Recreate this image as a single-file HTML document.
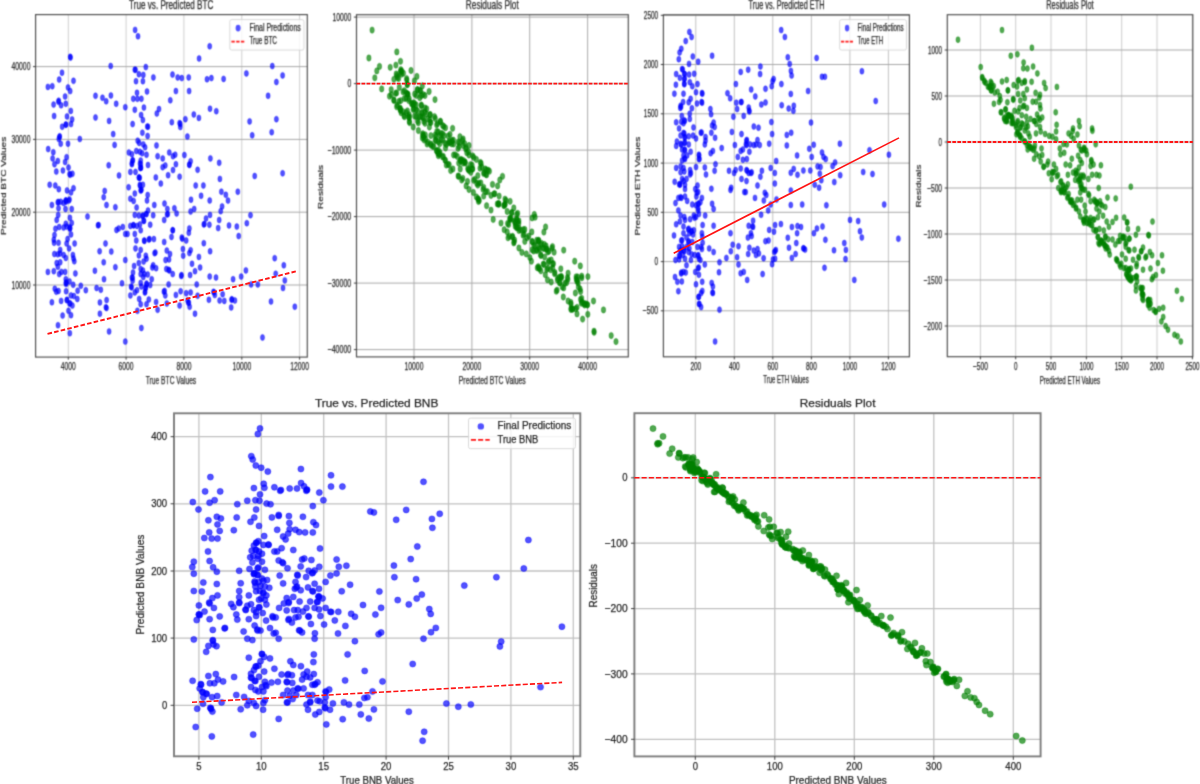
<!DOCTYPE html><html><head><meta charset="utf-8"><title>Predictions vs Residuals</title><style>html,body{margin:0;padding:0;background:#fff;width:1200px;height:784px;overflow:hidden}</style></head><body><svg width="1200" height="784" viewBox="0 0 1200 784" style="display:block;font-family:'Liberation Sans', sans-serif">
<rect width="1200" height="784" fill="#fff"/>
<defs>
<clipPath id="c1"><rect x="35.6" y="14.6" width="271.7" height="342.5"/></clipPath>
<clipPath id="c2"><rect x="356.5" y="14.7" width="271.8" height="342.2"/></clipPath>
<clipPath id="c3"><rect x="663.4" y="14.8" width="246.0" height="342.0"/></clipPath>
<clipPath id="c4"><rect x="947.3" y="14.7" width="245.5" height="342.0"/></clipPath>
<clipPath id="c5"><rect x="174.0" y="413.3" width="406.3" height="343.0"/></clipPath>
<clipPath id="c6"><rect x="634.4" y="413.2" width="406.2" height="343.2"/></clipPath>
<filter id="bt" filterUnits="userSpaceOnUse" x="0" y="0" width="1200" height="392" color-interpolation-filters="sRGB"><feConvolveMatrix order="3" kernelMatrix="1 3 1 3 9 3 1 3 1" divisor="25" edgeMode="none"/></filter>
<filter id="bb" filterUnits="userSpaceOnUse" x="0" y="390" width="1200" height="394" color-interpolation-filters="sRGB"><feConvolveMatrix order="3" kernelMatrix="1 4 1 4 16 4 1 4 1" divisor="36" edgeMode="none"/></filter>
</defs>
<g filter="url(#bt)">
<g stroke="#cfcfcf" stroke-width="1.0">
<line x1="68.3" y1="14.6" x2="68.3" y2="357.1"/>
<line x1="126.1" y1="14.6" x2="126.1" y2="357.1"/>
<line x1="183.9" y1="14.6" x2="183.9" y2="357.1"/>
<line x1="241.8" y1="14.6" x2="241.8" y2="357.1"/>
<line x1="299.6" y1="14.6" x2="299.6" y2="357.1"/>
</g>
<g stroke="#a8a8a8" stroke-width="1.0">
<line x1="35.6" y1="285.0" x2="307.3" y2="285.0"/>
<line x1="35.6" y1="212.2" x2="307.3" y2="212.2"/>
<line x1="35.6" y1="139.4" x2="307.3" y2="139.4"/>
<line x1="35.6" y1="66.6" x2="307.3" y2="66.6"/>
</g>
<g clip-path="url(#c1)">
<g fill="#0000ff" fill-opacity="0.68" stroke="#0000ff" stroke-opacity="0.68" stroke-width="0.6">
<ellipse cx="70.5" cy="57.6" rx="2.0" ry="3.0"/>
<ellipse cx="70.2" cy="56.8" rx="2.0" ry="3.0"/>
<ellipse cx="110.7" cy="66.0" rx="2.0" ry="3.0"/>
<ellipse cx="62.0" cy="72.7" rx="2.0" ry="3.0"/>
<ellipse cx="59.2" cy="79.6" rx="2.0" ry="3.0"/>
<ellipse cx="73.5" cy="80.8" rx="2.0" ry="3.0"/>
<ellipse cx="47.9" cy="86.9" rx="2.0" ry="3.0"/>
<ellipse cx="52.3" cy="86.2" rx="2.0" ry="3.0"/>
<ellipse cx="68.0" cy="87.4" rx="2.0" ry="3.0"/>
<ellipse cx="70.2" cy="91.1" rx="2.0" ry="3.0"/>
<ellipse cx="65.1" cy="96.5" rx="2.0" ry="3.0"/>
<ellipse cx="58.5" cy="101.8" rx="2.0" ry="3.0"/>
<ellipse cx="58.7" cy="100.7" rx="2.0" ry="3.0"/>
<ellipse cx="53.6" cy="104.6" rx="2.0" ry="3.0"/>
<ellipse cx="61.1" cy="105.3" rx="2.0" ry="3.0"/>
<ellipse cx="65.8" cy="103.8" rx="2.0" ry="3.0"/>
<ellipse cx="95.5" cy="95.8" rx="2.0" ry="3.0"/>
<ellipse cx="102.5" cy="97.7" rx="2.0" ry="3.0"/>
<ellipse cx="106.2" cy="101.3" rx="2.0" ry="3.0"/>
<ellipse cx="110.9" cy="95.5" rx="2.0" ry="3.0"/>
<ellipse cx="116.2" cy="103.8" rx="2.0" ry="3.0"/>
<ellipse cx="125.3" cy="107.2" rx="2.0" ry="3.0"/>
<ellipse cx="70.8" cy="110.9" rx="2.0" ry="3.0"/>
<ellipse cx="54.1" cy="116.0" rx="2.0" ry="3.0"/>
<ellipse cx="67.0" cy="116.4" rx="2.0" ry="3.0"/>
<ellipse cx="72.1" cy="119.4" rx="2.0" ry="3.0"/>
<ellipse cx="95.5" cy="117.5" rx="2.0" ry="3.0"/>
<ellipse cx="109.1" cy="120.9" rx="2.0" ry="3.0"/>
<ellipse cx="62.2" cy="126.7" rx="2.0" ry="3.0"/>
<ellipse cx="65.8" cy="124.8" rx="2.0" ry="3.0"/>
<ellipse cx="65.9" cy="124.5" rx="2.0" ry="3.0"/>
<ellipse cx="71.0" cy="124.1" rx="2.0" ry="3.0"/>
<ellipse cx="135.1" cy="29.9" rx="2.0" ry="3.0"/>
<ellipse cx="138.0" cy="36.3" rx="2.0" ry="3.0"/>
<ellipse cx="209.7" cy="46.3" rx="2.0" ry="3.0"/>
<ellipse cx="199.1" cy="58.5" rx="2.0" ry="3.0"/>
<ellipse cx="145.8" cy="67.1" rx="2.0" ry="3.0"/>
<ellipse cx="135.5" cy="69.8" rx="2.0" ry="3.0"/>
<ellipse cx="134.8" cy="69.8" rx="2.0" ry="3.0"/>
<ellipse cx="138.9" cy="74.2" rx="2.0" ry="3.0"/>
<ellipse cx="143.3" cy="74.9" rx="2.0" ry="3.0"/>
<ellipse cx="153.4" cy="77.4" rx="2.0" ry="3.0"/>
<ellipse cx="136.0" cy="81.2" rx="2.0" ry="3.0"/>
<ellipse cx="142.9" cy="81.2" rx="2.0" ry="3.0"/>
<ellipse cx="172.5" cy="74.6" rx="2.0" ry="3.0"/>
<ellipse cx="177.7" cy="77.4" rx="2.0" ry="3.0"/>
<ellipse cx="181.8" cy="78.1" rx="2.0" ry="3.0"/>
<ellipse cx="188.7" cy="77.4" rx="2.0" ry="3.0"/>
<ellipse cx="207.0" cy="79.3" rx="2.0" ry="3.0"/>
<ellipse cx="211.4" cy="78.1" rx="2.0" ry="3.0"/>
<ellipse cx="137.0" cy="92.8" rx="2.0" ry="3.0"/>
<ellipse cx="147.0" cy="91.5" rx="2.0" ry="3.0"/>
<ellipse cx="175.9" cy="91.1" rx="2.0" ry="3.0"/>
<ellipse cx="189.1" cy="91.1" rx="2.0" ry="3.0"/>
<ellipse cx="133.3" cy="98.8" rx="2.0" ry="3.0"/>
<ellipse cx="137.4" cy="98.8" rx="2.0" ry="3.0"/>
<ellipse cx="141.4" cy="98.8" rx="2.0" ry="3.0"/>
<ellipse cx="170.3" cy="100.3" rx="2.0" ry="3.0"/>
<ellipse cx="134.8" cy="109.8" rx="2.0" ry="3.0"/>
<ellipse cx="143.9" cy="107.6" rx="2.0" ry="3.0"/>
<ellipse cx="159.0" cy="109.1" rx="2.0" ry="3.0"/>
<ellipse cx="156.8" cy="113.5" rx="2.0" ry="3.0"/>
<ellipse cx="141.1" cy="115.0" rx="2.0" ry="3.0"/>
<ellipse cx="142.9" cy="120.0" rx="2.0" ry="3.0"/>
<ellipse cx="210.0" cy="108.7" rx="2.0" ry="3.0"/>
<ellipse cx="216.3" cy="111.2" rx="2.0" ry="3.0"/>
<ellipse cx="193.8" cy="114.5" rx="2.0" ry="3.0"/>
<ellipse cx="198.9" cy="117.9" rx="2.0" ry="3.0"/>
<ellipse cx="185.4" cy="119.2" rx="2.0" ry="3.0"/>
<ellipse cx="171.8" cy="122.2" rx="2.0" ry="3.0"/>
<ellipse cx="132.6" cy="124.1" rx="2.0" ry="3.0"/>
<ellipse cx="148.0" cy="126.7" rx="2.0" ry="3.0"/>
<ellipse cx="147.3" cy="126.6" rx="2.0" ry="3.0"/>
<ellipse cx="180.3" cy="124.1" rx="2.0" ry="3.0"/>
<ellipse cx="179.6" cy="123.1" rx="2.0" ry="3.0"/>
<ellipse cx="180.3" cy="127.0" rx="2.0" ry="3.0"/>
<ellipse cx="223.6" cy="78.9" rx="2.0" ry="3.0"/>
<ellipse cx="246.4" cy="73.4" rx="2.0" ry="3.0"/>
<ellipse cx="272.3" cy="66.1" rx="2.0" ry="3.0"/>
<ellipse cx="282.6" cy="75.4" rx="2.0" ry="3.0"/>
<ellipse cx="276.4" cy="82.0" rx="2.0" ry="3.0"/>
<ellipse cx="268.1" cy="95.8" rx="2.0" ry="3.0"/>
<ellipse cx="249.6" cy="121.4" rx="2.0" ry="3.0"/>
<ellipse cx="276.4" cy="119.2" rx="2.0" ry="3.0"/>
<ellipse cx="59.7" cy="136.3" rx="2.0" ry="3.0"/>
<ellipse cx="59.5" cy="137.1" rx="2.0" ry="3.0"/>
<ellipse cx="58.8" cy="139.0" rx="2.0" ry="3.0"/>
<ellipse cx="79.8" cy="139.0" rx="2.0" ry="3.0"/>
<ellipse cx="113.2" cy="134.1" rx="2.0" ry="3.0"/>
<ellipse cx="60.7" cy="143.7" rx="2.0" ry="3.0"/>
<ellipse cx="68.0" cy="143.7" rx="2.0" ry="3.0"/>
<ellipse cx="114.6" cy="144.9" rx="2.0" ry="3.0"/>
<ellipse cx="48.2" cy="149.1" rx="2.0" ry="3.0"/>
<ellipse cx="53.3" cy="152.2" rx="2.0" ry="3.0"/>
<ellipse cx="52.6" cy="158.4" rx="2.0" ry="3.0"/>
<ellipse cx="57.8" cy="161.0" rx="2.0" ry="3.0"/>
<ellipse cx="66.6" cy="157.2" rx="2.0" ry="3.0"/>
<ellipse cx="65.1" cy="162.0" rx="2.0" ry="3.0"/>
<ellipse cx="54.5" cy="164.2" rx="2.0" ry="3.0"/>
<ellipse cx="68.5" cy="167.5" rx="2.0" ry="3.0"/>
<ellipse cx="56.3" cy="171.6" rx="2.0" ry="3.0"/>
<ellipse cx="62.9" cy="170.5" rx="2.0" ry="3.0"/>
<ellipse cx="70.2" cy="174.8" rx="2.0" ry="3.0"/>
<ellipse cx="69.6" cy="174.1" rx="2.0" ry="3.0"/>
<ellipse cx="72.4" cy="173.8" rx="2.0" ry="3.0"/>
<ellipse cx="108.7" cy="165.3" rx="2.0" ry="3.0"/>
<ellipse cx="119.0" cy="175.4" rx="2.0" ry="3.0"/>
<ellipse cx="49.7" cy="184.8" rx="2.0" ry="3.0"/>
<ellipse cx="55.3" cy="185.5" rx="2.0" ry="3.0"/>
<ellipse cx="58.8" cy="189.2" rx="2.0" ry="3.0"/>
<ellipse cx="67.0" cy="190.4" rx="2.0" ry="3.0"/>
<ellipse cx="71.0" cy="192.4" rx="2.0" ry="3.0"/>
<ellipse cx="73.5" cy="188.2" rx="2.0" ry="3.0"/>
<ellipse cx="104.7" cy="190.9" rx="2.0" ry="3.0"/>
<ellipse cx="103.7" cy="197.2" rx="2.0" ry="3.0"/>
<ellipse cx="65.8" cy="200.6" rx="2.0" ry="3.0"/>
<ellipse cx="66.0" cy="201.7" rx="2.0" ry="3.0"/>
<ellipse cx="65.9" cy="200.4" rx="2.0" ry="3.0"/>
<ellipse cx="68.8" cy="200.6" rx="2.0" ry="3.0"/>
<ellipse cx="69.5" cy="199.5" rx="2.0" ry="3.0"/>
<ellipse cx="57.8" cy="202.4" rx="2.0" ry="3.0"/>
<ellipse cx="58.3" cy="201.9" rx="2.0" ry="3.0"/>
<ellipse cx="60.7" cy="201.7" rx="2.0" ry="3.0"/>
<ellipse cx="63.6" cy="203.1" rx="2.0" ry="3.0"/>
<ellipse cx="51.9" cy="205.0" rx="2.0" ry="3.0"/>
<ellipse cx="58.5" cy="208.3" rx="2.0" ry="3.0"/>
<ellipse cx="65.5" cy="209.0" rx="2.0" ry="3.0"/>
<ellipse cx="71.7" cy="209.0" rx="2.0" ry="3.0"/>
<ellipse cx="106.5" cy="205.0" rx="2.0" ry="3.0"/>
<ellipse cx="115.4" cy="207.2" rx="2.0" ry="3.0"/>
<ellipse cx="58.2" cy="214.9" rx="2.0" ry="3.0"/>
<ellipse cx="56.7" cy="220.0" rx="2.0" ry="3.0"/>
<ellipse cx="69.9" cy="217.8" rx="2.0" ry="3.0"/>
<ellipse cx="87.5" cy="216.6" rx="2.0" ry="3.0"/>
<ellipse cx="65.8" cy="223.7" rx="2.0" ry="3.0"/>
<ellipse cx="71.7" cy="222.9" rx="2.0" ry="3.0"/>
<ellipse cx="55.5" cy="228.8" rx="2.0" ry="3.0"/>
<ellipse cx="59.2" cy="227.0" rx="2.0" ry="3.0"/>
<ellipse cx="63.6" cy="227.6" rx="2.0" ry="3.0"/>
<ellipse cx="70.2" cy="228.1" rx="2.0" ry="3.0"/>
<ellipse cx="69.7" cy="227.2" rx="2.0" ry="3.0"/>
<ellipse cx="69.9" cy="228.8" rx="2.0" ry="3.0"/>
<ellipse cx="66.6" cy="226.6" rx="2.0" ry="3.0"/>
<ellipse cx="98.6" cy="225.1" rx="2.0" ry="3.0"/>
<ellipse cx="98.0" cy="225.3" rx="2.0" ry="3.0"/>
<ellipse cx="116.5" cy="230.0" rx="2.0" ry="3.0"/>
<ellipse cx="118.7" cy="228.5" rx="2.0" ry="3.0"/>
<ellipse cx="122.8" cy="227.0" rx="2.0" ry="3.0"/>
<ellipse cx="125.3" cy="233.9" rx="2.0" ry="3.0"/>
<ellipse cx="71.0" cy="234.4" rx="2.0" ry="3.0"/>
<ellipse cx="54.5" cy="235.0" rx="2.0" ry="3.0"/>
<ellipse cx="53.8" cy="239.8" rx="2.0" ry="3.0"/>
<ellipse cx="67.6" cy="239.1" rx="2.0" ry="3.0"/>
<ellipse cx="54.1" cy="242.8" rx="2.0" ry="3.0"/>
<ellipse cx="58.5" cy="242.8" rx="2.0" ry="3.0"/>
<ellipse cx="74.6" cy="243.5" rx="2.0" ry="3.0"/>
<ellipse cx="105.5" cy="243.5" rx="2.0" ry="3.0"/>
<ellipse cx="66.6" cy="243.5" rx="2.0" ry="3.0"/>
<ellipse cx="142.4" cy="132.7" rx="2.0" ry="3.0"/>
<ellipse cx="147.6" cy="136.0" rx="2.0" ry="3.0"/>
<ellipse cx="187.4" cy="136.6" rx="2.0" ry="3.0"/>
<ellipse cx="137.7" cy="140.7" rx="2.0" ry="3.0"/>
<ellipse cx="139.2" cy="142.9" rx="2.0" ry="3.0"/>
<ellipse cx="143.3" cy="144.4" rx="2.0" ry="3.0"/>
<ellipse cx="145.1" cy="147.3" rx="2.0" ry="3.0"/>
<ellipse cx="156.5" cy="145.4" rx="2.0" ry="3.0"/>
<ellipse cx="128.9" cy="152.5" rx="2.0" ry="3.0"/>
<ellipse cx="131.9" cy="154.2" rx="2.0" ry="3.0"/>
<ellipse cx="136.3" cy="151.0" rx="2.0" ry="3.0"/>
<ellipse cx="139.9" cy="151.8" rx="2.0" ry="3.0"/>
<ellipse cx="142.1" cy="153.2" rx="2.0" ry="3.0"/>
<ellipse cx="146.5" cy="154.7" rx="2.0" ry="3.0"/>
<ellipse cx="157.6" cy="156.2" rx="2.0" ry="3.0"/>
<ellipse cx="162.7" cy="158.4" rx="2.0" ry="3.0"/>
<ellipse cx="169.3" cy="152.5" rx="2.0" ry="3.0"/>
<ellipse cx="173.0" cy="156.2" rx="2.0" ry="3.0"/>
<ellipse cx="175.2" cy="154.7" rx="2.0" ry="3.0"/>
<ellipse cx="184.4" cy="155.1" rx="2.0" ry="3.0"/>
<ellipse cx="210.4" cy="158.4" rx="2.0" ry="3.0"/>
<ellipse cx="132.6" cy="160.6" rx="2.0" ry="3.0"/>
<ellipse cx="132.8" cy="160.3" rx="2.0" ry="3.0"/>
<ellipse cx="131.9" cy="164.2" rx="2.0" ry="3.0"/>
<ellipse cx="131.9" cy="163.2" rx="2.0" ry="3.0"/>
<ellipse cx="140.7" cy="160.6" rx="2.0" ry="3.0"/>
<ellipse cx="140.7" cy="164.2" rx="2.0" ry="3.0"/>
<ellipse cx="140.0" cy="163.5" rx="2.0" ry="3.0"/>
<ellipse cx="140.7" cy="167.9" rx="2.0" ry="3.0"/>
<ellipse cx="141.0" cy="167.7" rx="2.0" ry="3.0"/>
<ellipse cx="140.4" cy="168.1" rx="2.0" ry="3.0"/>
<ellipse cx="148.0" cy="165.0" rx="2.0" ry="3.0"/>
<ellipse cx="162.7" cy="167.2" rx="2.0" ry="3.0"/>
<ellipse cx="165.3" cy="165.4" rx="2.0" ry="3.0"/>
<ellipse cx="175.9" cy="164.2" rx="2.0" ry="3.0"/>
<ellipse cx="190.6" cy="161.3" rx="2.0" ry="3.0"/>
<ellipse cx="189.4" cy="165.0" rx="2.0" ry="3.0"/>
<ellipse cx="189.3" cy="164.5" rx="2.0" ry="3.0"/>
<ellipse cx="197.6" cy="169.8" rx="2.0" ry="3.0"/>
<ellipse cx="173.0" cy="170.1" rx="2.0" ry="3.0"/>
<ellipse cx="130.4" cy="171.9" rx="2.0" ry="3.0"/>
<ellipse cx="135.5" cy="171.9" rx="2.0" ry="3.0"/>
<ellipse cx="139.2" cy="177.4" rx="2.0" ry="3.0"/>
<ellipse cx="139.7" cy="177.9" rx="2.0" ry="3.0"/>
<ellipse cx="138.8" cy="177.6" rx="2.0" ry="3.0"/>
<ellipse cx="155.8" cy="177.4" rx="2.0" ry="3.0"/>
<ellipse cx="168.1" cy="175.2" rx="2.0" ry="3.0"/>
<ellipse cx="179.6" cy="176.7" rx="2.0" ry="3.0"/>
<ellipse cx="160.8" cy="183.6" rx="2.0" ry="3.0"/>
<ellipse cx="128.6" cy="187.3" rx="2.0" ry="3.0"/>
<ellipse cx="139.9" cy="184.8" rx="2.0" ry="3.0"/>
<ellipse cx="140.0" cy="185.7" rx="2.0" ry="3.0"/>
<ellipse cx="142.9" cy="184.8" rx="2.0" ry="3.0"/>
<ellipse cx="140.7" cy="190.6" rx="2.0" ry="3.0"/>
<ellipse cx="141.0" cy="190.1" rx="2.0" ry="3.0"/>
<ellipse cx="141.4" cy="189.7" rx="2.0" ry="3.0"/>
<ellipse cx="134.8" cy="193.6" rx="2.0" ry="3.0"/>
<ellipse cx="147.7" cy="195.0" rx="2.0" ry="3.0"/>
<ellipse cx="195.7" cy="185.5" rx="2.0" ry="3.0"/>
<ellipse cx="203.4" cy="185.5" rx="2.0" ry="3.0"/>
<ellipse cx="201.1" cy="195.8" rx="2.0" ry="3.0"/>
<ellipse cx="130.4" cy="198.7" rx="2.0" ry="3.0"/>
<ellipse cx="133.6" cy="200.9" rx="2.0" ry="3.0"/>
<ellipse cx="147.0" cy="200.5" rx="2.0" ry="3.0"/>
<ellipse cx="191.0" cy="199.7" rx="2.0" ry="3.0"/>
<ellipse cx="209.7" cy="200.5" rx="2.0" ry="3.0"/>
<ellipse cx="136.6" cy="207.5" rx="2.0" ry="3.0"/>
<ellipse cx="154.3" cy="205.0" rx="2.0" ry="3.0"/>
<ellipse cx="164.5" cy="203.6" rx="2.0" ry="3.0"/>
<ellipse cx="167.4" cy="209.0" rx="2.0" ry="3.0"/>
<ellipse cx="174.4" cy="208.3" rx="2.0" ry="3.0"/>
<ellipse cx="176.6" cy="213.4" rx="2.0" ry="3.0"/>
<ellipse cx="194.2" cy="209.0" rx="2.0" ry="3.0"/>
<ellipse cx="190.6" cy="211.5" rx="2.0" ry="3.0"/>
<ellipse cx="134.8" cy="214.9" rx="2.0" ry="3.0"/>
<ellipse cx="138.9" cy="215.6" rx="2.0" ry="3.0"/>
<ellipse cx="142.9" cy="215.6" rx="2.0" ry="3.0"/>
<ellipse cx="142.7" cy="216.2" rx="2.0" ry="3.0"/>
<ellipse cx="146.5" cy="214.1" rx="2.0" ry="3.0"/>
<ellipse cx="146.0" cy="214.1" rx="2.0" ry="3.0"/>
<ellipse cx="148.0" cy="210.5" rx="2.0" ry="3.0"/>
<ellipse cx="153.2" cy="215.3" rx="2.0" ry="3.0"/>
<ellipse cx="167.8" cy="214.1" rx="2.0" ry="3.0"/>
<ellipse cx="167.1" cy="214.5" rx="2.0" ry="3.0"/>
<ellipse cx="164.2" cy="220.0" rx="2.0" ry="3.0"/>
<ellipse cx="143.6" cy="220.7" rx="2.0" ry="3.0"/>
<ellipse cx="144.0" cy="220.9" rx="2.0" ry="3.0"/>
<ellipse cx="210.0" cy="214.9" rx="2.0" ry="3.0"/>
<ellipse cx="206.0" cy="218.5" rx="2.0" ry="3.0"/>
<ellipse cx="203.8" cy="224.4" rx="2.0" ry="3.0"/>
<ellipse cx="204.4" cy="224.0" rx="2.0" ry="3.0"/>
<ellipse cx="209.4" cy="224.7" rx="2.0" ry="3.0"/>
<ellipse cx="130.4" cy="225.9" rx="2.0" ry="3.0"/>
<ellipse cx="133.3" cy="225.1" rx="2.0" ry="3.0"/>
<ellipse cx="133.7" cy="225.4" rx="2.0" ry="3.0"/>
<ellipse cx="137.0" cy="225.9" rx="2.0" ry="3.0"/>
<ellipse cx="139.9" cy="224.4" rx="2.0" ry="3.0"/>
<ellipse cx="150.2" cy="224.7" rx="2.0" ry="3.0"/>
<ellipse cx="127.5" cy="233.9" rx="2.0" ry="3.0"/>
<ellipse cx="134.8" cy="233.9" rx="2.0" ry="3.0"/>
<ellipse cx="140.7" cy="230.3" rx="2.0" ry="3.0"/>
<ellipse cx="172.7" cy="230.3" rx="2.0" ry="3.0"/>
<ellipse cx="172.8" cy="230.2" rx="2.0" ry="3.0"/>
<ellipse cx="171.5" cy="236.9" rx="2.0" ry="3.0"/>
<ellipse cx="189.4" cy="228.4" rx="2.0" ry="3.0"/>
<ellipse cx="188.8" cy="232.8" rx="2.0" ry="3.0"/>
<ellipse cx="181.8" cy="237.6" rx="2.0" ry="3.0"/>
<ellipse cx="182.3" cy="238.7" rx="2.0" ry="3.0"/>
<ellipse cx="186.2" cy="240.5" rx="2.0" ry="3.0"/>
<ellipse cx="136.3" cy="240.5" rx="2.0" ry="3.0"/>
<ellipse cx="144.3" cy="240.5" rx="2.0" ry="3.0"/>
<ellipse cx="144.3" cy="240.9" rx="2.0" ry="3.0"/>
<ellipse cx="149.5" cy="239.1" rx="2.0" ry="3.0"/>
<ellipse cx="148.8" cy="239.6" rx="2.0" ry="3.0"/>
<ellipse cx="153.9" cy="239.1" rx="2.0" ry="3.0"/>
<ellipse cx="164.2" cy="242.0" rx="2.0" ry="3.0"/>
<ellipse cx="203.8" cy="243.2" rx="2.0" ry="3.0"/>
<ellipse cx="252.2" cy="135.3" rx="2.0" ry="3.0"/>
<ellipse cx="271.7" cy="132.2" rx="2.0" ry="3.0"/>
<ellipse cx="219.2" cy="162.8" rx="2.0" ry="3.0"/>
<ellipse cx="219.9" cy="178.9" rx="2.0" ry="3.0"/>
<ellipse cx="254.7" cy="176.0" rx="2.0" ry="3.0"/>
<ellipse cx="282.6" cy="173.3" rx="2.0" ry="3.0"/>
<ellipse cx="221.4" cy="191.7" rx="2.0" ry="3.0"/>
<ellipse cx="225.8" cy="194.8" rx="2.0" ry="3.0"/>
<ellipse cx="228.0" cy="200.6" rx="2.0" ry="3.0"/>
<ellipse cx="237.8" cy="191.7" rx="2.0" ry="3.0"/>
<ellipse cx="222.1" cy="206.4" rx="2.0" ry="3.0"/>
<ellipse cx="220.7" cy="211.2" rx="2.0" ry="3.0"/>
<ellipse cx="219.2" cy="220.0" rx="2.0" ry="3.0"/>
<ellipse cx="218.2" cy="228.1" rx="2.0" ry="3.0"/>
<ellipse cx="229.0" cy="225.4" rx="2.0" ry="3.0"/>
<ellipse cx="236.8" cy="226.6" rx="2.0" ry="3.0"/>
<ellipse cx="238.7" cy="236.1" rx="2.0" ry="3.0"/>
<ellipse cx="246.8" cy="223.2" rx="2.0" ry="3.0"/>
<ellipse cx="250.5" cy="215.2" rx="2.0" ry="3.0"/>
<ellipse cx="60.2" cy="249.9" rx="2.0" ry="3.0"/>
<ellipse cx="54.4" cy="254.0" rx="2.0" ry="3.0"/>
<ellipse cx="57.8" cy="254.3" rx="2.0" ry="3.0"/>
<ellipse cx="60.0" cy="253.5" rx="2.0" ry="3.0"/>
<ellipse cx="63.6" cy="255.0" rx="2.0" ry="3.0"/>
<ellipse cx="65.8" cy="257.9" rx="2.0" ry="3.0"/>
<ellipse cx="69.1" cy="248.4" rx="2.0" ry="3.0"/>
<ellipse cx="72.9" cy="255.0" rx="2.0" ry="3.0"/>
<ellipse cx="73.5" cy="258.4" rx="2.0" ry="3.0"/>
<ellipse cx="74.3" cy="261.3" rx="2.0" ry="3.0"/>
<ellipse cx="56.7" cy="263.1" rx="2.0" ry="3.0"/>
<ellipse cx="60.2" cy="262.3" rx="2.0" ry="3.0"/>
<ellipse cx="57.8" cy="266.8" rx="2.0" ry="3.0"/>
<ellipse cx="47.9" cy="271.9" rx="2.0" ry="3.0"/>
<ellipse cx="53.8" cy="271.2" rx="2.0" ry="3.0"/>
<ellipse cx="59.2" cy="274.1" rx="2.0" ry="3.0"/>
<ellipse cx="61.4" cy="271.9" rx="2.0" ry="3.0"/>
<ellipse cx="65.1" cy="271.9" rx="2.0" ry="3.0"/>
<ellipse cx="75.4" cy="273.4" rx="2.0" ry="3.0"/>
<ellipse cx="99.6" cy="251.3" rx="2.0" ry="3.0"/>
<ellipse cx="111.3" cy="251.6" rx="2.0" ry="3.0"/>
<ellipse cx="103.7" cy="262.3" rx="2.0" ry="3.0"/>
<ellipse cx="115.4" cy="267.2" rx="2.0" ry="3.0"/>
<ellipse cx="94.9" cy="270.7" rx="2.0" ry="3.0"/>
<ellipse cx="104.0" cy="279.2" rx="2.0" ry="3.0"/>
<ellipse cx="122.0" cy="283.3" rx="2.0" ry="3.0"/>
<ellipse cx="125.3" cy="260.1" rx="2.0" ry="3.0"/>
<ellipse cx="65.8" cy="279.2" rx="2.0" ry="3.0"/>
<ellipse cx="65.8" cy="282.9" rx="2.0" ry="3.0"/>
<ellipse cx="66.1" cy="284.1" rx="2.0" ry="3.0"/>
<ellipse cx="66.3" cy="282.4" rx="2.0" ry="3.0"/>
<ellipse cx="69.5" cy="281.4" rx="2.0" ry="3.0"/>
<ellipse cx="73.2" cy="284.8" rx="2.0" ry="3.0"/>
<ellipse cx="80.8" cy="285.8" rx="2.0" ry="3.0"/>
<ellipse cx="54.8" cy="288.8" rx="2.0" ry="3.0"/>
<ellipse cx="56.3" cy="291.7" rx="2.0" ry="3.0"/>
<ellipse cx="58.5" cy="291.0" rx="2.0" ry="3.0"/>
<ellipse cx="66.1" cy="291.3" rx="2.0" ry="3.0"/>
<ellipse cx="77.6" cy="290.7" rx="2.0" ry="3.0"/>
<ellipse cx="85.8" cy="290.2" rx="2.0" ry="3.0"/>
<ellipse cx="96.6" cy="288.0" rx="2.0" ry="3.0"/>
<ellipse cx="100.8" cy="289.8" rx="2.0" ry="3.0"/>
<ellipse cx="71.0" cy="295.4" rx="2.0" ry="3.0"/>
<ellipse cx="73.9" cy="296.1" rx="2.0" ry="3.0"/>
<ellipse cx="77.3" cy="299.0" rx="2.0" ry="3.0"/>
<ellipse cx="67.0" cy="299.8" rx="2.0" ry="3.0"/>
<ellipse cx="66.8" cy="300.2" rx="2.0" ry="3.0"/>
<ellipse cx="70.2" cy="303.4" rx="2.0" ry="3.0"/>
<ellipse cx="69.5" cy="303.4" rx="2.0" ry="3.0"/>
<ellipse cx="72.4" cy="305.6" rx="2.0" ry="3.0"/>
<ellipse cx="51.9" cy="302.3" rx="2.0" ry="3.0"/>
<ellipse cx="61.1" cy="300.9" rx="2.0" ry="3.0"/>
<ellipse cx="99.9" cy="302.4" rx="2.0" ry="3.0"/>
<ellipse cx="106.6" cy="300.1" rx="2.0" ry="3.0"/>
<ellipse cx="106.5" cy="308.1" rx="2.0" ry="3.0"/>
<ellipse cx="105.9" cy="307.2" rx="2.0" ry="3.0"/>
<ellipse cx="68.5" cy="310.8" rx="2.0" ry="3.0"/>
<ellipse cx="71.0" cy="315.2" rx="2.0" ry="3.0"/>
<ellipse cx="62.6" cy="315.6" rx="2.0" ry="3.0"/>
<ellipse cx="99.9" cy="313.7" rx="2.0" ry="3.0"/>
<ellipse cx="58.0" cy="325.2" rx="2.0" ry="3.0"/>
<ellipse cx="69.8" cy="333.2" rx="2.0" ry="3.0"/>
<ellipse cx="109.1" cy="331.5" rx="2.0" ry="3.0"/>
<ellipse cx="125.3" cy="341.6" rx="2.0" ry="3.0"/>
<ellipse cx="135.5" cy="248.4" rx="2.0" ry="3.0"/>
<ellipse cx="140.7" cy="249.9" rx="2.0" ry="3.0"/>
<ellipse cx="138.9" cy="255.4" rx="2.0" ry="3.0"/>
<ellipse cx="145.8" cy="255.7" rx="2.0" ry="3.0"/>
<ellipse cx="146.5" cy="258.7" rx="2.0" ry="3.0"/>
<ellipse cx="143.6" cy="261.6" rx="2.0" ry="3.0"/>
<ellipse cx="155.4" cy="252.5" rx="2.0" ry="3.0"/>
<ellipse cx="154.6" cy="253.2" rx="2.0" ry="3.0"/>
<ellipse cx="166.8" cy="250.6" rx="2.0" ry="3.0"/>
<ellipse cx="170.0" cy="254.0" rx="2.0" ry="3.0"/>
<ellipse cx="165.6" cy="260.1" rx="2.0" ry="3.0"/>
<ellipse cx="169.0" cy="259.4" rx="2.0" ry="3.0"/>
<ellipse cx="182.9" cy="249.1" rx="2.0" ry="3.0"/>
<ellipse cx="183.2" cy="255.7" rx="2.0" ry="3.0"/>
<ellipse cx="190.6" cy="250.2" rx="2.0" ry="3.0"/>
<ellipse cx="189.4" cy="253.1" rx="2.0" ry="3.0"/>
<ellipse cx="198.9" cy="256.9" rx="2.0" ry="3.0"/>
<ellipse cx="210.1" cy="251.3" rx="2.0" ry="3.0"/>
<ellipse cx="138.8" cy="263.1" rx="2.0" ry="3.0"/>
<ellipse cx="134.1" cy="266.0" rx="2.0" ry="3.0"/>
<ellipse cx="192.0" cy="263.8" rx="2.0" ry="3.0"/>
<ellipse cx="200.1" cy="267.5" rx="2.0" ry="3.0"/>
<ellipse cx="195.0" cy="271.2" rx="2.0" ry="3.0"/>
<ellipse cx="153.2" cy="265.3" rx="2.0" ry="3.0"/>
<ellipse cx="156.1" cy="268.2" rx="2.0" ry="3.0"/>
<ellipse cx="152.4" cy="267.5" rx="2.0" ry="3.0"/>
<ellipse cx="140.7" cy="269.0" rx="2.0" ry="3.0"/>
<ellipse cx="142.9" cy="270.4" rx="2.0" ry="3.0"/>
<ellipse cx="166.4" cy="269.0" rx="2.0" ry="3.0"/>
<ellipse cx="169.3" cy="270.4" rx="2.0" ry="3.0"/>
<ellipse cx="168.7" cy="269.8" rx="2.0" ry="3.0"/>
<ellipse cx="172.7" cy="274.1" rx="2.0" ry="3.0"/>
<ellipse cx="181.5" cy="275.1" rx="2.0" ry="3.0"/>
<ellipse cx="181.3" cy="276.0" rx="2.0" ry="3.0"/>
<ellipse cx="190.1" cy="275.1" rx="2.0" ry="3.0"/>
<ellipse cx="133.0" cy="272.6" rx="2.0" ry="3.0"/>
<ellipse cx="132.6" cy="277.8" rx="2.0" ry="3.0"/>
<ellipse cx="131.9" cy="277.6" rx="2.0" ry="3.0"/>
<ellipse cx="132.6" cy="280.7" rx="2.0" ry="3.0"/>
<ellipse cx="140.7" cy="274.1" rx="2.0" ry="3.0"/>
<ellipse cx="144.3" cy="274.1" rx="2.0" ry="3.0"/>
<ellipse cx="147.7" cy="274.5" rx="2.0" ry="3.0"/>
<ellipse cx="143.3" cy="277.0" rx="2.0" ry="3.0"/>
<ellipse cx="151.7" cy="279.2" rx="2.0" ry="3.0"/>
<ellipse cx="140.7" cy="282.9" rx="2.0" ry="3.0"/>
<ellipse cx="146.5" cy="283.6" rx="2.0" ry="3.0"/>
<ellipse cx="146.6" cy="284.5" rx="2.0" ry="3.0"/>
<ellipse cx="150.2" cy="285.1" rx="2.0" ry="3.0"/>
<ellipse cx="131.1" cy="286.6" rx="2.0" ry="3.0"/>
<ellipse cx="131.6" cy="287.4" rx="2.0" ry="3.0"/>
<ellipse cx="141.4" cy="286.6" rx="2.0" ry="3.0"/>
<ellipse cx="145.8" cy="288.0" rx="2.0" ry="3.0"/>
<ellipse cx="145.5" cy="287.8" rx="2.0" ry="3.0"/>
<ellipse cx="145.1" cy="291.7" rx="2.0" ry="3.0"/>
<ellipse cx="144.9" cy="292.6" rx="2.0" ry="3.0"/>
<ellipse cx="168.6" cy="284.4" rx="2.0" ry="3.0"/>
<ellipse cx="196.7" cy="284.4" rx="2.0" ry="3.0"/>
<ellipse cx="209.7" cy="276.6" rx="2.0" ry="3.0"/>
<ellipse cx="216.0" cy="277.5" rx="2.0" ry="3.0"/>
<ellipse cx="137.0" cy="290.2" rx="2.0" ry="3.0"/>
<ellipse cx="134.8" cy="292.4" rx="2.0" ry="3.0"/>
<ellipse cx="130.4" cy="295.4" rx="2.0" ry="3.0"/>
<ellipse cx="163.9" cy="291.7" rx="2.0" ry="3.0"/>
<ellipse cx="164.6" cy="290.9" rx="2.0" ry="3.0"/>
<ellipse cx="165.3" cy="295.4" rx="2.0" ry="3.0"/>
<ellipse cx="175.9" cy="294.9" rx="2.0" ry="3.0"/>
<ellipse cx="180.6" cy="291.3" rx="2.0" ry="3.0"/>
<ellipse cx="186.2" cy="293.2" rx="2.0" ry="3.0"/>
<ellipse cx="190.6" cy="292.4" rx="2.0" ry="3.0"/>
<ellipse cx="197.6" cy="295.7" rx="2.0" ry="3.0"/>
<ellipse cx="214.1" cy="292.4" rx="2.0" ry="3.0"/>
<ellipse cx="213.5" cy="291.8" rx="2.0" ry="3.0"/>
<ellipse cx="214.8" cy="295.1" rx="2.0" ry="3.0"/>
<ellipse cx="208.9" cy="299.8" rx="2.0" ry="3.0"/>
<ellipse cx="139.2" cy="299.0" rx="2.0" ry="3.0"/>
<ellipse cx="148.8" cy="299.5" rx="2.0" ry="3.0"/>
<ellipse cx="140.7" cy="304.2" rx="2.0" ry="3.0"/>
<ellipse cx="146.5" cy="304.2" rx="2.0" ry="3.0"/>
<ellipse cx="156.1" cy="302.0" rx="2.0" ry="3.0"/>
<ellipse cx="166.8" cy="303.4" rx="2.0" ry="3.0"/>
<ellipse cx="179.6" cy="305.6" rx="2.0" ry="3.0"/>
<ellipse cx="187.6" cy="300.5" rx="2.0" ry="3.0"/>
<ellipse cx="188.8" cy="302.7" rx="2.0" ry="3.0"/>
<ellipse cx="188.4" cy="302.7" rx="2.0" ry="3.0"/>
<ellipse cx="189.6" cy="306.8" rx="2.0" ry="3.0"/>
<ellipse cx="137.4" cy="310.8" rx="2.0" ry="3.0"/>
<ellipse cx="157.6" cy="309.8" rx="2.0" ry="3.0"/>
<ellipse cx="195.0" cy="313.7" rx="2.0" ry="3.0"/>
<ellipse cx="141.4" cy="328.0" rx="2.0" ry="3.0"/>
<ellipse cx="233.1" cy="279.2" rx="2.0" ry="3.0"/>
<ellipse cx="241.2" cy="276.6" rx="2.0" ry="3.0"/>
<ellipse cx="245.9" cy="270.4" rx="2.0" ry="3.0"/>
<ellipse cx="251.1" cy="284.4" rx="2.0" ry="3.0"/>
<ellipse cx="257.8" cy="284.4" rx="2.0" ry="3.0"/>
<ellipse cx="274.7" cy="258.2" rx="2.0" ry="3.0"/>
<ellipse cx="283.8" cy="265.3" rx="2.0" ry="3.0"/>
<ellipse cx="275.7" cy="273.8" rx="2.0" ry="3.0"/>
<ellipse cx="284.8" cy="280.4" rx="2.0" ry="3.0"/>
<ellipse cx="283.0" cy="288.0" rx="2.0" ry="3.0"/>
<ellipse cx="222.6" cy="294.2" rx="2.0" ry="3.0"/>
<ellipse cx="219.6" cy="300.5" rx="2.0" ry="3.0"/>
<ellipse cx="224.3" cy="300.9" rx="2.0" ry="3.0"/>
<ellipse cx="231.7" cy="299.8" rx="2.0" ry="3.0"/>
<ellipse cx="231.8" cy="299.2" rx="2.0" ry="3.0"/>
<ellipse cx="234.9" cy="300.5" rx="2.0" ry="3.0"/>
<ellipse cx="231.2" cy="307.4" rx="2.0" ry="3.0"/>
<ellipse cx="271.0" cy="301.5" rx="2.0" ry="3.0"/>
<ellipse cx="294.8" cy="306.7" rx="2.0" ry="3.0"/>
<ellipse cx="262.5" cy="337.5" rx="2.0" ry="3.0"/>
</g>
</g>
<rect x="35.6" y="14.6" width="271.7" height="342.5" fill="none" stroke="#4a4a4a" stroke-width="1.15"/>
<g stroke="#2a2a2a" stroke-width="0.9">
<line x1="68.3" y1="357.1" x2="68.3" y2="359.70000000000005"/>
<line x1="126.1" y1="357.1" x2="126.1" y2="359.70000000000005"/>
<line x1="183.9" y1="357.1" x2="183.9" y2="359.70000000000005"/>
<line x1="241.8" y1="357.1" x2="241.8" y2="359.70000000000005"/>
<line x1="299.6" y1="357.1" x2="299.6" y2="359.70000000000005"/>
<line x1="33.0" y1="285.0" x2="35.6" y2="285.0"/>
<line x1="33.0" y1="212.2" x2="35.6" y2="212.2"/>
<line x1="33.0" y1="139.4" x2="35.6" y2="139.4"/>
<line x1="33.0" y1="66.6" x2="35.6" y2="66.6"/>
</g>
<text x="68.3" y="370.2" font-size="10.8" textLength="15.0" lengthAdjust="spacingAndGlyphs" text-anchor="middle" fill="#262626" stroke="#262626" stroke-width="0.25">4000</text>
<text x="126.1" y="370.2" font-size="10.8" textLength="15.0" lengthAdjust="spacingAndGlyphs" text-anchor="middle" fill="#262626" stroke="#262626" stroke-width="0.25">6000</text>
<text x="183.9" y="370.2" font-size="10.8" textLength="15.0" lengthAdjust="spacingAndGlyphs" text-anchor="middle" fill="#262626" stroke="#262626" stroke-width="0.25">8000</text>
<text x="241.8" y="370.2" font-size="10.8" textLength="18.8" lengthAdjust="spacingAndGlyphs" text-anchor="middle" fill="#262626" stroke="#262626" stroke-width="0.25">10000</text>
<text x="299.6" y="370.2" font-size="10.8" textLength="18.8" lengthAdjust="spacingAndGlyphs" text-anchor="middle" fill="#262626" stroke="#262626" stroke-width="0.25">12000</text>
<text x="30.4" y="288.6" font-size="10.8" textLength="18.8" lengthAdjust="spacingAndGlyphs" text-anchor="end" fill="#262626" stroke="#262626" stroke-width="0.25">10000</text>
<text x="30.4" y="215.8" font-size="10.8" textLength="18.8" lengthAdjust="spacingAndGlyphs" text-anchor="end" fill="#262626" stroke="#262626" stroke-width="0.25">20000</text>
<text x="30.4" y="143.0" font-size="10.8" textLength="18.8" lengthAdjust="spacingAndGlyphs" text-anchor="end" fill="#262626" stroke="#262626" stroke-width="0.25">30000</text>
<text x="30.4" y="70.2" font-size="10.8" textLength="18.8" lengthAdjust="spacingAndGlyphs" text-anchor="end" fill="#262626" stroke="#262626" stroke-width="0.25">40000</text>
<text x="129.1" y="9.1" font-size="12.6" textLength="84.2" lengthAdjust="spacingAndGlyphs" fill="#262626" stroke="#262626" stroke-width="0.25">True vs. Predicted BTC</text>
<text x="145.8" y="383.6" font-size="11.0" textLength="50.4" lengthAdjust="spacingAndGlyphs" fill="#262626" stroke="#262626" stroke-width="0.25">True BTC Values</text>
<text x="0" y="0" font-size="11.0" textLength="98.2" lengthAdjust="spacingAndGlyphs" transform="translate(5.6 235.0) scale(0.68 1) rotate(-90)" fill="#262626" stroke="#262626" stroke-width="0.25">Predicted BTC Values</text>
<rect x="229.8" y="19.6" width="74.2" height="30.5" rx="2" fill="#fff" fill-opacity="0.8" stroke="#d5d5d5" stroke-width="0.9"/>
<ellipse cx="238.1" cy="28.1" rx="2.5" ry="3.4" fill="#0000ff" fill-opacity="0.68"/>
<text x="249.4" y="30.6" font-size="10.3" textLength="51.4" lengthAdjust="spacingAndGlyphs" fill="#262626" stroke="#262626" stroke-width="0.25">Final Predictions</text>
<text x="249.4" y="44.4" font-size="10.3" textLength="27.6" lengthAdjust="spacingAndGlyphs" fill="#262626" stroke="#262626" stroke-width="0.25">True BTC</text>
<line x1="231.4" y1="41.6" x2="244.3" y2="41.6" stroke="#ff1414" stroke-width="1.6" stroke-dasharray="3.4,1.4"/>
<g stroke="#aaaaaa" stroke-width="1.0">
<line x1="414.0" y1="14.7" x2="414.0" y2="356.9"/>
<line x1="471.9" y1="14.7" x2="471.9" y2="356.9"/>
<line x1="529.7" y1="14.7" x2="529.7" y2="356.9"/>
<line x1="587.6" y1="14.7" x2="587.6" y2="356.9"/>
</g>
<g stroke="#a8a8a8" stroke-width="1.0">
<line x1="356.5" y1="349.6" x2="628.3" y2="349.6"/>
<line x1="356.5" y1="283.1" x2="628.3" y2="283.1"/>
<line x1="356.5" y1="216.6" x2="628.3" y2="216.6"/>
<line x1="356.5" y1="150.1" x2="628.3" y2="150.1"/>
<line x1="356.5" y1="83.6" x2="628.3" y2="83.6"/>
<line x1="356.5" y1="17.1" x2="628.3" y2="17.1"/>
</g>
<g clip-path="url(#c2)">
<g fill="#008000" fill-opacity="0.68" stroke="#008000" stroke-opacity="0.68" stroke-width="0.6">
<ellipse cx="372.1" cy="30.1" rx="2.15" ry="3.15"/>
<ellipse cx="368.9" cy="58.0" rx="2.15" ry="3.15"/>
<ellipse cx="396.8" cy="51.9" rx="2.15" ry="3.15"/>
<ellipse cx="400.5" cy="61.3" rx="2.15" ry="3.15"/>
<ellipse cx="395.9" cy="65.1" rx="2.15" ry="3.15"/>
<ellipse cx="390.2" cy="67.3" rx="2.15" ry="3.15"/>
<ellipse cx="379.5" cy="66.4" rx="2.15" ry="3.15"/>
<ellipse cx="376.8" cy="70.9" rx="2.15" ry="3.15"/>
<ellipse cx="374.8" cy="77.8" rx="2.15" ry="3.15"/>
<ellipse cx="381.7" cy="88.9" rx="2.15" ry="3.15"/>
<ellipse cx="411.0" cy="70.5" rx="2.15" ry="3.15"/>
<ellipse cx="401.8" cy="71.2" rx="2.15" ry="3.15"/>
<ellipse cx="401.0" cy="71.0" rx="2.15" ry="3.15"/>
<ellipse cx="401.5" cy="74.2" rx="2.15" ry="3.15"/>
<ellipse cx="416.9" cy="76.4" rx="2.15" ry="3.15"/>
<ellipse cx="396.8" cy="75.6" rx="2.15" ry="3.15"/>
<ellipse cx="393.9" cy="79.3" rx="2.15" ry="3.15"/>
<ellipse cx="398.6" cy="78.6" rx="2.15" ry="3.15"/>
<ellipse cx="406.6" cy="78.6" rx="2.15" ry="3.15"/>
<ellipse cx="414.4" cy="80.8" rx="2.15" ry="3.15"/>
<ellipse cx="422.3" cy="85.9" rx="2.15" ry="3.15"/>
<ellipse cx="391.2" cy="89.6" rx="2.15" ry="3.15"/>
<ellipse cx="395.6" cy="93.3" rx="2.15" ry="3.15"/>
<ellipse cx="399.3" cy="87.4" rx="2.15" ry="3.15"/>
<ellipse cx="407.4" cy="84.5" rx="2.15" ry="3.15"/>
<ellipse cx="407.2" cy="84.6" rx="2.15" ry="3.15"/>
<ellipse cx="417.6" cy="89.6" rx="2.15" ry="3.15"/>
<ellipse cx="420.6" cy="91.1" rx="2.15" ry="3.15"/>
<ellipse cx="429.1" cy="91.5" rx="2.15" ry="3.15"/>
<ellipse cx="425.0" cy="95.5" rx="2.15" ry="3.15"/>
<ellipse cx="435.0" cy="99.6" rx="2.15" ry="3.15"/>
<ellipse cx="389.5" cy="96.2" rx="2.15" ry="3.15"/>
<ellipse cx="393.9" cy="99.9" rx="2.15" ry="3.15"/>
<ellipse cx="403.0" cy="91.8" rx="2.15" ry="3.15"/>
<ellipse cx="407.4" cy="94.0" rx="2.15" ry="3.15"/>
<ellipse cx="408.1" cy="94.4" rx="2.15" ry="3.15"/>
<ellipse cx="414.7" cy="94.0" rx="2.15" ry="3.15"/>
<ellipse cx="419.8" cy="97.7" rx="2.15" ry="3.15"/>
<ellipse cx="400.8" cy="100.6" rx="2.15" ry="3.15"/>
<ellipse cx="404.4" cy="98.4" rx="2.15" ry="3.15"/>
<ellipse cx="408.8" cy="100.6" rx="2.15" ry="3.15"/>
<ellipse cx="397.1" cy="105.0" rx="2.15" ry="3.15"/>
<ellipse cx="411.8" cy="103.5" rx="2.15" ry="3.15"/>
<ellipse cx="411.8" cy="103.8" rx="2.15" ry="3.15"/>
<ellipse cx="416.2" cy="105.0" rx="2.15" ry="3.15"/>
<ellipse cx="421.3" cy="105.0" rx="2.15" ry="3.15"/>
<ellipse cx="425.0" cy="107.9" rx="2.15" ry="3.15"/>
<ellipse cx="400.0" cy="109.4" rx="2.15" ry="3.15"/>
<ellipse cx="400.3" cy="108.3" rx="2.15" ry="3.15"/>
<ellipse cx="403.0" cy="111.6" rx="2.15" ry="3.15"/>
<ellipse cx="407.4" cy="110.9" rx="2.15" ry="3.15"/>
<ellipse cx="413.2" cy="109.4" rx="2.15" ry="3.15"/>
<ellipse cx="417.6" cy="110.9" rx="2.15" ry="3.15"/>
<ellipse cx="421.8" cy="112.3" rx="2.15" ry="3.15"/>
<ellipse cx="426.5" cy="113.8" rx="2.15" ry="3.15"/>
<ellipse cx="430.1" cy="114.5" rx="2.15" ry="3.15"/>
<ellipse cx="404.4" cy="116.7" rx="2.15" ry="3.15"/>
<ellipse cx="408.8" cy="116.7" rx="2.15" ry="3.15"/>
<ellipse cx="409.5" cy="117.4" rx="2.15" ry="3.15"/>
<ellipse cx="414.7" cy="116.0" rx="2.15" ry="3.15"/>
<ellipse cx="419.1" cy="116.7" rx="2.15" ry="3.15"/>
<ellipse cx="423.5" cy="118.2" rx="2.15" ry="3.15"/>
<ellipse cx="427.9" cy="118.9" rx="2.15" ry="3.15"/>
<ellipse cx="435.3" cy="118.5" rx="2.15" ry="3.15"/>
<ellipse cx="440.4" cy="121.1" rx="2.15" ry="3.15"/>
<ellipse cx="409.6" cy="122.6" rx="2.15" ry="3.15"/>
<ellipse cx="417.6" cy="121.1" rx="2.15" ry="3.15"/>
<ellipse cx="425.0" cy="123.3" rx="2.15" ry="3.15"/>
<ellipse cx="430.9" cy="122.6" rx="2.15" ry="3.15"/>
<ellipse cx="436.7" cy="124.8" rx="2.15" ry="3.15"/>
<ellipse cx="442.6" cy="125.5" rx="2.15" ry="3.15"/>
<ellipse cx="413.2" cy="127.0" rx="2.15" ry="3.15"/>
<ellipse cx="429.4" cy="127.0" rx="2.15" ry="3.15"/>
<ellipse cx="445.5" cy="127.8" rx="2.15" ry="3.15"/>
<ellipse cx="418.4" cy="130.5" rx="2.15" ry="3.15"/>
<ellipse cx="422.8" cy="134.9" rx="2.15" ry="3.15"/>
<ellipse cx="423.4" cy="135.6" rx="2.15" ry="3.15"/>
<ellipse cx="424.2" cy="140.0" rx="2.15" ry="3.15"/>
<ellipse cx="423.5" cy="137.1" rx="2.15" ry="3.15"/>
<ellipse cx="430.9" cy="135.6" rx="2.15" ry="3.15"/>
<ellipse cx="427.9" cy="142.2" rx="2.15" ry="3.15"/>
<ellipse cx="430.9" cy="145.1" rx="2.15" ry="3.15"/>
<ellipse cx="433.8" cy="146.6" rx="2.15" ry="3.15"/>
<ellipse cx="435.3" cy="134.9" rx="2.15" ry="3.15"/>
<ellipse cx="438.2" cy="131.9" rx="2.15" ry="3.15"/>
<ellipse cx="441.1" cy="133.4" rx="2.15" ry="3.15"/>
<ellipse cx="444.1" cy="135.6" rx="2.15" ry="3.15"/>
<ellipse cx="442.6" cy="140.0" rx="2.15" ry="3.15"/>
<ellipse cx="444.8" cy="142.9" rx="2.15" ry="3.15"/>
<ellipse cx="445.5" cy="148.1" rx="2.15" ry="3.15"/>
<ellipse cx="436.7" cy="151.0" rx="2.15" ry="3.15"/>
<ellipse cx="436.6" cy="150.8" rx="2.15" ry="3.15"/>
<ellipse cx="439.7" cy="154.0" rx="2.15" ry="3.15"/>
<ellipse cx="439.0" cy="154.3" rx="2.15" ry="3.15"/>
<ellipse cx="442.6" cy="156.9" rx="2.15" ry="3.15"/>
<ellipse cx="445.5" cy="160.6" rx="2.15" ry="3.15"/>
<ellipse cx="446.3" cy="165.0" rx="2.15" ry="3.15"/>
<ellipse cx="439.7" cy="143.7" rx="2.15" ry="3.15"/>
<ellipse cx="436.0" cy="140.7" rx="2.15" ry="3.15"/>
<ellipse cx="452.6" cy="128.3" rx="2.15" ry="3.15"/>
<ellipse cx="448.2" cy="136.0" rx="2.15" ry="3.15"/>
<ellipse cx="449.9" cy="142.6" rx="2.15" ry="3.15"/>
<ellipse cx="449.2" cy="141.5" rx="2.15" ry="3.15"/>
<ellipse cx="452.1" cy="140.4" rx="2.15" ry="3.15"/>
<ellipse cx="453.6" cy="144.0" rx="2.15" ry="3.15"/>
<ellipse cx="459.9" cy="136.7" rx="2.15" ry="3.15"/>
<ellipse cx="463.1" cy="138.9" rx="2.15" ry="3.15"/>
<ellipse cx="459.5" cy="142.6" rx="2.15" ry="3.15"/>
<ellipse cx="463.1" cy="145.5" rx="2.15" ry="3.15"/>
<ellipse cx="469.0" cy="145.5" rx="2.15" ry="3.15"/>
<ellipse cx="466.1" cy="147.7" rx="2.15" ry="3.15"/>
<ellipse cx="458.0" cy="148.4" rx="2.15" ry="3.15"/>
<ellipse cx="453.6" cy="155.0" rx="2.15" ry="3.15"/>
<ellipse cx="457.3" cy="156.5" rx="2.15" ry="3.15"/>
<ellipse cx="466.8" cy="152.8" rx="2.15" ry="3.15"/>
<ellipse cx="469.0" cy="155.0" rx="2.15" ry="3.15"/>
<ellipse cx="472.7" cy="155.8" rx="2.15" ry="3.15"/>
<ellipse cx="476.4" cy="159.4" rx="2.15" ry="3.15"/>
<ellipse cx="481.1" cy="163.4" rx="2.15" ry="3.15"/>
<ellipse cx="461.7" cy="160.2" rx="2.15" ry="3.15"/>
<ellipse cx="461.2" cy="159.4" rx="2.15" ry="3.15"/>
<ellipse cx="465.3" cy="163.1" rx="2.15" ry="3.15"/>
<ellipse cx="465.1" cy="162.0" rx="2.15" ry="3.15"/>
<ellipse cx="470.5" cy="164.6" rx="2.15" ry="3.15"/>
<ellipse cx="458.7" cy="163.1" rx="2.15" ry="3.15"/>
<ellipse cx="449.2" cy="164.6" rx="2.15" ry="3.15"/>
<ellipse cx="452.9" cy="169.0" rx="2.15" ry="3.15"/>
<ellipse cx="450.7" cy="170.5" rx="2.15" ry="3.15"/>
<ellipse cx="460.2" cy="169.0" rx="2.15" ry="3.15"/>
<ellipse cx="469.0" cy="170.5" rx="2.15" ry="3.15"/>
<ellipse cx="468.2" cy="169.6" rx="2.15" ry="3.15"/>
<ellipse cx="472.7" cy="169.0" rx="2.15" ry="3.15"/>
<ellipse cx="480.0" cy="168.2" rx="2.15" ry="3.15"/>
<ellipse cx="485.2" cy="169.0" rx="2.15" ry="3.15"/>
<ellipse cx="488.1" cy="170.2" rx="2.15" ry="3.15"/>
<ellipse cx="483.7" cy="173.4" rx="2.15" ry="3.15"/>
<ellipse cx="486.6" cy="174.9" rx="2.15" ry="3.15"/>
<ellipse cx="458.7" cy="176.3" rx="2.15" ry="3.15"/>
<ellipse cx="458.1" cy="176.0" rx="2.15" ry="3.15"/>
<ellipse cx="461.7" cy="180.0" rx="2.15" ry="3.15"/>
<ellipse cx="477.8" cy="175.6" rx="2.15" ry="3.15"/>
<ellipse cx="474.9" cy="179.3" rx="2.15" ry="3.15"/>
<ellipse cx="467.5" cy="181.5" rx="2.15" ry="3.15"/>
<ellipse cx="466.1" cy="185.9" rx="2.15" ry="3.15"/>
<ellipse cx="469.0" cy="189.5" rx="2.15" ry="3.15"/>
<ellipse cx="477.8" cy="185.1" rx="2.15" ry="3.15"/>
<ellipse cx="480.8" cy="182.9" rx="2.15" ry="3.15"/>
<ellipse cx="483.7" cy="187.3" rx="2.15" ry="3.15"/>
<ellipse cx="492.5" cy="184.4" rx="2.15" ry="3.15"/>
<ellipse cx="497.6" cy="185.9" rx="2.15" ry="3.15"/>
<ellipse cx="499.8" cy="180.0" rx="2.15" ry="3.15"/>
<ellipse cx="502.5" cy="176.3" rx="2.15" ry="3.15"/>
<ellipse cx="473.4" cy="192.5" rx="2.15" ry="3.15"/>
<ellipse cx="476.4" cy="196.9" rx="2.15" ry="3.15"/>
<ellipse cx="479.3" cy="200.5" rx="2.15" ry="3.15"/>
<ellipse cx="478.5" cy="201.4" rx="2.15" ry="3.15"/>
<ellipse cx="483.7" cy="196.1" rx="2.15" ry="3.15"/>
<ellipse cx="487.4" cy="191.7" rx="2.15" ry="3.15"/>
<ellipse cx="491.0" cy="195.4" rx="2.15" ry="3.15"/>
<ellipse cx="494.0" cy="193.9" rx="2.15" ry="3.15"/>
<ellipse cx="499.1" cy="196.1" rx="2.15" ry="3.15"/>
<ellipse cx="498.4" cy="204.2" rx="2.15" ry="3.15"/>
<ellipse cx="498.6" cy="203.4" rx="2.15" ry="3.15"/>
<ellipse cx="505.0" cy="199.1" rx="2.15" ry="3.15"/>
<ellipse cx="510.1" cy="201.3" rx="2.15" ry="3.15"/>
<ellipse cx="486.6" cy="205.7" rx="2.15" ry="3.15"/>
<ellipse cx="491.0" cy="210.1" rx="2.15" ry="3.15"/>
<ellipse cx="504.2" cy="205.7" rx="2.15" ry="3.15"/>
<ellipse cx="503.8" cy="205.3" rx="2.15" ry="3.15"/>
<ellipse cx="507.2" cy="211.5" rx="2.15" ry="3.15"/>
<ellipse cx="513.8" cy="207.9" rx="2.15" ry="3.15"/>
<ellipse cx="511.6" cy="213.0" rx="2.15" ry="3.15"/>
<ellipse cx="516.7" cy="214.5" rx="2.15" ry="3.15"/>
<ellipse cx="534.3" cy="214.5" rx="2.15" ry="3.15"/>
<ellipse cx="493.2" cy="219.4" rx="2.15" ry="3.15"/>
<ellipse cx="501.0" cy="223.1" rx="2.15" ry="3.15"/>
<ellipse cx="504.2" cy="229.7" rx="2.15" ry="3.15"/>
<ellipse cx="507.2" cy="231.9" rx="2.15" ry="3.15"/>
<ellipse cx="508.6" cy="224.5" rx="2.15" ry="3.15"/>
<ellipse cx="509.4" cy="236.3" rx="2.15" ry="3.15"/>
<ellipse cx="512.3" cy="237.0" rx="2.15" ry="3.15"/>
<ellipse cx="514.5" cy="240.0" rx="2.15" ry="3.15"/>
<ellipse cx="513.8" cy="242.9" rx="2.15" ry="3.15"/>
<ellipse cx="510.1" cy="219.4" rx="2.15" ry="3.15"/>
<ellipse cx="509.9" cy="218.5" rx="2.15" ry="3.15"/>
<ellipse cx="514.5" cy="220.9" rx="2.15" ry="3.15"/>
<ellipse cx="515.1" cy="222.1" rx="2.15" ry="3.15"/>
<ellipse cx="517.5" cy="221.6" rx="2.15" ry="3.15"/>
<ellipse cx="518.9" cy="220.9" rx="2.15" ry="3.15"/>
<ellipse cx="516.7" cy="227.5" rx="2.15" ry="3.15"/>
<ellipse cx="516.7" cy="227.4" rx="2.15" ry="3.15"/>
<ellipse cx="518.9" cy="230.4" rx="2.15" ry="3.15"/>
<ellipse cx="523.3" cy="229.7" rx="2.15" ry="3.15"/>
<ellipse cx="524.1" cy="234.1" rx="2.15" ry="3.15"/>
<ellipse cx="527.0" cy="237.8" rx="2.15" ry="3.15"/>
<ellipse cx="524.8" cy="241.4" rx="2.15" ry="3.15"/>
<ellipse cx="531.8" cy="231.9" rx="2.15" ry="3.15"/>
<ellipse cx="532.1" cy="217.9" rx="2.15" ry="3.15"/>
<ellipse cx="535.1" cy="217.2" rx="2.15" ry="3.15"/>
<ellipse cx="532.1" cy="241.4" rx="2.15" ry="3.15"/>
<ellipse cx="535.1" cy="245.8" rx="2.15" ry="3.15"/>
<ellipse cx="533.6" cy="251.0" rx="2.15" ry="3.15"/>
<ellipse cx="537.3" cy="250.2" rx="2.15" ry="3.15"/>
<ellipse cx="518.9" cy="248.0" rx="2.15" ry="3.15"/>
<ellipse cx="521.9" cy="252.4" rx="2.15" ry="3.15"/>
<ellipse cx="526.3" cy="253.9" rx="2.15" ry="3.15"/>
<ellipse cx="529.9" cy="257.6" rx="2.15" ry="3.15"/>
<ellipse cx="531.4" cy="261.2" rx="2.15" ry="3.15"/>
<ellipse cx="537.3" cy="267.8" rx="2.15" ry="3.15"/>
<ellipse cx="538.0" cy="241.4" rx="2.15" ry="3.15"/>
<ellipse cx="545.6" cy="227.0" rx="2.15" ry="3.15"/>
<ellipse cx="543.9" cy="232.1" rx="2.15" ry="3.15"/>
<ellipse cx="538.7" cy="240.9" rx="2.15" ry="3.15"/>
<ellipse cx="540.9" cy="244.6" rx="2.15" ry="3.15"/>
<ellipse cx="539.5" cy="249.0" rx="2.15" ry="3.15"/>
<ellipse cx="543.1" cy="248.2" rx="2.15" ry="3.15"/>
<ellipse cx="546.1" cy="246.0" rx="2.15" ry="3.15"/>
<ellipse cx="546.8" cy="249.0" rx="2.15" ry="3.15"/>
<ellipse cx="551.9" cy="248.2" rx="2.15" ry="3.15"/>
<ellipse cx="554.1" cy="252.2" rx="2.15" ry="3.15"/>
<ellipse cx="549.0" cy="251.2" rx="2.15" ry="3.15"/>
<ellipse cx="540.9" cy="255.6" rx="2.15" ry="3.15"/>
<ellipse cx="544.6" cy="257.1" rx="2.15" ry="3.15"/>
<ellipse cx="563.7" cy="250.2" rx="2.15" ry="3.15"/>
<ellipse cx="549.0" cy="260.7" rx="2.15" ry="3.15"/>
<ellipse cx="551.2" cy="260.0" rx="2.15" ry="3.15"/>
<ellipse cx="553.4" cy="263.7" rx="2.15" ry="3.15"/>
<ellipse cx="543.9" cy="264.4" rx="2.15" ry="3.15"/>
<ellipse cx="539.5" cy="268.8" rx="2.15" ry="3.15"/>
<ellipse cx="538.8" cy="267.8" rx="2.15" ry="3.15"/>
<ellipse cx="546.8" cy="269.5" rx="2.15" ry="3.15"/>
<ellipse cx="552.7" cy="268.1" rx="2.15" ry="3.15"/>
<ellipse cx="554.9" cy="272.5" rx="2.15" ry="3.15"/>
<ellipse cx="560.8" cy="268.8" rx="2.15" ry="3.15"/>
<ellipse cx="545.3" cy="274.7" rx="2.15" ry="3.15"/>
<ellipse cx="547.5" cy="279.8" rx="2.15" ry="3.15"/>
<ellipse cx="551.2" cy="282.0" rx="2.15" ry="3.15"/>
<ellipse cx="557.8" cy="278.3" rx="2.15" ry="3.15"/>
<ellipse cx="561.5" cy="277.6" rx="2.15" ry="3.15"/>
<ellipse cx="561.2" cy="277.0" rx="2.15" ry="3.15"/>
<ellipse cx="568.1" cy="273.2" rx="2.15" ry="3.15"/>
<ellipse cx="567.4" cy="277.6" rx="2.15" ry="3.15"/>
<ellipse cx="566.6" cy="282.7" rx="2.15" ry="3.15"/>
<ellipse cx="560.0" cy="282.7" rx="2.15" ry="3.15"/>
<ellipse cx="563.7" cy="287.9" rx="2.15" ry="3.15"/>
<ellipse cx="574.7" cy="261.2" rx="2.15" ry="3.15"/>
<ellipse cx="580.3" cy="265.9" rx="2.15" ry="3.15"/>
<ellipse cx="581.7" cy="276.1" rx="2.15" ry="3.15"/>
<ellipse cx="577.6" cy="276.9" rx="2.15" ry="3.15"/>
<ellipse cx="587.9" cy="276.6" rx="2.15" ry="3.15"/>
<ellipse cx="576.9" cy="281.3" rx="2.15" ry="3.15"/>
<ellipse cx="577.4" cy="280.5" rx="2.15" ry="3.15"/>
<ellipse cx="578.4" cy="287.1" rx="2.15" ry="3.15"/>
<ellipse cx="557.1" cy="290.1" rx="2.15" ry="3.15"/>
<ellipse cx="556.3" cy="291.2" rx="2.15" ry="3.15"/>
<ellipse cx="575.4" cy="293.0" rx="2.15" ry="3.15"/>
<ellipse cx="580.6" cy="291.5" rx="2.15" ry="3.15"/>
<ellipse cx="563.3" cy="297.0" rx="2.15" ry="3.15"/>
<ellipse cx="568.1" cy="301.0" rx="2.15" ry="3.15"/>
<ellipse cx="571.0" cy="304.2" rx="2.15" ry="3.15"/>
<ellipse cx="571.0" cy="309.5" rx="2.15" ry="3.15"/>
<ellipse cx="571.0" cy="308.6" rx="2.15" ry="3.15"/>
<ellipse cx="575.8" cy="308.7" rx="2.15" ry="3.15"/>
<ellipse cx="577.0" cy="313.9" rx="2.15" ry="3.15"/>
<ellipse cx="582.6" cy="319.1" rx="2.15" ry="3.15"/>
<ellipse cx="580.6" cy="299.4" rx="2.15" ry="3.15"/>
<ellipse cx="581.8" cy="301.8" rx="2.15" ry="3.15"/>
<ellipse cx="584.6" cy="305.0" rx="2.15" ry="3.15"/>
<ellipse cx="584.7" cy="303.9" rx="2.15" ry="3.15"/>
<ellipse cx="587.4" cy="305.0" rx="2.15" ry="3.15"/>
<ellipse cx="587.8" cy="314.3" rx="2.15" ry="3.15"/>
<ellipse cx="593.5" cy="301.0" rx="2.15" ry="3.15"/>
<ellipse cx="603.5" cy="309.9" rx="2.15" ry="3.15"/>
<ellipse cx="594.0" cy="331.2" rx="2.15" ry="3.15"/>
<ellipse cx="594.1" cy="332.3" rx="2.15" ry="3.15"/>
<ellipse cx="611.2" cy="335.6" rx="2.15" ry="3.15"/>
<ellipse cx="616.0" cy="341.6" rx="2.15" ry="3.15"/>
<ellipse cx="403.4" cy="73.2" rx="2.15" ry="3.15"/>
<ellipse cx="400.8" cy="69.6" rx="2.15" ry="3.15"/>
<ellipse cx="400.3" cy="72.5" rx="2.15" ry="3.15"/>
<ellipse cx="396.2" cy="74.0" rx="2.15" ry="3.15"/>
<ellipse cx="397.5" cy="77.6" rx="2.15" ry="3.15"/>
<ellipse cx="406.9" cy="80.1" rx="2.15" ry="3.15"/>
<ellipse cx="396.6" cy="92.9" rx="2.15" ry="3.15"/>
<ellipse cx="417.3" cy="89.7" rx="2.15" ry="3.15"/>
<ellipse cx="420.1" cy="90.4" rx="2.15" ry="3.15"/>
<ellipse cx="423.2" cy="94.6" rx="2.15" ry="3.15"/>
<ellipse cx="391.3" cy="94.7" rx="2.15" ry="3.15"/>
<ellipse cx="393.9" cy="100.4" rx="2.15" ry="3.15"/>
<ellipse cx="404.4" cy="90.7" rx="2.15" ry="3.15"/>
<ellipse cx="406.5" cy="93.0" rx="2.15" ry="3.15"/>
<ellipse cx="407.7" cy="94.2" rx="2.15" ry="3.15"/>
<ellipse cx="416.5" cy="95.4" rx="2.15" ry="3.15"/>
<ellipse cx="421.3" cy="95.7" rx="2.15" ry="3.15"/>
<ellipse cx="398.9" cy="101.4" rx="2.15" ry="3.15"/>
<ellipse cx="406.0" cy="98.3" rx="2.15" ry="3.15"/>
<ellipse cx="409.2" cy="98.6" rx="2.15" ry="3.15"/>
<ellipse cx="396.7" cy="106.7" rx="2.15" ry="3.15"/>
<ellipse cx="413.1" cy="105.0" rx="2.15" ry="3.15"/>
<ellipse cx="413.7" cy="102.8" rx="2.15" ry="3.15"/>
<ellipse cx="414.6" cy="103.6" rx="2.15" ry="3.15"/>
<ellipse cx="421.4" cy="105.7" rx="2.15" ry="3.15"/>
<ellipse cx="426.7" cy="108.8" rx="2.15" ry="3.15"/>
<ellipse cx="400.6" cy="110.5" rx="2.15" ry="3.15"/>
<ellipse cx="400.1" cy="108.5" rx="2.15" ry="3.15"/>
<ellipse cx="401.1" cy="112.7" rx="2.15" ry="3.15"/>
<ellipse cx="406.3" cy="112.6" rx="2.15" ry="3.15"/>
<ellipse cx="413.8" cy="108.6" rx="2.15" ry="3.15"/>
<ellipse cx="416.2" cy="109.9" rx="2.15" ry="3.15"/>
<ellipse cx="422.3" cy="113.1" rx="2.15" ry="3.15"/>
<ellipse cx="424.9" cy="112.1" rx="2.15" ry="3.15"/>
<ellipse cx="430.2" cy="114.9" rx="2.15" ry="3.15"/>
<ellipse cx="404.0" cy="115.6" rx="2.15" ry="3.15"/>
<ellipse cx="409.2" cy="114.8" rx="2.15" ry="3.15"/>
<ellipse cx="408.7" cy="117.3" rx="2.15" ry="3.15"/>
<ellipse cx="416.5" cy="116.6" rx="2.15" ry="3.15"/>
<ellipse cx="420.6" cy="116.6" rx="2.15" ry="3.15"/>
<ellipse cx="422.5" cy="117.2" rx="2.15" ry="3.15"/>
<ellipse cx="429.8" cy="119.8" rx="2.15" ry="3.15"/>
<ellipse cx="434.5" cy="116.6" rx="2.15" ry="3.15"/>
<ellipse cx="440.4" cy="121.8" rx="2.15" ry="3.15"/>
<ellipse cx="409.3" cy="121.6" rx="2.15" ry="3.15"/>
<ellipse cx="418.3" cy="122.8" rx="2.15" ry="3.15"/>
<ellipse cx="423.9" cy="121.5" rx="2.15" ry="3.15"/>
<ellipse cx="430.2" cy="122.3" rx="2.15" ry="3.15"/>
<ellipse cx="437.5" cy="123.6" rx="2.15" ry="3.15"/>
<ellipse cx="443.8" cy="126.5" rx="2.15" ry="3.15"/>
<ellipse cx="422.8" cy="133.7" rx="2.15" ry="3.15"/>
<ellipse cx="425.3" cy="134.8" rx="2.15" ry="3.15"/>
<ellipse cx="425.5" cy="138.9" rx="2.15" ry="3.15"/>
<ellipse cx="422.4" cy="138.1" rx="2.15" ry="3.15"/>
<ellipse cx="427.1" cy="144.0" rx="2.15" ry="3.15"/>
<ellipse cx="430.8" cy="143.9" rx="2.15" ry="3.15"/>
<ellipse cx="432.7" cy="146.3" rx="2.15" ry="3.15"/>
<ellipse cx="435.9" cy="136.7" rx="2.15" ry="3.15"/>
<ellipse cx="436.8" cy="131.5" rx="2.15" ry="3.15"/>
<ellipse cx="440.0" cy="135.3" rx="2.15" ry="3.15"/>
<ellipse cx="442.6" cy="133.8" rx="2.15" ry="3.15"/>
<ellipse cx="440.8" cy="139.6" rx="2.15" ry="3.15"/>
<ellipse cx="446.4" cy="144.5" rx="2.15" ry="3.15"/>
<ellipse cx="437.7" cy="153.0" rx="2.15" ry="3.15"/>
<ellipse cx="438.3" cy="150.1" rx="2.15" ry="3.15"/>
<ellipse cx="438.4" cy="155.7" rx="2.15" ry="3.15"/>
<ellipse cx="440.0" cy="152.4" rx="2.15" ry="3.15"/>
<ellipse cx="443.3" cy="156.4" rx="2.15" ry="3.15"/>
<ellipse cx="445.0" cy="159.9" rx="2.15" ry="3.15"/>
<ellipse cx="438.3" cy="141.7" rx="2.15" ry="3.15"/>
<ellipse cx="435.1" cy="140.1" rx="2.15" ry="3.15"/>
<ellipse cx="450.0" cy="134.5" rx="2.15" ry="3.15"/>
<ellipse cx="451.8" cy="141.4" rx="2.15" ry="3.15"/>
<ellipse cx="448.7" cy="142.8" rx="2.15" ry="3.15"/>
<ellipse cx="453.4" cy="140.1" rx="2.15" ry="3.15"/>
<ellipse cx="451.8" cy="143.9" rx="2.15" ry="3.15"/>
<ellipse cx="462.6" cy="140.6" rx="2.15" ry="3.15"/>
<ellipse cx="458.2" cy="142.0" rx="2.15" ry="3.15"/>
<ellipse cx="464.7" cy="143.6" rx="2.15" ry="3.15"/>
<ellipse cx="465.7" cy="148.9" rx="2.15" ry="3.15"/>
<ellipse cx="459.1" cy="146.6" rx="2.15" ry="3.15"/>
<ellipse cx="455.4" cy="154.8" rx="2.15" ry="3.15"/>
<ellipse cx="468.5" cy="151.9" rx="2.15" ry="3.15"/>
<ellipse cx="473.7" cy="157.4" rx="2.15" ry="3.15"/>
<ellipse cx="480.4" cy="162.5" rx="2.15" ry="3.15"/>
<ellipse cx="463.5" cy="160.6" rx="2.15" ry="3.15"/>
<ellipse cx="460.3" cy="160.2" rx="2.15" ry="3.15"/>
<ellipse cx="464.6" cy="162.2" rx="2.15" ry="3.15"/>
<ellipse cx="463.1" cy="163.1" rx="2.15" ry="3.15"/>
<ellipse cx="472.1" cy="165.1" rx="2.15" ry="3.15"/>
<ellipse cx="460.5" cy="161.2" rx="2.15" ry="3.15"/>
<ellipse cx="448.1" cy="164.5" rx="2.15" ry="3.15"/>
<ellipse cx="470.8" cy="172.3" rx="2.15" ry="3.15"/>
<ellipse cx="467.8" cy="168.6" rx="2.15" ry="3.15"/>
<ellipse cx="472.4" cy="169.0" rx="2.15" ry="3.15"/>
<ellipse cx="481.7" cy="167.0" rx="2.15" ry="3.15"/>
<ellipse cx="486.4" cy="169.9" rx="2.15" ry="3.15"/>
<ellipse cx="489.4" cy="171.2" rx="2.15" ry="3.15"/>
<ellipse cx="484.1" cy="172.7" rx="2.15" ry="3.15"/>
<ellipse cx="485.9" cy="174.3" rx="2.15" ry="3.15"/>
<ellipse cx="462.8" cy="178.3" rx="2.15" ry="3.15"/>
<ellipse cx="473.7" cy="180.3" rx="2.15" ry="3.15"/>
<ellipse cx="476.8" cy="183.4" rx="2.15" ry="3.15"/>
<ellipse cx="478.9" cy="183.1" rx="2.15" ry="3.15"/>
<ellipse cx="483.0" cy="189.3" rx="2.15" ry="3.15"/>
<ellipse cx="477.9" cy="198.8" rx="2.15" ry="3.15"/>
<ellipse cx="478.3" cy="198.9" rx="2.15" ry="3.15"/>
<ellipse cx="485.7" cy="191.7" rx="2.15" ry="3.15"/>
<ellipse cx="494.8" cy="193.7" rx="2.15" ry="3.15"/>
<ellipse cx="497.3" cy="203.9" rx="2.15" ry="3.15"/>
<ellipse cx="499.0" cy="204.1" rx="2.15" ry="3.15"/>
<ellipse cx="506.0" cy="200.5" rx="2.15" ry="3.15"/>
<ellipse cx="504.9" cy="204.2" rx="2.15" ry="3.15"/>
<ellipse cx="505.2" cy="204.5" rx="2.15" ry="3.15"/>
<ellipse cx="511.8" cy="212.5" rx="2.15" ry="3.15"/>
<ellipse cx="517.7" cy="213.3" rx="2.15" ry="3.15"/>
<ellipse cx="507.6" cy="223.5" rx="2.15" ry="3.15"/>
<ellipse cx="508.0" cy="237.8" rx="2.15" ry="3.15"/>
<ellipse cx="512.6" cy="236.3" rx="2.15" ry="3.15"/>
<ellipse cx="514.1" cy="241.9" rx="2.15" ry="3.15"/>
<ellipse cx="510.1" cy="218.3" rx="2.15" ry="3.15"/>
<ellipse cx="511.1" cy="219.1" rx="2.15" ry="3.15"/>
<ellipse cx="516.5" cy="219.3" rx="2.15" ry="3.15"/>
<ellipse cx="515.0" cy="223.3" rx="2.15" ry="3.15"/>
<ellipse cx="518.8" cy="223.3" rx="2.15" ry="3.15"/>
<ellipse cx="517.1" cy="220.0" rx="2.15" ry="3.15"/>
<ellipse cx="515.2" cy="226.2" rx="2.15" ry="3.15"/>
<ellipse cx="518.6" cy="227.8" rx="2.15" ry="3.15"/>
<ellipse cx="520.6" cy="229.9" rx="2.15" ry="3.15"/>
<ellipse cx="524.8" cy="229.5" rx="2.15" ry="3.15"/>
<ellipse cx="523.1" cy="235.2" rx="2.15" ry="3.15"/>
<ellipse cx="528.8" cy="236.2" rx="2.15" ry="3.15"/>
<ellipse cx="532.5" cy="241.9" rx="2.15" ry="3.15"/>
<ellipse cx="533.9" cy="245.3" rx="2.15" ry="3.15"/>
<ellipse cx="532.2" cy="249.8" rx="2.15" ry="3.15"/>
<ellipse cx="536.3" cy="250.6" rx="2.15" ry="3.15"/>
<ellipse cx="538.6" cy="240.2" rx="2.15" ry="3.15"/>
<ellipse cx="536.8" cy="240.2" rx="2.15" ry="3.15"/>
<ellipse cx="541.6" cy="243.3" rx="2.15" ry="3.15"/>
<ellipse cx="538.7" cy="247.8" rx="2.15" ry="3.15"/>
<ellipse cx="544.3" cy="248.4" rx="2.15" ry="3.15"/>
<ellipse cx="544.3" cy="244.5" rx="2.15" ry="3.15"/>
<ellipse cx="546.4" cy="249.2" rx="2.15" ry="3.15"/>
<ellipse cx="552.5" cy="246.6" rx="2.15" ry="3.15"/>
<ellipse cx="547.7" cy="252.0" rx="2.15" ry="3.15"/>
<ellipse cx="540.6" cy="254.7" rx="2.15" ry="3.15"/>
<ellipse cx="548.2" cy="262.5" rx="2.15" ry="3.15"/>
<ellipse cx="552.7" cy="263.9" rx="2.15" ry="3.15"/>
<ellipse cx="543.3" cy="264.1" rx="2.15" ry="3.15"/>
<ellipse cx="540.9" cy="270.8" rx="2.15" ry="3.15"/>
<ellipse cx="538.3" cy="266.6" rx="2.15" ry="3.15"/>
<ellipse cx="547.7" cy="268.3" rx="2.15" ry="3.15"/>
<ellipse cx="550.7" cy="269.7" rx="2.15" ry="3.15"/>
<ellipse cx="554.6" cy="273.7" rx="2.15" ry="3.15"/>
<ellipse cx="557.4" cy="279.9" rx="2.15" ry="3.15"/>
<ellipse cx="561.3" cy="276.3" rx="2.15" ry="3.15"/>
<ellipse cx="559.3" cy="277.2" rx="2.15" ry="3.15"/>
<ellipse cx="567.9" cy="279.2" rx="2.15" ry="3.15"/>
<ellipse cx="565.0" cy="283.2" rx="2.15" ry="3.15"/>
<ellipse cx="559.5" cy="282.8" rx="2.15" ry="3.15"/>
<ellipse cx="562.3" cy="287.0" rx="2.15" ry="3.15"/>
<ellipse cx="581.8" cy="277.8" rx="2.15" ry="3.15"/>
<ellipse cx="576.1" cy="276.8" rx="2.15" ry="3.15"/>
<ellipse cx="578.1" cy="283.1" rx="2.15" ry="3.15"/>
<ellipse cx="576.2" cy="279.0" rx="2.15" ry="3.15"/>
<ellipse cx="580.1" cy="289.0" rx="2.15" ry="3.15"/>
<ellipse cx="570.9" cy="302.5" rx="2.15" ry="3.15"/>
<ellipse cx="572.7" cy="309.0" rx="2.15" ry="3.15"/>
<ellipse cx="572.6" cy="309.1" rx="2.15" ry="3.15"/>
<ellipse cx="577.1" cy="307.3" rx="2.15" ry="3.15"/>
<ellipse cx="581.7" cy="298.3" rx="2.15" ry="3.15"/>
<ellipse cx="581.4" cy="303.2" rx="2.15" ry="3.15"/>
<ellipse cx="585.9" cy="303.8" rx="2.15" ry="3.15"/>
<ellipse cx="583.6" cy="303.5" rx="2.15" ry="3.15"/>
<ellipse cx="587.5" cy="304.6" rx="2.15" ry="3.15"/>
</g>
</g>
<rect x="356.5" y="14.7" width="271.8" height="342.2" fill="none" stroke="#4a4a4a" stroke-width="1.15"/>
<g stroke="#2a2a2a" stroke-width="0.9">
<line x1="414.0" y1="356.9" x2="414.0" y2="359.5"/>
<line x1="471.9" y1="356.9" x2="471.9" y2="359.5"/>
<line x1="529.7" y1="356.9" x2="529.7" y2="359.5"/>
<line x1="587.6" y1="356.9" x2="587.6" y2="359.5"/>
<line x1="353.9" y1="349.6" x2="356.5" y2="349.6"/>
<line x1="353.9" y1="283.1" x2="356.5" y2="283.1"/>
<line x1="353.9" y1="216.6" x2="356.5" y2="216.6"/>
<line x1="353.9" y1="150.1" x2="356.5" y2="150.1"/>
<line x1="353.9" y1="83.6" x2="356.5" y2="83.6"/>
<line x1="353.9" y1="17.1" x2="356.5" y2="17.1"/>
</g>
<text x="414.0" y="370.2" font-size="10.8" textLength="18.8" lengthAdjust="spacingAndGlyphs" text-anchor="middle" fill="#262626" stroke="#262626" stroke-width="0.25">10000</text>
<text x="471.9" y="370.2" font-size="10.8" textLength="18.8" lengthAdjust="spacingAndGlyphs" text-anchor="middle" fill="#262626" stroke="#262626" stroke-width="0.25">20000</text>
<text x="529.7" y="370.2" font-size="10.8" textLength="18.8" lengthAdjust="spacingAndGlyphs" text-anchor="middle" fill="#262626" stroke="#262626" stroke-width="0.25">30000</text>
<text x="587.6" y="370.2" font-size="10.8" textLength="18.8" lengthAdjust="spacingAndGlyphs" text-anchor="middle" fill="#262626" stroke="#262626" stroke-width="0.25">40000</text>
<text x="351.3" y="353.2" font-size="10.8" textLength="23.8" lengthAdjust="spacingAndGlyphs" text-anchor="end" fill="#262626" stroke="#262626" stroke-width="0.25">−40000</text>
<text x="351.3" y="286.7" font-size="10.8" textLength="23.8" lengthAdjust="spacingAndGlyphs" text-anchor="end" fill="#262626" stroke="#262626" stroke-width="0.25">−30000</text>
<text x="351.3" y="220.2" font-size="10.8" textLength="23.8" lengthAdjust="spacingAndGlyphs" text-anchor="end" fill="#262626" stroke="#262626" stroke-width="0.25">−20000</text>
<text x="351.3" y="153.7" font-size="10.8" textLength="23.8" lengthAdjust="spacingAndGlyphs" text-anchor="end" fill="#262626" stroke="#262626" stroke-width="0.25">−10000</text>
<text x="351.3" y="87.2" font-size="10.8" textLength="3.8" lengthAdjust="spacingAndGlyphs" text-anchor="end" fill="#262626" stroke="#262626" stroke-width="0.25">0</text>
<text x="351.3" y="20.7" font-size="10.8" textLength="18.8" lengthAdjust="spacingAndGlyphs" text-anchor="end" fill="#262626" stroke="#262626" stroke-width="0.25">10000</text>
<text x="465.8" y="8.6" font-size="12.6" textLength="52.9" lengthAdjust="spacingAndGlyphs" fill="#262626" stroke="#262626" stroke-width="0.25">Residuals Plot</text>
<text x="458.8" y="383.5" font-size="11.0" textLength="67.0" lengthAdjust="spacingAndGlyphs" fill="#262626" stroke="#262626" stroke-width="0.25">Predicted BTC Values</text>
<text x="0" y="0" font-size="11.0" textLength="44.0" lengthAdjust="spacingAndGlyphs" transform="translate(323.0 208.9) scale(0.68 1) rotate(-90)" fill="#262626" stroke="#262626" stroke-width="0.25">Residuals</text>
<g stroke="#c2c2c2" stroke-width="1.0">
<line x1="695.8" y1="14.8" x2="695.8" y2="356.8"/>
<line x1="734.3" y1="14.8" x2="734.3" y2="356.8"/>
<line x1="772.8" y1="14.8" x2="772.8" y2="356.8"/>
<line x1="811.4" y1="14.8" x2="811.4" y2="356.8"/>
<line x1="849.9" y1="14.8" x2="849.9" y2="356.8"/>
<line x1="888.4" y1="14.8" x2="888.4" y2="356.8"/>
</g>
<g stroke="#a8a8a8" stroke-width="1.0">
<line x1="663.4" y1="310.8" x2="909.4" y2="310.8"/>
<line x1="663.4" y1="261.6" x2="909.4" y2="261.6"/>
<line x1="663.4" y1="212.3" x2="909.4" y2="212.3"/>
<line x1="663.4" y1="163.1" x2="909.4" y2="163.1"/>
<line x1="663.4" y1="113.8" x2="909.4" y2="113.8"/>
<line x1="663.4" y1="64.5" x2="909.4" y2="64.5"/>
<line x1="663.4" y1="15.3" x2="909.4" y2="15.3"/>
</g>
<g clip-path="url(#c3)">
<g fill="#0000ff" fill-opacity="0.68" stroke="#0000ff" stroke-opacity="0.68" stroke-width="0.6">
<ellipse cx="689.4" cy="31.9" rx="2.0" ry="3.0"/>
<ellipse cx="691.6" cy="37.0" rx="2.0" ry="3.0"/>
<ellipse cx="685.7" cy="41.1" rx="2.0" ry="3.0"/>
<ellipse cx="681.3" cy="48.8" rx="2.0" ry="3.0"/>
<ellipse cx="679.6" cy="52.4" rx="2.0" ry="3.0"/>
<ellipse cx="678.8" cy="59.2" rx="2.0" ry="3.0"/>
<ellipse cx="692.8" cy="56.5" rx="2.0" ry="3.0"/>
<ellipse cx="698.2" cy="61.7" rx="2.0" ry="3.0"/>
<ellipse cx="689.0" cy="63.9" rx="2.0" ry="3.0"/>
<ellipse cx="712.1" cy="55.8" rx="2.0" ry="3.0"/>
<ellipse cx="682.1" cy="69.0" rx="2.0" ry="3.0"/>
<ellipse cx="682.7" cy="69.5" rx="2.0" ry="3.0"/>
<ellipse cx="676.2" cy="74.1" rx="2.0" ry="3.0"/>
<ellipse cx="679.9" cy="77.8" rx="2.0" ry="3.0"/>
<ellipse cx="684.7" cy="74.1" rx="2.0" ry="3.0"/>
<ellipse cx="684.3" cy="73.8" rx="2.0" ry="3.0"/>
<ellipse cx="684.7" cy="78.5" rx="2.0" ry="3.0"/>
<ellipse cx="684.2" cy="79.2" rx="2.0" ry="3.0"/>
<ellipse cx="684.3" cy="83.7" rx="2.0" ry="3.0"/>
<ellipse cx="684.3" cy="84.3" rx="2.0" ry="3.0"/>
<ellipse cx="689.1" cy="74.6" rx="2.0" ry="3.0"/>
<ellipse cx="694.2" cy="73.8" rx="2.0" ry="3.0"/>
<ellipse cx="689.8" cy="82.2" rx="2.0" ry="3.0"/>
<ellipse cx="692.3" cy="86.2" rx="2.0" ry="3.0"/>
<ellipse cx="697.5" cy="84.1" rx="2.0" ry="3.0"/>
<ellipse cx="675.9" cy="84.7" rx="2.0" ry="3.0"/>
<ellipse cx="674.4" cy="93.7" rx="2.0" ry="3.0"/>
<ellipse cx="683.5" cy="93.7" rx="2.0" ry="3.0"/>
<ellipse cx="696.0" cy="92.2" rx="2.0" ry="3.0"/>
<ellipse cx="702.3" cy="93.7" rx="2.0" ry="3.0"/>
<ellipse cx="702.0" cy="93.0" rx="2.0" ry="3.0"/>
<ellipse cx="690.6" cy="98.8" rx="2.0" ry="3.0"/>
<ellipse cx="688.7" cy="102.3" rx="2.0" ry="3.0"/>
<ellipse cx="683.1" cy="102.0" rx="2.0" ry="3.0"/>
<ellipse cx="680.6" cy="105.7" rx="2.0" ry="3.0"/>
<ellipse cx="681.1" cy="106.8" rx="2.0" ry="3.0"/>
<ellipse cx="680.3" cy="107.9" rx="2.0" ry="3.0"/>
<ellipse cx="697.0" cy="103.5" rx="2.0" ry="3.0"/>
<ellipse cx="701.6" cy="102.0" rx="2.0" ry="3.0"/>
<ellipse cx="702.1" cy="102.7" rx="2.0" ry="3.0"/>
<ellipse cx="691.9" cy="108.3" rx="2.0" ry="3.0"/>
<ellipse cx="689.7" cy="113.7" rx="2.0" ry="3.0"/>
<ellipse cx="689.8" cy="118.9" rx="2.0" ry="3.0"/>
<ellipse cx="681.8" cy="115.9" rx="2.0" ry="3.0"/>
<ellipse cx="676.2" cy="122.3" rx="2.0" ry="3.0"/>
<ellipse cx="681.3" cy="121.8" rx="2.0" ry="3.0"/>
<ellipse cx="684.3" cy="120.4" rx="2.0" ry="3.0"/>
<ellipse cx="684.8" cy="120.9" rx="2.0" ry="3.0"/>
<ellipse cx="683.5" cy="123.3" rx="2.0" ry="3.0"/>
<ellipse cx="710.4" cy="109.1" rx="2.0" ry="3.0"/>
<ellipse cx="711.1" cy="114.2" rx="2.0" ry="3.0"/>
<ellipse cx="713.6" cy="122.6" rx="2.0" ry="3.0"/>
<ellipse cx="712.1" cy="125.5" rx="2.0" ry="3.0"/>
<ellipse cx="714.6" cy="127.0" rx="2.0" ry="3.0"/>
<ellipse cx="693.5" cy="127.4" rx="2.0" ry="3.0"/>
<ellipse cx="679.1" cy="128.4" rx="2.0" ry="3.0"/>
<ellipse cx="727.5" cy="93.2" rx="2.0" ry="3.0"/>
<ellipse cx="730.2" cy="98.3" rx="2.0" ry="3.0"/>
<ellipse cx="735.9" cy="84.1" rx="2.0" ry="3.0"/>
<ellipse cx="740.7" cy="71.9" rx="2.0" ry="3.0"/>
<ellipse cx="736.3" cy="102.7" rx="2.0" ry="3.0"/>
<ellipse cx="737.1" cy="109.1" rx="2.0" ry="3.0"/>
<ellipse cx="741.5" cy="102.0" rx="2.0" ry="3.0"/>
<ellipse cx="741.0" cy="102.1" rx="2.0" ry="3.0"/>
<ellipse cx="733.4" cy="116.7" rx="2.0" ry="3.0"/>
<ellipse cx="743.7" cy="115.9" rx="2.0" ry="3.0"/>
<ellipse cx="781.2" cy="30.1" rx="2.0" ry="3.0"/>
<ellipse cx="784.9" cy="37.0" rx="2.0" ry="3.0"/>
<ellipse cx="787.8" cy="57.3" rx="2.0" ry="3.0"/>
<ellipse cx="789.7" cy="63.9" rx="2.0" ry="3.0"/>
<ellipse cx="790.9" cy="70.9" rx="2.0" ry="3.0"/>
<ellipse cx="791.6" cy="75.6" rx="2.0" ry="3.0"/>
<ellipse cx="816.6" cy="58.0" rx="2.0" ry="3.0"/>
<ellipse cx="760.4" cy="66.5" rx="2.0" ry="3.0"/>
<ellipse cx="748.2" cy="69.7" rx="2.0" ry="3.0"/>
<ellipse cx="760.1" cy="74.1" rx="2.0" ry="3.0"/>
<ellipse cx="773.6" cy="79.0" rx="2.0" ry="3.0"/>
<ellipse cx="772.6" cy="81.2" rx="2.0" ry="3.0"/>
<ellipse cx="771.7" cy="86.2" rx="2.0" ry="3.0"/>
<ellipse cx="781.4" cy="84.1" rx="2.0" ry="3.0"/>
<ellipse cx="751.2" cy="89.5" rx="2.0" ry="3.0"/>
<ellipse cx="765.5" cy="88.8" rx="2.0" ry="3.0"/>
<ellipse cx="755.3" cy="96.4" rx="2.0" ry="3.0"/>
<ellipse cx="761.4" cy="104.5" rx="2.0" ry="3.0"/>
<ellipse cx="765.5" cy="102.5" rx="2.0" ry="3.0"/>
<ellipse cx="790.8" cy="93.9" rx="2.0" ry="3.0"/>
<ellipse cx="808.1" cy="91.0" rx="2.0" ry="3.0"/>
<ellipse cx="781.7" cy="105.2" rx="2.0" ry="3.0"/>
<ellipse cx="788.7" cy="108.6" rx="2.0" ry="3.0"/>
<ellipse cx="793.8" cy="105.7" rx="2.0" ry="3.0"/>
<ellipse cx="793.4" cy="110.8" rx="2.0" ry="3.0"/>
<ellipse cx="748.7" cy="107.6" rx="2.0" ry="3.0"/>
<ellipse cx="749.4" cy="111.5" rx="2.0" ry="3.0"/>
<ellipse cx="749.2" cy="110.4" rx="2.0" ry="3.0"/>
<ellipse cx="771.4" cy="122.1" rx="2.0" ry="3.0"/>
<ellipse cx="811.0" cy="122.6" rx="2.0" ry="3.0"/>
<ellipse cx="753.8" cy="126.5" rx="2.0" ry="3.0"/>
<ellipse cx="758.5" cy="127.7" rx="2.0" ry="3.0"/>
<ellipse cx="822.0" cy="76.8" rx="2.0" ry="3.0"/>
<ellipse cx="824.9" cy="76.8" rx="2.0" ry="3.0"/>
<ellipse cx="861.9" cy="71.2" rx="2.0" ry="3.0"/>
<ellipse cx="875.7" cy="101.0" rx="2.0" ry="3.0"/>
<ellipse cx="684.3" cy="133.4" rx="2.0" ry="3.0"/>
<ellipse cx="683.5" cy="132.9" rx="2.0" ry="3.0"/>
<ellipse cx="685.0" cy="137.1" rx="2.0" ry="3.0"/>
<ellipse cx="684.6" cy="137.5" rx="2.0" ry="3.0"/>
<ellipse cx="680.6" cy="135.6" rx="2.0" ry="3.0"/>
<ellipse cx="688.7" cy="136.3" rx="2.0" ry="3.0"/>
<ellipse cx="693.1" cy="135.6" rx="2.0" ry="3.0"/>
<ellipse cx="696.0" cy="138.5" rx="2.0" ry="3.0"/>
<ellipse cx="700.8" cy="132.7" rx="2.0" ry="3.0"/>
<ellipse cx="701.6" cy="132.5" rx="2.0" ry="3.0"/>
<ellipse cx="705.5" cy="137.1" rx="2.0" ry="3.0"/>
<ellipse cx="705.5" cy="140.7" rx="2.0" ry="3.0"/>
<ellipse cx="704.8" cy="144.4" rx="2.0" ry="3.0"/>
<ellipse cx="711.4" cy="132.7" rx="2.0" ry="3.0"/>
<ellipse cx="715.1" cy="137.8" rx="2.0" ry="3.0"/>
<ellipse cx="676.9" cy="141.5" rx="2.0" ry="3.0"/>
<ellipse cx="676.2" cy="145.9" rx="2.0" ry="3.0"/>
<ellipse cx="680.6" cy="143.7" rx="2.0" ry="3.0"/>
<ellipse cx="681.3" cy="144.8" rx="2.0" ry="3.0"/>
<ellipse cx="684.3" cy="142.9" rx="2.0" ry="3.0"/>
<ellipse cx="685.0" cy="142.6" rx="2.0" ry="3.0"/>
<ellipse cx="688.7" cy="144.4" rx="2.0" ry="3.0"/>
<ellipse cx="682.1" cy="149.5" rx="2.0" ry="3.0"/>
<ellipse cx="685.0" cy="150.3" rx="2.0" ry="3.0"/>
<ellipse cx="684.6" cy="149.6" rx="2.0" ry="3.0"/>
<ellipse cx="690.6" cy="151.7" rx="2.0" ry="3.0"/>
<ellipse cx="683.5" cy="155.4" rx="2.0" ry="3.0"/>
<ellipse cx="687.2" cy="155.4" rx="2.0" ry="3.0"/>
<ellipse cx="685.0" cy="159.1" rx="2.0" ry="3.0"/>
<ellipse cx="684.5" cy="158.4" rx="2.0" ry="3.0"/>
<ellipse cx="682.1" cy="160.5" rx="2.0" ry="3.0"/>
<ellipse cx="698.9" cy="154.7" rx="2.0" ry="3.0"/>
<ellipse cx="699.1" cy="155.6" rx="2.0" ry="3.0"/>
<ellipse cx="698.9" cy="159.1" rx="2.0" ry="3.0"/>
<ellipse cx="699.5" cy="159.0" rx="2.0" ry="3.0"/>
<ellipse cx="710.7" cy="153.2" rx="2.0" ry="3.0"/>
<ellipse cx="712.9" cy="151.0" rx="2.0" ry="3.0"/>
<ellipse cx="721.7" cy="148.1" rx="2.0" ry="3.0"/>
<ellipse cx="731.9" cy="131.9" rx="2.0" ry="3.0"/>
<ellipse cx="734.9" cy="145.1" rx="2.0" ry="3.0"/>
<ellipse cx="741.5" cy="134.1" rx="2.0" ry="3.0"/>
<ellipse cx="740.7" cy="151.0" rx="2.0" ry="3.0"/>
<ellipse cx="742.9" cy="149.5" rx="2.0" ry="3.0"/>
<ellipse cx="737.8" cy="156.9" rx="2.0" ry="3.0"/>
<ellipse cx="742.9" cy="159.8" rx="2.0" ry="3.0"/>
<ellipse cx="676.2" cy="167.9" rx="2.0" ry="3.0"/>
<ellipse cx="680.6" cy="166.4" rx="2.0" ry="3.0"/>
<ellipse cx="683.5" cy="167.9" rx="2.0" ry="3.0"/>
<ellipse cx="680.6" cy="172.3" rx="2.0" ry="3.0"/>
<ellipse cx="684.3" cy="171.5" rx="2.0" ry="3.0"/>
<ellipse cx="690.1" cy="170.1" rx="2.0" ry="3.0"/>
<ellipse cx="690.9" cy="173.0" rx="2.0" ry="3.0"/>
<ellipse cx="690.1" cy="174.5" rx="2.0" ry="3.0"/>
<ellipse cx="696.0" cy="167.1" rx="2.0" ry="3.0"/>
<ellipse cx="704.8" cy="167.4" rx="2.0" ry="3.0"/>
<ellipse cx="706.0" cy="174.5" rx="2.0" ry="3.0"/>
<ellipse cx="715.5" cy="164.2" rx="2.0" ry="3.0"/>
<ellipse cx="714.6" cy="170.8" rx="2.0" ry="3.0"/>
<ellipse cx="729.0" cy="170.8" rx="2.0" ry="3.0"/>
<ellipse cx="734.1" cy="173.0" rx="2.0" ry="3.0"/>
<ellipse cx="735.6" cy="170.1" rx="2.0" ry="3.0"/>
<ellipse cx="740.7" cy="168.6" rx="2.0" ry="3.0"/>
<ellipse cx="741.5" cy="178.9" rx="2.0" ry="3.0"/>
<ellipse cx="674.7" cy="181.8" rx="2.0" ry="3.0"/>
<ellipse cx="679.9" cy="184.0" rx="2.0" ry="3.0"/>
<ellipse cx="680.1" cy="184.7" rx="2.0" ry="3.0"/>
<ellipse cx="679.2" cy="184.4" rx="2.0" ry="3.0"/>
<ellipse cx="683.5" cy="181.1" rx="2.0" ry="3.0"/>
<ellipse cx="685.0" cy="184.7" rx="2.0" ry="3.0"/>
<ellipse cx="682.1" cy="178.9" rx="2.0" ry="3.0"/>
<ellipse cx="686.5" cy="178.9" rx="2.0" ry="3.0"/>
<ellipse cx="685.0" cy="189.1" rx="2.0" ry="3.0"/>
<ellipse cx="697.5" cy="185.5" rx="2.0" ry="3.0"/>
<ellipse cx="695.3" cy="189.1" rx="2.0" ry="3.0"/>
<ellipse cx="696.7" cy="192.8" rx="2.0" ry="3.0"/>
<ellipse cx="698.2" cy="192.1" rx="2.0" ry="3.0"/>
<ellipse cx="696.4" cy="196.5" rx="2.0" ry="3.0"/>
<ellipse cx="711.4" cy="188.8" rx="2.0" ry="3.0"/>
<ellipse cx="731.2" cy="187.7" rx="2.0" ry="3.0"/>
<ellipse cx="730.5" cy="189.9" rx="2.0" ry="3.0"/>
<ellipse cx="744.4" cy="192.1" rx="2.0" ry="3.0"/>
<ellipse cx="680.6" cy="197.2" rx="2.0" ry="3.0"/>
<ellipse cx="681.3" cy="197.9" rx="2.0" ry="3.0"/>
<ellipse cx="678.4" cy="197.9" rx="2.0" ry="3.0"/>
<ellipse cx="685.0" cy="196.5" rx="2.0" ry="3.0"/>
<ellipse cx="687.2" cy="200.9" rx="2.0" ry="3.0"/>
<ellipse cx="675.5" cy="203.1" rx="2.0" ry="3.0"/>
<ellipse cx="692.3" cy="204.5" rx="2.0" ry="3.0"/>
<ellipse cx="696.0" cy="205.3" rx="2.0" ry="3.0"/>
<ellipse cx="698.2" cy="203.8" rx="2.0" ry="3.0"/>
<ellipse cx="698.6" cy="203.8" rx="2.0" ry="3.0"/>
<ellipse cx="700.4" cy="202.3" rx="2.0" ry="3.0"/>
<ellipse cx="701.9" cy="197.9" rx="2.0" ry="3.0"/>
<ellipse cx="698.2" cy="208.2" rx="2.0" ry="3.0"/>
<ellipse cx="698.2" cy="210.4" rx="2.0" ry="3.0"/>
<ellipse cx="712.1" cy="203.8" rx="2.0" ry="3.0"/>
<ellipse cx="713.6" cy="208.9" rx="2.0" ry="3.0"/>
<ellipse cx="678.4" cy="210.4" rx="2.0" ry="3.0"/>
<ellipse cx="680.6" cy="215.5" rx="2.0" ry="3.0"/>
<ellipse cx="684.3" cy="217.0" rx="2.0" ry="3.0"/>
<ellipse cx="685.0" cy="219.9" rx="2.0" ry="3.0"/>
<ellipse cx="693.8" cy="215.5" rx="2.0" ry="3.0"/>
<ellipse cx="694.5" cy="217.7" rx="2.0" ry="3.0"/>
<ellipse cx="698.9" cy="214.1" rx="2.0" ry="3.0"/>
<ellipse cx="705.2" cy="215.5" rx="2.0" ry="3.0"/>
<ellipse cx="696.0" cy="217.0" rx="2.0" ry="3.0"/>
<ellipse cx="676.2" cy="224.3" rx="2.0" ry="3.0"/>
<ellipse cx="679.9" cy="221.4" rx="2.0" ry="3.0"/>
<ellipse cx="683.5" cy="226.5" rx="2.0" ry="3.0"/>
<ellipse cx="690.1" cy="219.2" rx="2.0" ry="3.0"/>
<ellipse cx="688.7" cy="228.7" rx="2.0" ry="3.0"/>
<ellipse cx="688.2" cy="229.4" rx="2.0" ry="3.0"/>
<ellipse cx="691.6" cy="230.9" rx="2.0" ry="3.0"/>
<ellipse cx="691.3" cy="231.7" rx="2.0" ry="3.0"/>
<ellipse cx="693.8" cy="230.2" rx="2.0" ry="3.0"/>
<ellipse cx="689.4" cy="233.2" rx="2.0" ry="3.0"/>
<ellipse cx="702.6" cy="225.1" rx="2.0" ry="3.0"/>
<ellipse cx="713.6" cy="225.8" rx="2.0" ry="3.0"/>
<ellipse cx="674.0" cy="235.4" rx="2.0" ry="3.0"/>
<ellipse cx="683.5" cy="233.2" rx="2.0" ry="3.0"/>
<ellipse cx="686.5" cy="237.6" rx="2.0" ry="3.0"/>
<ellipse cx="693.1" cy="234.6" rx="2.0" ry="3.0"/>
<ellipse cx="701.9" cy="233.2" rx="2.0" ry="3.0"/>
<ellipse cx="702.3" cy="236.8" rx="2.0" ry="3.0"/>
<ellipse cx="730.5" cy="233.2" rx="2.0" ry="3.0"/>
<ellipse cx="681.3" cy="240.5" rx="2.0" ry="3.0"/>
<ellipse cx="682.1" cy="240.2" rx="2.0" ry="3.0"/>
<ellipse cx="688.7" cy="241.2" rx="2.0" ry="3.0"/>
<ellipse cx="688.5" cy="242.3" rx="2.0" ry="3.0"/>
<ellipse cx="692.3" cy="242.0" rx="2.0" ry="3.0"/>
<ellipse cx="702.6" cy="242.7" rx="2.0" ry="3.0"/>
<ellipse cx="772.1" cy="134.1" rx="2.0" ry="3.0"/>
<ellipse cx="786.8" cy="134.9" rx="2.0" ry="3.0"/>
<ellipse cx="791.2" cy="132.7" rx="2.0" ry="3.0"/>
<ellipse cx="769.2" cy="143.7" rx="2.0" ry="3.0"/>
<ellipse cx="786.8" cy="145.4" rx="2.0" ry="3.0"/>
<ellipse cx="757.5" cy="140.0" rx="2.0" ry="3.0"/>
<ellipse cx="746.5" cy="140.7" rx="2.0" ry="3.0"/>
<ellipse cx="746.8" cy="139.9" rx="2.0" ry="3.0"/>
<ellipse cx="746.5" cy="145.1" rx="2.0" ry="3.0"/>
<ellipse cx="745.9" cy="144.3" rx="2.0" ry="3.0"/>
<ellipse cx="750.1" cy="144.4" rx="2.0" ry="3.0"/>
<ellipse cx="753.8" cy="145.1" rx="2.0" ry="3.0"/>
<ellipse cx="756.0" cy="144.4" rx="2.0" ry="3.0"/>
<ellipse cx="759.7" cy="145.1" rx="2.0" ry="3.0"/>
<ellipse cx="749.4" cy="151.7" rx="2.0" ry="3.0"/>
<ellipse cx="746.8" cy="159.1" rx="2.0" ry="3.0"/>
<ellipse cx="797.1" cy="155.4" rx="2.0" ry="3.0"/>
<ellipse cx="809.3" cy="148.8" rx="2.0" ry="3.0"/>
<ellipse cx="813.7" cy="144.8" rx="2.0" ry="3.0"/>
<ellipse cx="811.7" cy="156.9" rx="2.0" ry="3.0"/>
<ellipse cx="822.0" cy="152.5" rx="2.0" ry="3.0"/>
<ellipse cx="823.5" cy="156.9" rx="2.0" ry="3.0"/>
<ellipse cx="825.7" cy="159.1" rx="2.0" ry="3.0"/>
<ellipse cx="776.2" cy="161.0" rx="2.0" ry="3.0"/>
<ellipse cx="770.7" cy="167.9" rx="2.0" ry="3.0"/>
<ellipse cx="774.8" cy="173.0" rx="2.0" ry="3.0"/>
<ellipse cx="761.9" cy="170.8" rx="2.0" ry="3.0"/>
<ellipse cx="760.4" cy="176.7" rx="2.0" ry="3.0"/>
<ellipse cx="746.5" cy="170.1" rx="2.0" ry="3.0"/>
<ellipse cx="747.1" cy="170.8" rx="2.0" ry="3.0"/>
<ellipse cx="751.6" cy="172.3" rx="2.0" ry="3.0"/>
<ellipse cx="751.0" cy="173.1" rx="2.0" ry="3.0"/>
<ellipse cx="748.7" cy="173.0" rx="2.0" ry="3.0"/>
<ellipse cx="746.5" cy="181.1" rx="2.0" ry="3.0"/>
<ellipse cx="757.5" cy="185.5" rx="2.0" ry="3.0"/>
<ellipse cx="774.8" cy="183.6" rx="2.0" ry="3.0"/>
<ellipse cx="790.8" cy="172.7" rx="2.0" ry="3.0"/>
<ellipse cx="793.7" cy="168.9" rx="2.0" ry="3.0"/>
<ellipse cx="797.5" cy="174.8" rx="2.0" ry="3.0"/>
<ellipse cx="803.4" cy="170.5" rx="2.0" ry="3.0"/>
<ellipse cx="810.3" cy="170.5" rx="2.0" ry="3.0"/>
<ellipse cx="817.6" cy="166.4" rx="2.0" ry="3.0"/>
<ellipse cx="820.5" cy="167.1" rx="2.0" ry="3.0"/>
<ellipse cx="819.8" cy="173.7" rx="2.0" ry="3.0"/>
<ellipse cx="821.3" cy="180.3" rx="2.0" ry="3.0"/>
<ellipse cx="814.7" cy="184.7" rx="2.0" ry="3.0"/>
<ellipse cx="819.1" cy="187.7" rx="2.0" ry="3.0"/>
<ellipse cx="745.7" cy="192.1" rx="2.0" ry="3.0"/>
<ellipse cx="764.8" cy="192.8" rx="2.0" ry="3.0"/>
<ellipse cx="766.3" cy="195.0" rx="2.0" ry="3.0"/>
<ellipse cx="755.0" cy="197.9" rx="2.0" ry="3.0"/>
<ellipse cx="763.8" cy="200.6" rx="2.0" ry="3.0"/>
<ellipse cx="776.5" cy="199.4" rx="2.0" ry="3.0"/>
<ellipse cx="770.7" cy="204.5" rx="2.0" ry="3.0"/>
<ellipse cx="768.2" cy="210.4" rx="2.0" ry="3.0"/>
<ellipse cx="790.8" cy="190.6" rx="2.0" ry="3.0"/>
<ellipse cx="790.8" cy="205.0" rx="2.0" ry="3.0"/>
<ellipse cx="802.2" cy="204.5" rx="2.0" ry="3.0"/>
<ellipse cx="826.4" cy="205.3" rx="2.0" ry="3.0"/>
<ellipse cx="761.1" cy="214.8" rx="2.0" ry="3.0"/>
<ellipse cx="753.1" cy="220.7" rx="2.0" ry="3.0"/>
<ellipse cx="748.7" cy="225.8" rx="2.0" ry="3.0"/>
<ellipse cx="752.3" cy="226.5" rx="2.0" ry="3.0"/>
<ellipse cx="753.1" cy="226.9" rx="2.0" ry="3.0"/>
<ellipse cx="750.9" cy="233.2" rx="2.0" ry="3.0"/>
<ellipse cx="747.9" cy="237.6" rx="2.0" ry="3.0"/>
<ellipse cx="751.6" cy="236.1" rx="2.0" ry="3.0"/>
<ellipse cx="769.2" cy="229.9" rx="2.0" ry="3.0"/>
<ellipse cx="774.0" cy="231.7" rx="2.0" ry="3.0"/>
<ellipse cx="775.1" cy="225.1" rx="2.0" ry="3.0"/>
<ellipse cx="780.9" cy="224.1" rx="2.0" ry="3.0"/>
<ellipse cx="791.9" cy="227.0" rx="2.0" ry="3.0"/>
<ellipse cx="797.5" cy="226.1" rx="2.0" ry="3.0"/>
<ellipse cx="801.0" cy="227.0" rx="2.0" ry="3.0"/>
<ellipse cx="797.1" cy="233.2" rx="2.0" ry="3.0"/>
<ellipse cx="787.8" cy="237.8" rx="2.0" ry="3.0"/>
<ellipse cx="765.5" cy="241.2" rx="2.0" ry="3.0"/>
<ellipse cx="768.5" cy="240.5" rx="2.0" ry="3.0"/>
<ellipse cx="813.9" cy="233.2" rx="2.0" ry="3.0"/>
<ellipse cx="816.9" cy="228.5" rx="2.0" ry="3.0"/>
<ellipse cx="822.5" cy="226.5" rx="2.0" ry="3.0"/>
<ellipse cx="825.4" cy="239.8" rx="2.0" ry="3.0"/>
<ellipse cx="796.3" cy="243.1" rx="2.0" ry="3.0"/>
<ellipse cx="839.9" cy="143.7" rx="2.0" ry="3.0"/>
<ellipse cx="835.1" cy="162.4" rx="2.0" ry="3.0"/>
<ellipse cx="832.6" cy="166.1" rx="2.0" ry="3.0"/>
<ellipse cx="840.2" cy="175.2" rx="2.0" ry="3.0"/>
<ellipse cx="834.3" cy="182.1" rx="2.0" ry="3.0"/>
<ellipse cx="869.5" cy="150.3" rx="2.0" ry="3.0"/>
<ellipse cx="888.9" cy="154.7" rx="2.0" ry="3.0"/>
<ellipse cx="863.2" cy="172.0" rx="2.0" ry="3.0"/>
<ellipse cx="872.5" cy="174.0" rx="2.0" ry="3.0"/>
<ellipse cx="884.2" cy="204.5" rx="2.0" ry="3.0"/>
<ellipse cx="850.0" cy="219.9" rx="2.0" ry="3.0"/>
<ellipse cx="858.2" cy="221.1" rx="2.0" ry="3.0"/>
<ellipse cx="860.0" cy="231.2" rx="2.0" ry="3.0"/>
<ellipse cx="861.8" cy="237.5" rx="2.0" ry="3.0"/>
<ellipse cx="898.4" cy="238.7" rx="2.0" ry="3.0"/>
<ellipse cx="844.3" cy="243.1" rx="2.0" ry="3.0"/>
<ellipse cx="679.1" cy="246.9" rx="2.0" ry="3.0"/>
<ellipse cx="682.1" cy="246.2" rx="2.0" ry="3.0"/>
<ellipse cx="686.5" cy="246.9" rx="2.0" ry="3.0"/>
<ellipse cx="689.4" cy="248.4" rx="2.0" ry="3.0"/>
<ellipse cx="680.6" cy="250.6" rx="2.0" ry="3.0"/>
<ellipse cx="680.4" cy="250.7" rx="2.0" ry="3.0"/>
<ellipse cx="684.3" cy="251.3" rx="2.0" ry="3.0"/>
<ellipse cx="683.7" cy="250.2" rx="2.0" ry="3.0"/>
<ellipse cx="688.7" cy="252.1" rx="2.0" ry="3.0"/>
<ellipse cx="691.6" cy="254.3" rx="2.0" ry="3.0"/>
<ellipse cx="694.5" cy="255.0" rx="2.0" ry="3.0"/>
<ellipse cx="682.8" cy="255.0" rx="2.0" ry="3.0"/>
<ellipse cx="679.1" cy="255.7" rx="2.0" ry="3.0"/>
<ellipse cx="679.9" cy="256.1" rx="2.0" ry="3.0"/>
<ellipse cx="675.5" cy="260.1" rx="2.0" ry="3.0"/>
<ellipse cx="679.1" cy="259.4" rx="2.0" ry="3.0"/>
<ellipse cx="685.0" cy="258.7" rx="2.0" ry="3.0"/>
<ellipse cx="690.9" cy="260.1" rx="2.0" ry="3.0"/>
<ellipse cx="698.2" cy="255.0" rx="2.0" ry="3.0"/>
<ellipse cx="698.2" cy="256.0" rx="2.0" ry="3.0"/>
<ellipse cx="698.9" cy="258.7" rx="2.0" ry="3.0"/>
<ellipse cx="700.4" cy="260.1" rx="2.0" ry="3.0"/>
<ellipse cx="701.1" cy="246.9" rx="2.0" ry="3.0"/>
<ellipse cx="701.9" cy="249.1" rx="2.0" ry="3.0"/>
<ellipse cx="697.5" cy="246.9" rx="2.0" ry="3.0"/>
<ellipse cx="709.2" cy="248.4" rx="2.0" ry="3.0"/>
<ellipse cx="713.6" cy="252.1" rx="2.0" ry="3.0"/>
<ellipse cx="704.8" cy="264.5" rx="2.0" ry="3.0"/>
<ellipse cx="686.5" cy="265.3" rx="2.0" ry="3.0"/>
<ellipse cx="681.3" cy="272.6" rx="2.0" ry="3.0"/>
<ellipse cx="681.2" cy="273.5" rx="2.0" ry="3.0"/>
<ellipse cx="685.7" cy="272.6" rx="2.0" ry="3.0"/>
<ellipse cx="683.5" cy="271.9" rx="2.0" ry="3.0"/>
<ellipse cx="695.3" cy="271.9" rx="2.0" ry="3.0"/>
<ellipse cx="698.2" cy="268.2" rx="2.0" ry="3.0"/>
<ellipse cx="698.7" cy="267.5" rx="2.0" ry="3.0"/>
<ellipse cx="698.9" cy="274.8" rx="2.0" ry="3.0"/>
<ellipse cx="675.0" cy="277.0" rx="2.0" ry="3.0"/>
<ellipse cx="677.4" cy="281.8" rx="2.0" ry="3.0"/>
<ellipse cx="681.8" cy="281.4" rx="2.0" ry="3.0"/>
<ellipse cx="678.4" cy="291.2" rx="2.0" ry="3.0"/>
<ellipse cx="696.0" cy="284.3" rx="2.0" ry="3.0"/>
<ellipse cx="702.2" cy="281.8" rx="2.0" ry="3.0"/>
<ellipse cx="711.7" cy="282.9" rx="2.0" ry="3.0"/>
<ellipse cx="712.9" cy="286.5" rx="2.0" ry="3.0"/>
<ellipse cx="712.9" cy="293.1" rx="2.0" ry="3.0"/>
<ellipse cx="712.5" cy="292.6" rx="2.0" ry="3.0"/>
<ellipse cx="698.9" cy="296.8" rx="2.0" ry="3.0"/>
<ellipse cx="698.5" cy="297.0" rx="2.0" ry="3.0"/>
<ellipse cx="701.1" cy="293.1" rx="2.0" ry="3.0"/>
<ellipse cx="702.3" cy="290.9" rx="2.0" ry="3.0"/>
<ellipse cx="699.4" cy="304.1" rx="2.0" ry="3.0"/>
<ellipse cx="699.0" cy="303.9" rx="2.0" ry="3.0"/>
<ellipse cx="701.1" cy="307.1" rx="2.0" ry="3.0"/>
<ellipse cx="719.5" cy="262.3" rx="2.0" ry="3.0"/>
<ellipse cx="719.0" cy="272.3" rx="2.0" ry="3.0"/>
<ellipse cx="719.5" cy="309.7" rx="2.0" ry="3.0"/>
<ellipse cx="726.4" cy="257.9" rx="2.0" ry="3.0"/>
<ellipse cx="730.8" cy="251.3" rx="2.0" ry="3.0"/>
<ellipse cx="737.1" cy="257.2" rx="2.0" ry="3.0"/>
<ellipse cx="738.5" cy="264.5" rx="2.0" ry="3.0"/>
<ellipse cx="740.7" cy="273.3" rx="2.0" ry="3.0"/>
<ellipse cx="743.7" cy="271.9" rx="2.0" ry="3.0"/>
<ellipse cx="738.5" cy="246.2" rx="2.0" ry="3.0"/>
<ellipse cx="732.7" cy="244.7" rx="2.0" ry="3.0"/>
<ellipse cx="715.1" cy="341.5" rx="2.0" ry="3.0"/>
<ellipse cx="749.4" cy="247.7" rx="2.0" ry="3.0"/>
<ellipse cx="753.8" cy="250.6" rx="2.0" ry="3.0"/>
<ellipse cx="757.5" cy="249.1" rx="2.0" ry="3.0"/>
<ellipse cx="756.0" cy="255.0" rx="2.0" ry="3.0"/>
<ellipse cx="758.9" cy="253.5" rx="2.0" ry="3.0"/>
<ellipse cx="748.2" cy="254.0" rx="2.0" ry="3.0"/>
<ellipse cx="763.6" cy="258.2" rx="2.0" ry="3.0"/>
<ellipse cx="775.8" cy="249.9" rx="2.0" ry="3.0"/>
<ellipse cx="775.2" cy="250.9" rx="2.0" ry="3.0"/>
<ellipse cx="774.3" cy="252.1" rx="2.0" ry="3.0"/>
<ellipse cx="772.9" cy="259.4" rx="2.0" ry="3.0"/>
<ellipse cx="775.1" cy="258.7" rx="2.0" ry="3.0"/>
<ellipse cx="772.1" cy="264.2" rx="2.0" ry="3.0"/>
<ellipse cx="789.0" cy="247.7" rx="2.0" ry="3.0"/>
<ellipse cx="795.6" cy="254.0" rx="2.0" ry="3.0"/>
<ellipse cx="791.9" cy="257.9" rx="2.0" ry="3.0"/>
<ellipse cx="803.7" cy="248.4" rx="2.0" ry="3.0"/>
<ellipse cx="803.4" cy="248.3" rx="2.0" ry="3.0"/>
<ellipse cx="805.1" cy="249.6" rx="2.0" ry="3.0"/>
<ellipse cx="834.0" cy="250.3" rx="2.0" ry="3.0"/>
<ellipse cx="845.9" cy="249.9" rx="2.0" ry="3.0"/>
<ellipse cx="845.5" cy="259.1" rx="2.0" ry="3.0"/>
<ellipse cx="824.5" cy="267.8" rx="2.0" ry="3.0"/>
<ellipse cx="854.3" cy="279.9" rx="2.0" ry="3.0"/>
<ellipse cx="762.6" cy="274.1" rx="2.0" ry="3.0"/>
<ellipse cx="747.2" cy="279.9" rx="2.0" ry="3.0"/>
</g>
</g>
<rect x="663.4" y="14.8" width="246.0" height="342.0" fill="none" stroke="#4a4a4a" stroke-width="1.15"/>
<g stroke="#2a2a2a" stroke-width="0.9">
<line x1="695.8" y1="356.8" x2="695.8" y2="359.40000000000003"/>
<line x1="734.3" y1="356.8" x2="734.3" y2="359.40000000000003"/>
<line x1="772.8" y1="356.8" x2="772.8" y2="359.40000000000003"/>
<line x1="811.4" y1="356.8" x2="811.4" y2="359.40000000000003"/>
<line x1="849.9" y1="356.8" x2="849.9" y2="359.40000000000003"/>
<line x1="888.4" y1="356.8" x2="888.4" y2="359.40000000000003"/>
<line x1="660.8" y1="310.8" x2="663.4" y2="310.8"/>
<line x1="660.8" y1="261.6" x2="663.4" y2="261.6"/>
<line x1="660.8" y1="212.3" x2="663.4" y2="212.3"/>
<line x1="660.8" y1="163.1" x2="663.4" y2="163.1"/>
<line x1="660.8" y1="113.8" x2="663.4" y2="113.8"/>
<line x1="660.8" y1="64.5" x2="663.4" y2="64.5"/>
<line x1="660.8" y1="15.3" x2="663.4" y2="15.3"/>
</g>
<text x="695.8" y="370.2" font-size="10.8" textLength="10.8" lengthAdjust="spacingAndGlyphs" text-anchor="middle" fill="#262626" stroke="#262626" stroke-width="0.25">200</text>
<text x="734.3" y="370.2" font-size="10.8" textLength="10.8" lengthAdjust="spacingAndGlyphs" text-anchor="middle" fill="#262626" stroke="#262626" stroke-width="0.25">400</text>
<text x="772.8" y="370.2" font-size="10.8" textLength="10.8" lengthAdjust="spacingAndGlyphs" text-anchor="middle" fill="#262626" stroke="#262626" stroke-width="0.25">600</text>
<text x="811.4" y="370.2" font-size="10.8" textLength="10.8" lengthAdjust="spacingAndGlyphs" text-anchor="middle" fill="#262626" stroke="#262626" stroke-width="0.25">800</text>
<text x="849.9" y="370.2" font-size="10.8" textLength="14.4" lengthAdjust="spacingAndGlyphs" text-anchor="middle" fill="#262626" stroke="#262626" stroke-width="0.25">1000</text>
<text x="888.4" y="370.2" font-size="10.8" textLength="14.4" lengthAdjust="spacingAndGlyphs" text-anchor="middle" fill="#262626" stroke="#262626" stroke-width="0.25">1200</text>
<text x="658.2" y="314.4" font-size="10.8" textLength="15.6" lengthAdjust="spacingAndGlyphs" text-anchor="end" fill="#262626" stroke="#262626" stroke-width="0.25">−500</text>
<text x="658.2" y="265.2" font-size="10.8" textLength="3.6" lengthAdjust="spacingAndGlyphs" text-anchor="end" fill="#262626" stroke="#262626" stroke-width="0.25">0</text>
<text x="658.2" y="215.9" font-size="10.8" textLength="10.8" lengthAdjust="spacingAndGlyphs" text-anchor="end" fill="#262626" stroke="#262626" stroke-width="0.25">500</text>
<text x="658.2" y="166.7" font-size="10.8" textLength="14.4" lengthAdjust="spacingAndGlyphs" text-anchor="end" fill="#262626" stroke="#262626" stroke-width="0.25">1000</text>
<text x="658.2" y="117.4" font-size="10.8" textLength="14.4" lengthAdjust="spacingAndGlyphs" text-anchor="end" fill="#262626" stroke="#262626" stroke-width="0.25">1500</text>
<text x="658.2" y="68.1" font-size="10.8" textLength="14.4" lengthAdjust="spacingAndGlyphs" text-anchor="end" fill="#262626" stroke="#262626" stroke-width="0.25">2000</text>
<text x="658.2" y="18.9" font-size="10.8" textLength="14.4" lengthAdjust="spacingAndGlyphs" text-anchor="end" fill="#262626" stroke="#262626" stroke-width="0.25">2500</text>
<text x="748.5" y="8.6" font-size="12.6" textLength="76.0" lengthAdjust="spacingAndGlyphs" fill="#262626" stroke="#262626" stroke-width="0.25">True vs. Predicted ETH</text>
<text x="763.3" y="383.3" font-size="11.0" textLength="45.4" lengthAdjust="spacingAndGlyphs" fill="#262626" stroke="#262626" stroke-width="0.25">True ETH Values</text>
<text x="0" y="0" font-size="11.0" textLength="98.8" lengthAdjust="spacingAndGlyphs" transform="translate(640.3 235.6) scale(0.68 1) rotate(-90)" fill="#262626" stroke="#262626" stroke-width="0.25">Predicted ETH Values</text>
<rect x="839.6" y="19.6" width="66.9" height="30.5" rx="2" fill="#fff" fill-opacity="0.8" stroke="#d5d5d5" stroke-width="0.9"/>
<ellipse cx="847.1" cy="28.1" rx="2.2" ry="3.4" fill="#0000ff" fill-opacity="0.68"/>
<text x="857.5" y="30.6" font-size="10.3" textLength="46.2" lengthAdjust="spacingAndGlyphs" fill="#262626" stroke="#262626" stroke-width="0.25">Final Predictions</text>
<text x="857.5" y="44.4" font-size="10.3" textLength="25.5" lengthAdjust="spacingAndGlyphs" fill="#262626" stroke="#262626" stroke-width="0.25">True ETH</text>
<line x1="841.0" y1="41.6" x2="853.0" y2="41.6" stroke="#ff1414" stroke-width="1.6" stroke-dasharray="3.2,1.2"/>
<g stroke="#cccccc" stroke-width="1.0">
<line x1="980.4" y1="14.7" x2="980.4" y2="356.7"/>
<line x1="1015.7" y1="14.7" x2="1015.7" y2="356.7"/>
<line x1="1051.0" y1="14.7" x2="1051.0" y2="356.7"/>
<line x1="1086.4" y1="14.7" x2="1086.4" y2="356.7"/>
<line x1="1121.7" y1="14.7" x2="1121.7" y2="356.7"/>
<line x1="1157.0" y1="14.7" x2="1157.0" y2="356.7"/>
<line x1="1192.4" y1="14.7" x2="1192.4" y2="356.7"/>
</g>
<g stroke="#a8a8a8" stroke-width="1.0">
<line x1="947.3" y1="326.0" x2="1192.8" y2="326.0"/>
<line x1="947.3" y1="280.0" x2="1192.8" y2="280.0"/>
<line x1="947.3" y1="234.0" x2="1192.8" y2="234.0"/>
<line x1="947.3" y1="188.0" x2="1192.8" y2="188.0"/>
<line x1="947.3" y1="142.0" x2="1192.8" y2="142.0"/>
<line x1="947.3" y1="96.0" x2="1192.8" y2="96.0"/>
<line x1="947.3" y1="50.0" x2="1192.8" y2="50.0"/>
</g>
<g clip-path="url(#c4)">
<g fill="#008000" fill-opacity="0.68" stroke="#008000" stroke-opacity="0.68" stroke-width="0.6">
<ellipse cx="958.0" cy="39.7" rx="2.0" ry="3.0"/>
<ellipse cx="1002.0" cy="30.1" rx="2.0" ry="3.0"/>
<ellipse cx="1010.8" cy="55.8" rx="2.0" ry="3.0"/>
<ellipse cx="1017.4" cy="54.3" rx="2.0" ry="3.0"/>
<ellipse cx="980.7" cy="67.1" rx="2.0" ry="3.0"/>
<ellipse cx="1023.6" cy="62.4" rx="2.0" ry="3.0"/>
<ellipse cx="1023.3" cy="68.3" rx="2.0" ry="3.0"/>
<ellipse cx="1027.4" cy="68.6" rx="2.0" ry="3.0"/>
<ellipse cx="982.2" cy="77.1" rx="2.0" ry="3.0"/>
<ellipse cx="982.3" cy="78.0" rx="2.0" ry="3.0"/>
<ellipse cx="984.4" cy="80.7" rx="2.0" ry="3.0"/>
<ellipse cx="985.9" cy="82.9" rx="2.0" ry="3.0"/>
<ellipse cx="990.7" cy="81.8" rx="2.0" ry="3.0"/>
<ellipse cx="989.5" cy="86.6" rx="2.0" ry="3.0"/>
<ellipse cx="989.4" cy="87.6" rx="2.0" ry="3.0"/>
<ellipse cx="992.5" cy="87.3" rx="2.0" ry="3.0"/>
<ellipse cx="991.0" cy="90.3" rx="2.0" ry="3.0"/>
<ellipse cx="994.7" cy="92.5" rx="2.0" ry="3.0"/>
<ellipse cx="997.6" cy="91.7" rx="2.0" ry="3.0"/>
<ellipse cx="999.8" cy="96.1" rx="2.0" ry="3.0"/>
<ellipse cx="1002.0" cy="81.5" rx="2.0" ry="3.0"/>
<ellipse cx="1006.7" cy="80.0" rx="2.0" ry="3.0"/>
<ellipse cx="1007.9" cy="90.3" rx="2.0" ry="3.0"/>
<ellipse cx="1007.9" cy="90.4" rx="2.0" ry="3.0"/>
<ellipse cx="1013.7" cy="85.1" rx="2.0" ry="3.0"/>
<ellipse cx="1017.1" cy="86.6" rx="2.0" ry="3.0"/>
<ellipse cx="1018.1" cy="80.7" rx="2.0" ry="3.0"/>
<ellipse cx="1021.8" cy="82.9" rx="2.0" ry="3.0"/>
<ellipse cx="1024.7" cy="82.2" rx="2.0" ry="3.0"/>
<ellipse cx="1024.8" cy="81.1" rx="2.0" ry="3.0"/>
<ellipse cx="1026.9" cy="89.5" rx="2.0" ry="3.0"/>
<ellipse cx="1018.1" cy="93.9" rx="2.0" ry="3.0"/>
<ellipse cx="1023.3" cy="93.9" rx="2.0" ry="3.0"/>
<ellipse cx="993.9" cy="103.8" rx="2.0" ry="3.0"/>
<ellipse cx="999.1" cy="102.0" rx="2.0" ry="3.0"/>
<ellipse cx="1000.5" cy="99.8" rx="2.0" ry="3.0"/>
<ellipse cx="1007.4" cy="102.3" rx="2.0" ry="3.0"/>
<ellipse cx="1013.3" cy="99.8" rx="2.0" ry="3.0"/>
<ellipse cx="1013.2" cy="99.1" rx="2.0" ry="3.0"/>
<ellipse cx="1020.3" cy="100.5" rx="2.0" ry="3.0"/>
<ellipse cx="1024.7" cy="98.3" rx="2.0" ry="3.0"/>
<ellipse cx="1019.6" cy="107.9" rx="2.0" ry="3.0"/>
<ellipse cx="1024.0" cy="105.7" rx="2.0" ry="3.0"/>
<ellipse cx="1023.2" cy="106.4" rx="2.0" ry="3.0"/>
<ellipse cx="1026.9" cy="107.9" rx="2.0" ry="3.0"/>
<ellipse cx="1001.3" cy="112.3" rx="2.0" ry="3.0"/>
<ellipse cx="1000.8" cy="112.2" rx="2.0" ry="3.0"/>
<ellipse cx="1005.7" cy="109.3" rx="2.0" ry="3.0"/>
<ellipse cx="1008.6" cy="115.2" rx="2.0" ry="3.0"/>
<ellipse cx="1009.0" cy="115.4" rx="2.0" ry="3.0"/>
<ellipse cx="1008.3" cy="115.3" rx="2.0" ry="3.0"/>
<ellipse cx="1011.5" cy="116.7" rx="2.0" ry="3.0"/>
<ellipse cx="1011.6" cy="117.4" rx="2.0" ry="3.0"/>
<ellipse cx="1004.2" cy="118.9" rx="2.0" ry="3.0"/>
<ellipse cx="1007.1" cy="121.1" rx="2.0" ry="3.0"/>
<ellipse cx="1006.5" cy="121.2" rx="2.0" ry="3.0"/>
<ellipse cx="1014.5" cy="110.8" rx="2.0" ry="3.0"/>
<ellipse cx="1018.1" cy="111.5" rx="2.0" ry="3.0"/>
<ellipse cx="1021.8" cy="115.2" rx="2.0" ry="3.0"/>
<ellipse cx="1026.2" cy="116.7" rx="2.0" ry="3.0"/>
<ellipse cx="1013.0" cy="123.3" rx="2.0" ry="3.0"/>
<ellipse cx="1012.6" cy="122.7" rx="2.0" ry="3.0"/>
<ellipse cx="1017.4" cy="122.6" rx="2.0" ry="3.0"/>
<ellipse cx="1021.8" cy="123.3" rx="2.0" ry="3.0"/>
<ellipse cx="1026.9" cy="122.6" rx="2.0" ry="3.0"/>
<ellipse cx="1015.9" cy="127.0" rx="2.0" ry="3.0"/>
<ellipse cx="1020.3" cy="127.7" rx="2.0" ry="3.0"/>
<ellipse cx="1026.2" cy="127.7" rx="2.0" ry="3.0"/>
<ellipse cx="1031.9" cy="47.7" rx="2.0" ry="3.0"/>
<ellipse cx="1033.1" cy="66.5" rx="2.0" ry="3.0"/>
<ellipse cx="1037.4" cy="73.4" rx="2.0" ry="3.0"/>
<ellipse cx="1031.6" cy="81.8" rx="2.0" ry="3.0"/>
<ellipse cx="1044.1" cy="82.9" rx="2.0" ry="3.0"/>
<ellipse cx="1045.6" cy="88.1" rx="2.0" ry="3.0"/>
<ellipse cx="1035.6" cy="92.8" rx="2.0" ry="3.0"/>
<ellipse cx="1040.0" cy="94.7" rx="2.0" ry="3.0"/>
<ellipse cx="1039.3" cy="97.6" rx="2.0" ry="3.0"/>
<ellipse cx="1032.7" cy="101.7" rx="2.0" ry="3.0"/>
<ellipse cx="1036.0" cy="101.7" rx="2.0" ry="3.0"/>
<ellipse cx="1040.0" cy="104.9" rx="2.0" ry="3.0"/>
<ellipse cx="1040.4" cy="108.6" rx="2.0" ry="3.0"/>
<ellipse cx="1037.1" cy="114.5" rx="2.0" ry="3.0"/>
<ellipse cx="1038.5" cy="118.2" rx="2.0" ry="3.0"/>
<ellipse cx="1042.2" cy="117.4" rx="2.0" ry="3.0"/>
<ellipse cx="1034.1" cy="121.1" rx="2.0" ry="3.0"/>
<ellipse cx="1034.6" cy="121.1" rx="2.0" ry="3.0"/>
<ellipse cx="1036.3" cy="124.0" rx="2.0" ry="3.0"/>
<ellipse cx="1030.5" cy="118.9" rx="2.0" ry="3.0"/>
<ellipse cx="1040.0" cy="127.0" rx="2.0" ry="3.0"/>
<ellipse cx="1056.9" cy="86.9" rx="2.0" ry="3.0"/>
<ellipse cx="1055.7" cy="112.3" rx="2.0" ry="3.0"/>
<ellipse cx="1056.6" cy="124.8" rx="2.0" ry="3.0"/>
<ellipse cx="1078.9" cy="121.1" rx="2.0" ry="3.0"/>
<ellipse cx="1079.6" cy="126.2" rx="2.0" ry="3.0"/>
<ellipse cx="1073.0" cy="128.4" rx="2.0" ry="3.0"/>
<ellipse cx="1092.1" cy="128.4" rx="2.0" ry="3.0"/>
<ellipse cx="1017.4" cy="131.9" rx="2.0" ry="3.0"/>
<ellipse cx="1017.5" cy="132.6" rx="2.0" ry="3.0"/>
<ellipse cx="1019.6" cy="135.6" rx="2.0" ry="3.0"/>
<ellipse cx="1020.3" cy="135.5" rx="2.0" ry="3.0"/>
<ellipse cx="1021.8" cy="138.5" rx="2.0" ry="3.0"/>
<ellipse cx="1024.7" cy="141.5" rx="2.0" ry="3.0"/>
<ellipse cx="1024.9" cy="141.5" rx="2.0" ry="3.0"/>
<ellipse cx="1026.9" cy="145.1" rx="2.0" ry="3.0"/>
<ellipse cx="1027.7" cy="149.5" rx="2.0" ry="3.0"/>
<ellipse cx="1024.7" cy="130.5" rx="2.0" ry="3.0"/>
<ellipse cx="1028.4" cy="133.4" rx="2.0" ry="3.0"/>
<ellipse cx="1036.0" cy="133.4" rx="2.0" ry="3.0"/>
<ellipse cx="1040.7" cy="131.5" rx="2.0" ry="3.0"/>
<ellipse cx="1045.1" cy="134.0" rx="2.0" ry="3.0"/>
<ellipse cx="1049.2" cy="135.9" rx="2.0" ry="3.0"/>
<ellipse cx="1052.5" cy="136.7" rx="2.0" ry="3.0"/>
<ellipse cx="1056.1" cy="131.5" rx="2.0" ry="3.0"/>
<ellipse cx="1056.1" cy="139.3" rx="2.0" ry="3.0"/>
<ellipse cx="1029.7" cy="136.7" rx="2.0" ry="3.0"/>
<ellipse cx="1030.5" cy="146.9" rx="2.0" ry="3.0"/>
<ellipse cx="1030.5" cy="147.4" rx="2.0" ry="3.0"/>
<ellipse cx="1033.4" cy="149.9" rx="2.0" ry="3.0"/>
<ellipse cx="1034.9" cy="145.5" rx="2.0" ry="3.0"/>
<ellipse cx="1041.5" cy="148.4" rx="2.0" ry="3.0"/>
<ellipse cx="1036.3" cy="154.3" rx="2.0" ry="3.0"/>
<ellipse cx="1039.3" cy="156.5" rx="2.0" ry="3.0"/>
<ellipse cx="1042.2" cy="155.0" rx="2.0" ry="3.0"/>
<ellipse cx="1034.1" cy="158.7" rx="2.0" ry="3.0"/>
<ellipse cx="1040.7" cy="161.6" rx="2.0" ry="3.0"/>
<ellipse cx="1043.7" cy="166.7" rx="2.0" ry="3.0"/>
<ellipse cx="1043.6" cy="166.8" rx="2.0" ry="3.0"/>
<ellipse cx="1047.3" cy="164.5" rx="2.0" ry="3.0"/>
<ellipse cx="1048.1" cy="161.6" rx="2.0" ry="3.0"/>
<ellipse cx="1053.9" cy="164.5" rx="2.0" ry="3.0"/>
<ellipse cx="1056.1" cy="168.9" rx="2.0" ry="3.0"/>
<ellipse cx="1048.8" cy="173.3" rx="2.0" ry="3.0"/>
<ellipse cx="1052.5" cy="171.9" rx="2.0" ry="3.0"/>
<ellipse cx="1052.4" cy="172.9" rx="2.0" ry="3.0"/>
<ellipse cx="1056.9" cy="176.3" rx="2.0" ry="3.0"/>
<ellipse cx="1051.7" cy="179.2" rx="2.0" ry="3.0"/>
<ellipse cx="1059.8" cy="148.4" rx="2.0" ry="3.0"/>
<ellipse cx="1060.5" cy="154.3" rx="2.0" ry="3.0"/>
<ellipse cx="1064.2" cy="152.8" rx="2.0" ry="3.0"/>
<ellipse cx="1063.5" cy="144.0" rx="2.0" ry="3.0"/>
<ellipse cx="1066.8" cy="144.4" rx="2.0" ry="3.0"/>
<ellipse cx="1068.6" cy="133.4" rx="2.0" ry="3.0"/>
<ellipse cx="1072.7" cy="131.1" rx="2.0" ry="3.0"/>
<ellipse cx="1071.2" cy="135.9" rx="2.0" ry="3.0"/>
<ellipse cx="1073.7" cy="138.9" rx="2.0" ry="3.0"/>
<ellipse cx="1077.4" cy="134.5" rx="2.0" ry="3.0"/>
<ellipse cx="1078.9" cy="145.5" rx="2.0" ry="3.0"/>
<ellipse cx="1092.4" cy="130.8" rx="2.0" ry="3.0"/>
<ellipse cx="1095.7" cy="144.3" rx="2.0" ry="3.0"/>
<ellipse cx="1084.0" cy="147.7" rx="2.0" ry="3.0"/>
<ellipse cx="1084.3" cy="148.6" rx="2.0" ry="3.0"/>
<ellipse cx="1081.8" cy="150.6" rx="2.0" ry="3.0"/>
<ellipse cx="1086.2" cy="150.6" rx="2.0" ry="3.0"/>
<ellipse cx="1086.9" cy="154.3" rx="2.0" ry="3.0"/>
<ellipse cx="1078.1" cy="155.7" rx="2.0" ry="3.0"/>
<ellipse cx="1080.3" cy="160.1" rx="2.0" ry="3.0"/>
<ellipse cx="1081.8" cy="163.1" rx="2.0" ry="3.0"/>
<ellipse cx="1078.9" cy="167.5" rx="2.0" ry="3.0"/>
<ellipse cx="1071.8" cy="158.7" rx="2.0" ry="3.0"/>
<ellipse cx="1065.7" cy="164.5" rx="2.0" ry="3.0"/>
<ellipse cx="1070.1" cy="165.3" rx="2.0" ry="3.0"/>
<ellipse cx="1067.9" cy="174.8" rx="2.0" ry="3.0"/>
<ellipse cx="1073.0" cy="172.6" rx="2.0" ry="3.0"/>
<ellipse cx="1075.9" cy="174.1" rx="2.0" ry="3.0"/>
<ellipse cx="1077.4" cy="171.9" rx="2.0" ry="3.0"/>
<ellipse cx="1081.1" cy="175.5" rx="2.0" ry="3.0"/>
<ellipse cx="1083.3" cy="175.5" rx="2.0" ry="3.0"/>
<ellipse cx="1079.6" cy="179.9" rx="2.0" ry="3.0"/>
<ellipse cx="1080.3" cy="179.4" rx="2.0" ry="3.0"/>
<ellipse cx="1075.2" cy="179.9" rx="2.0" ry="3.0"/>
<ellipse cx="1088.4" cy="178.9" rx="2.0" ry="3.0"/>
<ellipse cx="1092.1" cy="174.8" rx="2.0" ry="3.0"/>
<ellipse cx="1096.5" cy="174.8" rx="2.0" ry="3.0"/>
<ellipse cx="1099.4" cy="175.5" rx="2.0" ry="3.0"/>
<ellipse cx="1091.3" cy="160.1" rx="2.0" ry="3.0"/>
<ellipse cx="1091.4" cy="161.2" rx="2.0" ry="3.0"/>
<ellipse cx="1093.5" cy="164.5" rx="2.0" ry="3.0"/>
<ellipse cx="1090.6" cy="166.0" rx="2.0" ry="3.0"/>
<ellipse cx="1100.9" cy="165.3" rx="2.0" ry="3.0"/>
<ellipse cx="1098.7" cy="188.0" rx="2.0" ry="3.0"/>
<ellipse cx="1060.5" cy="182.1" rx="2.0" ry="3.0"/>
<ellipse cx="1061.1" cy="181.3" rx="2.0" ry="3.0"/>
<ellipse cx="1062.7" cy="185.8" rx="2.0" ry="3.0"/>
<ellipse cx="1058.3" cy="188.0" rx="2.0" ry="3.0"/>
<ellipse cx="1061.3" cy="190.9" rx="2.0" ry="3.0"/>
<ellipse cx="1060.7" cy="190.8" rx="2.0" ry="3.0"/>
<ellipse cx="1066.4" cy="187.3" rx="2.0" ry="3.0"/>
<ellipse cx="1067.9" cy="184.3" rx="2.0" ry="3.0"/>
<ellipse cx="1064.2" cy="192.4" rx="2.0" ry="3.0"/>
<ellipse cx="1068.6" cy="193.9" rx="2.0" ry="3.0"/>
<ellipse cx="1080.3" cy="185.1" rx="2.0" ry="3.0"/>
<ellipse cx="1081.8" cy="188.0" rx="2.0" ry="3.0"/>
<ellipse cx="1081.1" cy="187.4" rx="2.0" ry="3.0"/>
<ellipse cx="1080.3" cy="192.4" rx="2.0" ry="3.0"/>
<ellipse cx="1083.3" cy="189.5" rx="2.0" ry="3.0"/>
<ellipse cx="1088.4" cy="193.9" rx="2.0" ry="3.0"/>
<ellipse cx="1089.1" cy="195.3" rx="2.0" ry="3.0"/>
<ellipse cx="1067.9" cy="196.8" rx="2.0" ry="3.0"/>
<ellipse cx="1070.8" cy="201.2" rx="2.0" ry="3.0"/>
<ellipse cx="1070.1" cy="201.6" rx="2.0" ry="3.0"/>
<ellipse cx="1071.3" cy="202.2" rx="2.0" ry="3.0"/>
<ellipse cx="1073.0" cy="204.9" rx="2.0" ry="3.0"/>
<ellipse cx="1077.4" cy="199.7" rx="2.0" ry="3.0"/>
<ellipse cx="1081.1" cy="199.7" rx="2.0" ry="3.0"/>
<ellipse cx="1090.6" cy="201.2" rx="2.0" ry="3.0"/>
<ellipse cx="1094.3" cy="199.7" rx="2.0" ry="3.0"/>
<ellipse cx="1097.2" cy="202.7" rx="2.0" ry="3.0"/>
<ellipse cx="1096.7" cy="203.2" rx="2.0" ry="3.0"/>
<ellipse cx="1100.1" cy="201.2" rx="2.0" ry="3.0"/>
<ellipse cx="1102.3" cy="205.6" rx="2.0" ry="3.0"/>
<ellipse cx="1107.5" cy="197.5" rx="2.0" ry="3.0"/>
<ellipse cx="1105.3" cy="207.1" rx="2.0" ry="3.0"/>
<ellipse cx="1075.9" cy="208.6" rx="2.0" ry="3.0"/>
<ellipse cx="1076.2" cy="207.7" rx="2.0" ry="3.0"/>
<ellipse cx="1078.9" cy="211.5" rx="2.0" ry="3.0"/>
<ellipse cx="1084.7" cy="205.6" rx="2.0" ry="3.0"/>
<ellipse cx="1085.5" cy="211.5" rx="2.0" ry="3.0"/>
<ellipse cx="1096.5" cy="208.6" rx="2.0" ry="3.0"/>
<ellipse cx="1099.4" cy="211.5" rx="2.0" ry="3.0"/>
<ellipse cx="1080.3" cy="216.5" rx="2.0" ry="3.0"/>
<ellipse cx="1083.3" cy="220.1" rx="2.0" ry="3.0"/>
<ellipse cx="1083.9" cy="221.3" rx="2.0" ry="3.0"/>
<ellipse cx="1086.9" cy="218.7" rx="2.0" ry="3.0"/>
<ellipse cx="1089.1" cy="222.3" rx="2.0" ry="3.0"/>
<ellipse cx="1088.7" cy="223.4" rx="2.0" ry="3.0"/>
<ellipse cx="1092.1" cy="225.3" rx="2.0" ry="3.0"/>
<ellipse cx="1090.6" cy="217.9" rx="2.0" ry="3.0"/>
<ellipse cx="1094.3" cy="219.4" rx="2.0" ry="3.0"/>
<ellipse cx="1097.9" cy="217.2" rx="2.0" ry="3.0"/>
<ellipse cx="1103.1" cy="215.7" rx="2.0" ry="3.0"/>
<ellipse cx="1093.5" cy="229.7" rx="2.0" ry="3.0"/>
<ellipse cx="1095.7" cy="231.1" rx="2.0" ry="3.0"/>
<ellipse cx="1099.4" cy="228.9" rx="2.0" ry="3.0"/>
<ellipse cx="1103.8" cy="230.4" rx="2.0" ry="3.0"/>
<ellipse cx="1106.7" cy="221.6" rx="2.0" ry="3.0"/>
<ellipse cx="1108.9" cy="226.7" rx="2.0" ry="3.0"/>
<ellipse cx="1097.9" cy="237.0" rx="2.0" ry="3.0"/>
<ellipse cx="1097.8" cy="237.0" rx="2.0" ry="3.0"/>
<ellipse cx="1100.9" cy="240.7" rx="2.0" ry="3.0"/>
<ellipse cx="1101.7" cy="241.5" rx="2.0" ry="3.0"/>
<ellipse cx="1099.4" cy="244.3" rx="2.0" ry="3.0"/>
<ellipse cx="1103.8" cy="242.1" rx="2.0" ry="3.0"/>
<ellipse cx="1105.3" cy="245.8" rx="2.0" ry="3.0"/>
<ellipse cx="1104.7" cy="245.6" rx="2.0" ry="3.0"/>
<ellipse cx="1107.5" cy="248.0" rx="2.0" ry="3.0"/>
<ellipse cx="1108.9" cy="250.9" rx="2.0" ry="3.0"/>
<ellipse cx="1109.7" cy="254.6" rx="2.0" ry="3.0"/>
<ellipse cx="1105.3" cy="237.0" rx="2.0" ry="3.0"/>
<ellipse cx="1108.2" cy="239.2" rx="2.0" ry="3.0"/>
<ellipse cx="1130.8" cy="186.7" rx="2.0" ry="3.0"/>
<ellipse cx="1115.7" cy="198.4" rx="2.0" ry="3.0"/>
<ellipse cx="1116.1" cy="217.8" rx="2.0" ry="3.0"/>
<ellipse cx="1112.5" cy="221.9" rx="2.0" ry="3.0"/>
<ellipse cx="1124.2" cy="217.5" rx="2.0" ry="3.0"/>
<ellipse cx="1127.1" cy="222.6" rx="2.0" ry="3.0"/>
<ellipse cx="1127.2" cy="222.2" rx="2.0" ry="3.0"/>
<ellipse cx="1127.9" cy="228.9" rx="2.0" ry="3.0"/>
<ellipse cx="1138.1" cy="228.9" rx="2.0" ry="3.0"/>
<ellipse cx="1135.9" cy="234.8" rx="2.0" ry="3.0"/>
<ellipse cx="1148.8" cy="235.4" rx="2.0" ry="3.0"/>
<ellipse cx="1148.4" cy="234.9" rx="2.0" ry="3.0"/>
<ellipse cx="1152.5" cy="221.6" rx="2.0" ry="3.0"/>
<ellipse cx="1120.1" cy="235.8" rx="2.0" ry="3.0"/>
<ellipse cx="1122.7" cy="237.7" rx="2.0" ry="3.0"/>
<ellipse cx="1123.1" cy="236.6" rx="2.0" ry="3.0"/>
<ellipse cx="1129.3" cy="238.7" rx="2.0" ry="3.0"/>
<ellipse cx="1129.4" cy="238.6" rx="2.0" ry="3.0"/>
<ellipse cx="1126.4" cy="242.1" rx="2.0" ry="3.0"/>
<ellipse cx="1119.8" cy="240.9" rx="2.0" ry="3.0"/>
<ellipse cx="1112.5" cy="239.5" rx="2.0" ry="3.0"/>
<ellipse cx="1115.4" cy="244.6" rx="2.0" ry="3.0"/>
<ellipse cx="1125.7" cy="246.8" rx="2.0" ry="3.0"/>
<ellipse cx="1129.3" cy="250.5" rx="2.0" ry="3.0"/>
<ellipse cx="1128.6" cy="250.1" rx="2.0" ry="3.0"/>
<ellipse cx="1134.5" cy="249.7" rx="2.0" ry="3.0"/>
<ellipse cx="1141.1" cy="251.2" rx="2.0" ry="3.0"/>
<ellipse cx="1141.3" cy="251.2" rx="2.0" ry="3.0"/>
<ellipse cx="1143.0" cy="247.5" rx="2.0" ry="3.0"/>
<ellipse cx="1149.9" cy="251.9" rx="2.0" ry="3.0"/>
<ellipse cx="1152.1" cy="255.3" rx="2.0" ry="3.0"/>
<ellipse cx="1146.2" cy="256.4" rx="2.0" ry="3.0"/>
<ellipse cx="1145.5" cy="257.5" rx="2.0" ry="3.0"/>
<ellipse cx="1138.9" cy="257.8" rx="2.0" ry="3.0"/>
<ellipse cx="1162.0" cy="255.3" rx="2.0" ry="3.0"/>
<ellipse cx="1122.0" cy="254.4" rx="2.0" ry="3.0"/>
<ellipse cx="1125.7" cy="258.8" rx="2.0" ry="3.0"/>
<ellipse cx="1133.0" cy="259.7" rx="2.0" ry="3.0"/>
<ellipse cx="1116.9" cy="259.7" rx="2.0" ry="3.0"/>
<ellipse cx="1117.3" cy="260.9" rx="2.0" ry="3.0"/>
<ellipse cx="1116.2" cy="259.2" rx="2.0" ry="3.0"/>
<ellipse cx="1121.3" cy="263.7" rx="2.0" ry="3.0"/>
<ellipse cx="1136.7" cy="263.7" rx="2.0" ry="3.0"/>
<ellipse cx="1157.9" cy="263.0" rx="2.0" ry="3.0"/>
<ellipse cx="1120.5" cy="266.8" rx="2.0" ry="3.0"/>
<ellipse cx="1125.8" cy="268.0" rx="2.0" ry="3.0"/>
<ellipse cx="1129.4" cy="269.7" rx="2.0" ry="3.0"/>
<ellipse cx="1128.7" cy="270.4" rx="2.0" ry="3.0"/>
<ellipse cx="1129.0" cy="268.9" rx="2.0" ry="3.0"/>
<ellipse cx="1126.4" cy="273.9" rx="2.0" ry="3.0"/>
<ellipse cx="1128.2" cy="276.3" rx="2.0" ry="3.0"/>
<ellipse cx="1128.1" cy="277.3" rx="2.0" ry="3.0"/>
<ellipse cx="1130.6" cy="277.5" rx="2.0" ry="3.0"/>
<ellipse cx="1130.0" cy="279.8" rx="2.0" ry="3.0"/>
<ellipse cx="1133.0" cy="278.1" rx="2.0" ry="3.0"/>
<ellipse cx="1135.9" cy="276.9" rx="2.0" ry="3.0"/>
<ellipse cx="1136.4" cy="276.3" rx="2.0" ry="3.0"/>
<ellipse cx="1137.1" cy="281.6" rx="2.0" ry="3.0"/>
<ellipse cx="1135.9" cy="285.8" rx="2.0" ry="3.0"/>
<ellipse cx="1135.9" cy="290.5" rx="2.0" ry="3.0"/>
<ellipse cx="1136.5" cy="266.2" rx="2.0" ry="3.0"/>
<ellipse cx="1143.0" cy="269.7" rx="2.0" ry="3.0"/>
<ellipse cx="1150.5" cy="268.6" rx="2.0" ry="3.0"/>
<ellipse cx="1162.9" cy="270.7" rx="2.0" ry="3.0"/>
<ellipse cx="1151.9" cy="279.2" rx="2.0" ry="3.0"/>
<ellipse cx="1153.1" cy="276.9" rx="2.0" ry="3.0"/>
<ellipse cx="1155.9" cy="275.1" rx="2.0" ry="3.0"/>
<ellipse cx="1141.9" cy="288.1" rx="2.0" ry="3.0"/>
<ellipse cx="1141.3" cy="289.1" rx="2.0" ry="3.0"/>
<ellipse cx="1143.0" cy="294.7" rx="2.0" ry="3.0"/>
<ellipse cx="1143.2" cy="295.1" rx="2.0" ry="3.0"/>
<ellipse cx="1142.4" cy="293.6" rx="2.0" ry="3.0"/>
<ellipse cx="1142.4" cy="298.8" rx="2.0" ry="3.0"/>
<ellipse cx="1147.8" cy="300.6" rx="2.0" ry="3.0"/>
<ellipse cx="1148.1" cy="300.4" rx="2.0" ry="3.0"/>
<ellipse cx="1150.2" cy="300.0" rx="2.0" ry="3.0"/>
<ellipse cx="1149.6" cy="303.6" rx="2.0" ry="3.0"/>
<ellipse cx="1148.9" cy="304.6" rx="2.0" ry="3.0"/>
<ellipse cx="1149.6" cy="307.7" rx="2.0" ry="3.0"/>
<ellipse cx="1153.7" cy="310.1" rx="2.0" ry="3.0"/>
<ellipse cx="1155.5" cy="311.3" rx="2.0" ry="3.0"/>
<ellipse cx="1155.7" cy="312.0" rx="2.0" ry="3.0"/>
<ellipse cx="1159.1" cy="308.9" rx="2.0" ry="3.0"/>
<ellipse cx="1163.2" cy="307.7" rx="2.0" ry="3.0"/>
<ellipse cx="1163.2" cy="317.0" rx="2.0" ry="3.0"/>
<ellipse cx="1161.4" cy="321.4" rx="2.0" ry="3.0"/>
<ellipse cx="1165.6" cy="326.1" rx="2.0" ry="3.0"/>
<ellipse cx="1168.0" cy="329.7" rx="2.0" ry="3.0"/>
<ellipse cx="1174.5" cy="334.8" rx="2.0" ry="3.0"/>
<ellipse cx="1177.5" cy="336.2" rx="2.0" ry="3.0"/>
<ellipse cx="1180.8" cy="341.5" rx="2.0" ry="3.0"/>
<ellipse cx="1176.9" cy="290.8" rx="2.0" ry="3.0"/>
<ellipse cx="1181.8" cy="299.1" rx="2.0" ry="3.0"/>
<ellipse cx="984.5" cy="82.0" rx="2.0" ry="3.0"/>
<ellipse cx="991.5" cy="83.2" rx="2.0" ry="3.0"/>
<ellipse cx="987.9" cy="86.8" rx="2.0" ry="3.0"/>
<ellipse cx="990.3" cy="86.0" rx="2.0" ry="3.0"/>
<ellipse cx="993.7" cy="86.0" rx="2.0" ry="3.0"/>
<ellipse cx="991.4" cy="90.5" rx="2.0" ry="3.0"/>
<ellipse cx="1018.6" cy="80.0" rx="2.0" ry="3.0"/>
<ellipse cx="1005.4" cy="109.6" rx="2.0" ry="3.0"/>
<ellipse cx="1008.3" cy="115.8" rx="2.0" ry="3.0"/>
<ellipse cx="1008.8" cy="115.1" rx="2.0" ry="3.0"/>
<ellipse cx="1006.6" cy="115.7" rx="2.0" ry="3.0"/>
<ellipse cx="1011.5" cy="115.7" rx="2.0" ry="3.0"/>
<ellipse cx="1012.6" cy="118.4" rx="2.0" ry="3.0"/>
<ellipse cx="1004.1" cy="117.7" rx="2.0" ry="3.0"/>
<ellipse cx="1007.0" cy="119.7" rx="2.0" ry="3.0"/>
<ellipse cx="1005.2" cy="121.0" rx="2.0" ry="3.0"/>
<ellipse cx="1011.5" cy="123.1" rx="2.0" ry="3.0"/>
<ellipse cx="1012.6" cy="121.1" rx="2.0" ry="3.0"/>
<ellipse cx="1017.9" cy="121.0" rx="2.0" ry="3.0"/>
<ellipse cx="1022.7" cy="124.3" rx="2.0" ry="3.0"/>
<ellipse cx="1016.0" cy="125.3" rx="2.0" ry="3.0"/>
<ellipse cx="1020.4" cy="127.2" rx="2.0" ry="3.0"/>
<ellipse cx="1027.8" cy="126.4" rx="2.0" ry="3.0"/>
<ellipse cx="1039.8" cy="119.9" rx="2.0" ry="3.0"/>
<ellipse cx="1018.2" cy="133.1" rx="2.0" ry="3.0"/>
<ellipse cx="1016.4" cy="134.3" rx="2.0" ry="3.0"/>
<ellipse cx="1020.2" cy="137.1" rx="2.0" ry="3.0"/>
<ellipse cx="1028.4" cy="143.9" rx="2.0" ry="3.0"/>
<ellipse cx="1031.5" cy="148.5" rx="2.0" ry="3.0"/>
<ellipse cx="1028.9" cy="146.9" rx="2.0" ry="3.0"/>
<ellipse cx="1034.3" cy="148.6" rx="2.0" ry="3.0"/>
<ellipse cx="1053.9" cy="172.1" rx="2.0" ry="3.0"/>
<ellipse cx="1058.0" cy="175.0" rx="2.0" ry="3.0"/>
<ellipse cx="1084.3" cy="150.1" rx="2.0" ry="3.0"/>
<ellipse cx="1080.8" cy="149.8" rx="2.0" ry="3.0"/>
<ellipse cx="1076.0" cy="173.4" rx="2.0" ry="3.0"/>
<ellipse cx="1075.7" cy="170.7" rx="2.0" ry="3.0"/>
<ellipse cx="1079.9" cy="177.1" rx="2.0" ry="3.0"/>
<ellipse cx="1083.9" cy="177.0" rx="2.0" ry="3.0"/>
<ellipse cx="1078.4" cy="181.0" rx="2.0" ry="3.0"/>
<ellipse cx="1078.9" cy="179.5" rx="2.0" ry="3.0"/>
<ellipse cx="1063.2" cy="185.3" rx="2.0" ry="3.0"/>
<ellipse cx="1062.6" cy="191.1" rx="2.0" ry="3.0"/>
<ellipse cx="1061.0" cy="192.2" rx="2.0" ry="3.0"/>
<ellipse cx="1065.0" cy="189.1" rx="2.0" ry="3.0"/>
<ellipse cx="1064.7" cy="192.0" rx="2.0" ry="3.0"/>
<ellipse cx="1081.4" cy="184.2" rx="2.0" ry="3.0"/>
<ellipse cx="1085.0" cy="189.8" rx="2.0" ry="3.0"/>
<ellipse cx="1067.4" cy="197.8" rx="2.0" ry="3.0"/>
<ellipse cx="1070.6" cy="200.1" rx="2.0" ry="3.0"/>
<ellipse cx="1072.1" cy="200.5" rx="2.0" ry="3.0"/>
<ellipse cx="1074.2" cy="204.0" rx="2.0" ry="3.0"/>
<ellipse cx="1094.8" cy="201.5" rx="2.0" ry="3.0"/>
<ellipse cx="1097.5" cy="203.3" rx="2.0" ry="3.0"/>
<ellipse cx="1096.0" cy="201.4" rx="2.0" ry="3.0"/>
<ellipse cx="1100.7" cy="204.4" rx="2.0" ry="3.0"/>
<ellipse cx="1083.7" cy="219.9" rx="2.0" ry="3.0"/>
<ellipse cx="1083.9" cy="222.7" rx="2.0" ry="3.0"/>
<ellipse cx="1085.6" cy="217.7" rx="2.0" ry="3.0"/>
<ellipse cx="1089.7" cy="220.6" rx="2.0" ry="3.0"/>
<ellipse cx="1086.9" cy="222.9" rx="2.0" ry="3.0"/>
<ellipse cx="1090.7" cy="224.8" rx="2.0" ry="3.0"/>
<ellipse cx="1093.3" cy="219.7" rx="2.0" ry="3.0"/>
<ellipse cx="1096.1" cy="230.1" rx="2.0" ry="3.0"/>
<ellipse cx="1101.3" cy="240.6" rx="2.0" ry="3.0"/>
<ellipse cx="1100.3" cy="243.0" rx="2.0" ry="3.0"/>
<ellipse cx="1098.5" cy="243.1" rx="2.0" ry="3.0"/>
<ellipse cx="1102.4" cy="242.6" rx="2.0" ry="3.0"/>
<ellipse cx="1106.6" cy="246.8" rx="2.0" ry="3.0"/>
<ellipse cx="1104.4" cy="244.8" rx="2.0" ry="3.0"/>
<ellipse cx="1105.7" cy="248.5" rx="2.0" ry="3.0"/>
<ellipse cx="1105.5" cy="236.5" rx="2.0" ry="3.0"/>
<ellipse cx="1123.3" cy="237.5" rx="2.0" ry="3.0"/>
<ellipse cx="1124.7" cy="237.4" rx="2.0" ry="3.0"/>
<ellipse cx="1125.5" cy="243.6" rx="2.0" ry="3.0"/>
<ellipse cx="1118.2" cy="241.1" rx="2.0" ry="3.0"/>
<ellipse cx="1138.5" cy="256.9" rx="2.0" ry="3.0"/>
<ellipse cx="1119.7" cy="264.7" rx="2.0" ry="3.0"/>
<ellipse cx="1124.1" cy="268.2" rx="2.0" ry="3.0"/>
<ellipse cx="1131.0" cy="268.5" rx="2.0" ry="3.0"/>
<ellipse cx="1127.6" cy="270.8" rx="2.0" ry="3.0"/>
<ellipse cx="1126.5" cy="274.4" rx="2.0" ry="3.0"/>
<ellipse cx="1129.3" cy="275.1" rx="2.0" ry="3.0"/>
<ellipse cx="1127.4" cy="276.5" rx="2.0" ry="3.0"/>
<ellipse cx="1129.0" cy="278.9" rx="2.0" ry="3.0"/>
<ellipse cx="1131.0" cy="280.6" rx="2.0" ry="3.0"/>
<ellipse cx="1131.2" cy="279.3" rx="2.0" ry="3.0"/>
<ellipse cx="1136.8" cy="276.7" rx="2.0" ry="3.0"/>
<ellipse cx="1142.7" cy="288.0" rx="2.0" ry="3.0"/>
<ellipse cx="1140.3" cy="287.7" rx="2.0" ry="3.0"/>
<ellipse cx="1142.1" cy="293.0" rx="2.0" ry="3.0"/>
<ellipse cx="1141.8" cy="294.5" rx="2.0" ry="3.0"/>
<ellipse cx="1143.1" cy="300.1" rx="2.0" ry="3.0"/>
<ellipse cx="1148.5" cy="299.8" rx="2.0" ry="3.0"/>
<ellipse cx="1148.3" cy="300.2" rx="2.0" ry="3.0"/>
<ellipse cx="1150.6" cy="303.7" rx="2.0" ry="3.0"/>
<ellipse cx="1148.0" cy="305.1" rx="2.0" ry="3.0"/>
</g>
</g>
<rect x="947.3" y="14.7" width="245.5" height="342.0" fill="none" stroke="#4a4a4a" stroke-width="1.15"/>
<g stroke="#2a2a2a" stroke-width="0.9">
<line x1="980.4" y1="356.7" x2="980.4" y2="359.3"/>
<line x1="1015.7" y1="356.7" x2="1015.7" y2="359.3"/>
<line x1="1051.0" y1="356.7" x2="1051.0" y2="359.3"/>
<line x1="1086.4" y1="356.7" x2="1086.4" y2="359.3"/>
<line x1="1121.7" y1="356.7" x2="1121.7" y2="359.3"/>
<line x1="1157.0" y1="356.7" x2="1157.0" y2="359.3"/>
<line x1="1192.4" y1="356.7" x2="1192.4" y2="359.3"/>
<line x1="944.6999999999999" y1="326.0" x2="947.3" y2="326.0"/>
<line x1="944.6999999999999" y1="280.0" x2="947.3" y2="280.0"/>
<line x1="944.6999999999999" y1="234.0" x2="947.3" y2="234.0"/>
<line x1="944.6999999999999" y1="188.0" x2="947.3" y2="188.0"/>
<line x1="944.6999999999999" y1="142.0" x2="947.3" y2="142.0"/>
<line x1="944.6999999999999" y1="96.0" x2="947.3" y2="96.0"/>
<line x1="944.6999999999999" y1="50.0" x2="947.3" y2="50.0"/>
</g>
<text x="980.4" y="370.2" font-size="10.8" textLength="15.1" lengthAdjust="spacingAndGlyphs" text-anchor="middle" fill="#262626" stroke="#262626" stroke-width="0.25">−500</text>
<text x="1015.7" y="370.2" font-size="10.8" textLength="3.5" lengthAdjust="spacingAndGlyphs" text-anchor="middle" fill="#262626" stroke="#262626" stroke-width="0.25">0</text>
<text x="1051.0" y="370.2" font-size="10.8" textLength="10.5" lengthAdjust="spacingAndGlyphs" text-anchor="middle" fill="#262626" stroke="#262626" stroke-width="0.25">500</text>
<text x="1086.4" y="370.2" font-size="10.8" textLength="14.0" lengthAdjust="spacingAndGlyphs" text-anchor="middle" fill="#262626" stroke="#262626" stroke-width="0.25">1000</text>
<text x="1121.7" y="370.2" font-size="10.8" textLength="14.0" lengthAdjust="spacingAndGlyphs" text-anchor="middle" fill="#262626" stroke="#262626" stroke-width="0.25">1500</text>
<text x="1157.0" y="370.2" font-size="10.8" textLength="14.0" lengthAdjust="spacingAndGlyphs" text-anchor="middle" fill="#262626" stroke="#262626" stroke-width="0.25">2000</text>
<text x="1192.4" y="370.2" font-size="10.8" textLength="14.0" lengthAdjust="spacingAndGlyphs" text-anchor="middle" fill="#262626" stroke="#262626" stroke-width="0.25">2500</text>
<text x="942.1" y="329.6" font-size="10.8" textLength="18.6" lengthAdjust="spacingAndGlyphs" text-anchor="end" fill="#262626" stroke="#262626" stroke-width="0.25">−2000</text>
<text x="942.1" y="283.6" font-size="10.8" textLength="18.6" lengthAdjust="spacingAndGlyphs" text-anchor="end" fill="#262626" stroke="#262626" stroke-width="0.25">−1500</text>
<text x="942.1" y="237.6" font-size="10.8" textLength="18.6" lengthAdjust="spacingAndGlyphs" text-anchor="end" fill="#262626" stroke="#262626" stroke-width="0.25">−1000</text>
<text x="942.1" y="191.6" font-size="10.8" textLength="15.1" lengthAdjust="spacingAndGlyphs" text-anchor="end" fill="#262626" stroke="#262626" stroke-width="0.25">−500</text>
<text x="942.1" y="145.6" font-size="10.8" textLength="3.5" lengthAdjust="spacingAndGlyphs" text-anchor="end" fill="#262626" stroke="#262626" stroke-width="0.25">0</text>
<text x="942.1" y="99.6" font-size="10.8" textLength="10.5" lengthAdjust="spacingAndGlyphs" text-anchor="end" fill="#262626" stroke="#262626" stroke-width="0.25">500</text>
<text x="942.1" y="53.6" font-size="10.8" textLength="14.0" lengthAdjust="spacingAndGlyphs" text-anchor="end" fill="#262626" stroke="#262626" stroke-width="0.25">1000</text>
<text x="1046.2" y="8.6" font-size="12.6" textLength="47.5" lengthAdjust="spacingAndGlyphs" fill="#262626" stroke="#262626" stroke-width="0.25">Residuals Plot</text>
<text x="1039.7" y="383.6" font-size="11.0" textLength="60.3" lengthAdjust="spacingAndGlyphs" fill="#262626" stroke="#262626" stroke-width="0.25">Predicted ETH Values</text>
<text x="0" y="0" font-size="11.0" textLength="42.9" lengthAdjust="spacingAndGlyphs" transform="translate(920.6 207.6) scale(0.68 1) rotate(-90)" fill="#262626" stroke="#262626" stroke-width="0.25">Residuals</text>
</g>
<g filter="url(#bb)">
<g stroke="#c4c4c4" stroke-width="1.3">
<line x1="198.9" y1="413.3" x2="198.9" y2="756.3"/>
<line x1="261.3" y1="413.3" x2="261.3" y2="756.3"/>
<line x1="323.7" y1="413.3" x2="323.7" y2="756.3"/>
<line x1="386.1" y1="413.3" x2="386.1" y2="756.3"/>
<line x1="448.5" y1="413.3" x2="448.5" y2="756.3"/>
<line x1="510.9" y1="413.3" x2="510.9" y2="756.3"/>
<line x1="573.3" y1="413.3" x2="573.3" y2="756.3"/>
</g>
<g stroke="#c0c0c0" stroke-width="1.3">
<line x1="174.0" y1="705.3" x2="580.3" y2="705.3"/>
<line x1="174.0" y1="638.1" x2="580.3" y2="638.1"/>
<line x1="174.0" y1="571.0" x2="580.3" y2="571.0"/>
<line x1="174.0" y1="503.8" x2="580.3" y2="503.8"/>
<line x1="174.0" y1="436.7" x2="580.3" y2="436.7"/>
</g>
<g clip-path="url(#c5)">
<g fill="#0000ff" fill-opacity="0.68" stroke="#0000ff" stroke-opacity="0.68" stroke-width="0.7">
<circle cx="260.0" cy="428.4" r="3.0"/>
<circle cx="257.8" cy="434.0" r="3.0"/>
<circle cx="251.3" cy="456.2" r="3.0"/>
<circle cx="252.7" cy="459.6" r="3.0"/>
<circle cx="255.8" cy="465.5" r="3.0"/>
<circle cx="261.2" cy="467.7" r="3.0"/>
<circle cx="267.8" cy="471.6" r="3.0"/>
<circle cx="210.4" cy="477.1" r="3.0"/>
<circle cx="205.1" cy="491.4" r="3.0"/>
<circle cx="220.2" cy="491.4" r="3.0"/>
<circle cx="253.9" cy="488.1" r="3.0"/>
<circle cx="263.7" cy="483.8" r="3.0"/>
<circle cx="264.4" cy="487.8" r="3.0"/>
<circle cx="274.4" cy="487.3" r="3.0"/>
<circle cx="260.0" cy="494.4" r="3.0"/>
<circle cx="192.8" cy="502.1" r="3.0"/>
<circle cx="209.6" cy="502.7" r="3.0"/>
<circle cx="214.6" cy="500.2" r="3.0"/>
<circle cx="237.3" cy="504.2" r="3.0"/>
<circle cx="247.3" cy="500.7" r="3.0"/>
<circle cx="255.4" cy="500.2" r="3.0"/>
<circle cx="259.5" cy="500.7" r="3.0"/>
<circle cx="266.6" cy="503.6" r="3.0"/>
<circle cx="270.5" cy="504.3" r="3.0"/>
<circle cx="198.5" cy="509.5" r="3.0"/>
<circle cx="256.1" cy="509.5" r="3.0"/>
<circle cx="208.4" cy="520.3" r="3.0"/>
<circle cx="216.8" cy="516.8" r="3.0"/>
<circle cx="220.9" cy="518.5" r="3.0"/>
<circle cx="236.7" cy="517.5" r="3.0"/>
<circle cx="254.3" cy="517.5" r="3.0"/>
<circle cx="250.5" cy="521.8" r="3.0"/>
<circle cx="271.9" cy="517.4" r="3.0"/>
<circle cx="217.5" cy="524.4" r="3.0"/>
<circle cx="259.0" cy="525.9" r="3.0"/>
<circle cx="300.9" cy="469.0" r="3.0"/>
<circle cx="331.0" cy="475.3" r="3.0"/>
<circle cx="331.0" cy="486.6" r="3.0"/>
<circle cx="342.4" cy="486.6" r="3.0"/>
<circle cx="280.9" cy="490.0" r="3.0"/>
<circle cx="280.2" cy="490.8" r="3.0"/>
<circle cx="289.7" cy="488.5" r="3.0"/>
<circle cx="297.0" cy="488.5" r="3.0"/>
<circle cx="301.1" cy="483.1" r="3.0"/>
<circle cx="304.0" cy="486.3" r="3.0"/>
<circle cx="307.0" cy="490.0" r="3.0"/>
<circle cx="306.3" cy="490.8" r="3.0"/>
<circle cx="306.9" cy="489.6" r="3.0"/>
<circle cx="319.3" cy="492.6" r="3.0"/>
<circle cx="323.4" cy="500.2" r="3.0"/>
<circle cx="312.8" cy="506.1" r="3.0"/>
<circle cx="278.7" cy="514.9" r="3.0"/>
<circle cx="278.7" cy="515.9" r="3.0"/>
<circle cx="288.9" cy="516.1" r="3.0"/>
<circle cx="302.9" cy="516.8" r="3.0"/>
<circle cx="289.4" cy="522.9" r="3.0"/>
<circle cx="313.4" cy="522.2" r="3.0"/>
<circle cx="316.0" cy="525.1" r="3.0"/>
<circle cx="370.3" cy="511.5" r="3.0"/>
<circle cx="373.9" cy="512.4" r="3.0"/>
<circle cx="423.5" cy="481.8" r="3.0"/>
<circle cx="406.2" cy="509.9" r="3.0"/>
<circle cx="396.2" cy="519.8" r="3.0"/>
<circle cx="431.9" cy="518.9" r="3.0"/>
<circle cx="439.7" cy="513.8" r="3.0"/>
<circle cx="432.4" cy="527.8" r="3.0"/>
<circle cx="209.2" cy="532.4" r="3.0"/>
<circle cx="219.7" cy="530.9" r="3.0"/>
<circle cx="233.8" cy="530.2" r="3.0"/>
<circle cx="204.3" cy="538.0" r="3.0"/>
<circle cx="211.7" cy="538.6" r="3.0"/>
<circle cx="217.5" cy="538.6" r="3.0"/>
<circle cx="208.0" cy="551.5" r="3.0"/>
<circle cx="209.6" cy="561.0" r="3.0"/>
<circle cx="213.1" cy="567.3" r="3.0"/>
<circle cx="216.8" cy="571.7" r="3.0"/>
<circle cx="193.8" cy="561.7" r="3.0"/>
<circle cx="192.3" cy="567.1" r="3.0"/>
<circle cx="193.8" cy="573.7" r="3.0"/>
<circle cx="239.2" cy="570.8" r="3.0"/>
<circle cx="203.3" cy="582.5" r="3.0"/>
<circle cx="216.8" cy="584.0" r="3.0"/>
<circle cx="193.8" cy="591.0" r="3.0"/>
<circle cx="201.9" cy="591.5" r="3.0"/>
<circle cx="240.7" cy="583.3" r="3.0"/>
<circle cx="239.2" cy="591.0" r="3.0"/>
<circle cx="239.2" cy="597.2" r="3.0"/>
<circle cx="248.8" cy="595.4" r="3.0"/>
<circle cx="212.4" cy="598.1" r="3.0"/>
<circle cx="217.5" cy="595.4" r="3.0"/>
<circle cx="209.6" cy="603.5" r="3.0"/>
<circle cx="209.2" cy="602.6" r="3.0"/>
<circle cx="213.9" cy="607.9" r="3.0"/>
<circle cx="198.9" cy="605.4" r="3.0"/>
<circle cx="231.2" cy="603.9" r="3.0"/>
<circle cx="233.4" cy="607.2" r="3.0"/>
<circle cx="239.2" cy="603.1" r="3.0"/>
<circle cx="239.3" cy="602.4" r="3.0"/>
<circle cx="204.5" cy="611.6" r="3.0"/>
<circle cx="199.7" cy="615.2" r="3.0"/>
<circle cx="199.0" cy="614.4" r="3.0"/>
<circle cx="198.9" cy="614.5" r="3.0"/>
<circle cx="196.7" cy="620.1" r="3.0"/>
<circle cx="209.6" cy="619.2" r="3.0"/>
<circle cx="219.7" cy="616.4" r="3.0"/>
<circle cx="236.3" cy="614.5" r="3.0"/>
<circle cx="237.3" cy="619.6" r="3.0"/>
<circle cx="248.8" cy="619.2" r="3.0"/>
<circle cx="245.8" cy="610.1" r="3.0"/>
<circle cx="245.5" cy="609.6" r="3.0"/>
<circle cx="247.3" cy="605.7" r="3.0"/>
<circle cx="251.0" cy="604.2" r="3.0"/>
<circle cx="253.9" cy="610.1" r="3.0"/>
<circle cx="256.1" cy="616.0" r="3.0"/>
<circle cx="212.8" cy="629.9" r="3.0"/>
<circle cx="224.6" cy="628.4" r="3.0"/>
<circle cx="225.0" cy="627.9" r="3.0"/>
<circle cx="243.6" cy="631.5" r="3.0"/>
<circle cx="193.8" cy="639.4" r="3.0"/>
<circle cx="212.8" cy="640.9" r="3.0"/>
<circle cx="212.8" cy="640.1" r="3.0"/>
<circle cx="247.3" cy="638.7" r="3.0"/>
<circle cx="252.4" cy="640.1" r="3.0"/>
<circle cx="254.6" cy="625.5" r="3.0"/>
<circle cx="257.6" cy="630.6" r="3.0"/>
<circle cx="257.3" cy="629.5" r="3.0"/>
<circle cx="260.5" cy="630.6" r="3.0"/>
<circle cx="266.1" cy="620.6" r="3.0"/>
<circle cx="270.0" cy="628.1" r="3.0"/>
<circle cx="272.9" cy="617.4" r="3.0"/>
<circle cx="272.5" cy="616.3" r="3.0"/>
<circle cx="273.7" cy="633.5" r="3.0"/>
<circle cx="256.1" cy="542.7" r="3.0"/>
<circle cx="256.5" cy="542.8" r="3.0"/>
<circle cx="258.3" cy="541.2" r="3.0"/>
<circle cx="253.9" cy="545.6" r="3.0"/>
<circle cx="251.7" cy="550.7" r="3.0"/>
<circle cx="256.1" cy="550.0" r="3.0"/>
<circle cx="255.6" cy="549.9" r="3.0"/>
<circle cx="259.0" cy="551.5" r="3.0"/>
<circle cx="262.0" cy="553.7" r="3.0"/>
<circle cx="250.2" cy="557.3" r="3.0"/>
<circle cx="253.2" cy="555.9" r="3.0"/>
<circle cx="258.3" cy="555.9" r="3.0"/>
<circle cx="262.0" cy="561.7" r="3.0"/>
<circle cx="252.4" cy="562.4" r="3.0"/>
<circle cx="257.6" cy="558.8" r="3.0"/>
<circle cx="249.5" cy="569.0" r="3.0"/>
<circle cx="257.6" cy="568.3" r="3.0"/>
<circle cx="258.3" cy="567.4" r="3.0"/>
<circle cx="264.9" cy="569.8" r="3.0"/>
<circle cx="253.9" cy="573.4" r="3.0"/>
<circle cx="254.4" cy="573.3" r="3.0"/>
<circle cx="253.9" cy="574.2" r="3.0"/>
<circle cx="257.6" cy="574.9" r="3.0"/>
<circle cx="257.4" cy="574.9" r="3.0"/>
<circle cx="254.6" cy="581.5" r="3.0"/>
<circle cx="254.9" cy="582.7" r="3.0"/>
<circle cx="258.3" cy="582.2" r="3.0"/>
<circle cx="262.0" cy="578.6" r="3.0"/>
<circle cx="263.4" cy="580.8" r="3.0"/>
<circle cx="267.1" cy="580.0" r="3.0"/>
<circle cx="255.4" cy="586.6" r="3.0"/>
<circle cx="260.5" cy="585.9" r="3.0"/>
<circle cx="264.9" cy="586.6" r="3.0"/>
<circle cx="269.3" cy="587.8" r="3.0"/>
<circle cx="256.1" cy="591.3" r="3.0"/>
<circle cx="259.8" cy="591.0" r="3.0"/>
<circle cx="263.4" cy="592.5" r="3.0"/>
<circle cx="263.2" cy="593.3" r="3.0"/>
<circle cx="266.4" cy="595.4" r="3.0"/>
<circle cx="261.2" cy="598.4" r="3.0"/>
<circle cx="259.0" cy="599.8" r="3.0"/>
<circle cx="264.9" cy="599.8" r="3.0"/>
<circle cx="266.4" cy="604.5" r="3.0"/>
<circle cx="259.0" cy="607.2" r="3.0"/>
<circle cx="259.4" cy="607.5" r="3.0"/>
<circle cx="262.7" cy="613.0" r="3.0"/>
<circle cx="256.1" cy="612.3" r="3.0"/>
<circle cx="264.2" cy="536.1" r="3.0"/>
<circle cx="268.6" cy="544.9" r="3.0"/>
<circle cx="268.4" cy="544.5" r="3.0"/>
<circle cx="263.4" cy="544.9" r="3.0"/>
<circle cx="274.4" cy="551.5" r="3.0"/>
<circle cx="277.2" cy="529.8" r="3.0"/>
<circle cx="289.7" cy="529.2" r="3.0"/>
<circle cx="295.5" cy="529.8" r="3.0"/>
<circle cx="299.2" cy="532.1" r="3.0"/>
<circle cx="305.1" cy="532.4" r="3.0"/>
<circle cx="312.8" cy="532.4" r="3.0"/>
<circle cx="288.2" cy="533.6" r="3.0"/>
<circle cx="283.1" cy="536.5" r="3.0"/>
<circle cx="285.6" cy="539.4" r="3.0"/>
<circle cx="281.6" cy="548.2" r="3.0"/>
<circle cx="277.2" cy="551.5" r="3.0"/>
<circle cx="293.3" cy="550.0" r="3.0"/>
<circle cx="320.0" cy="548.5" r="3.0"/>
<circle cx="278.7" cy="560.5" r="3.0"/>
<circle cx="283.1" cy="563.2" r="3.0"/>
<circle cx="282.3" cy="562.3" r="3.0"/>
<circle cx="287.5" cy="568.3" r="3.0"/>
<circle cx="300.7" cy="566.4" r="3.0"/>
<circle cx="302.1" cy="559.5" r="3.0"/>
<circle cx="304.3" cy="558.5" r="3.0"/>
<circle cx="311.4" cy="560.0" r="3.0"/>
<circle cx="319.3" cy="566.8" r="3.0"/>
<circle cx="336.6" cy="559.5" r="3.0"/>
<circle cx="338.8" cy="566.8" r="3.0"/>
<circle cx="346.4" cy="565.7" r="3.0"/>
<circle cx="308.7" cy="570.8" r="3.0"/>
<circle cx="312.8" cy="572.7" r="3.0"/>
<circle cx="312.1" cy="573.3" r="3.0"/>
<circle cx="314.6" cy="570.5" r="3.0"/>
<circle cx="279.7" cy="575.6" r="3.0"/>
<circle cx="297.7" cy="575.6" r="3.0"/>
<circle cx="297.3" cy="574.8" r="3.0"/>
<circle cx="306.1" cy="577.1" r="3.0"/>
<circle cx="330.4" cy="575.6" r="3.0"/>
<circle cx="336.6" cy="573.4" r="3.0"/>
<circle cx="325.6" cy="581.9" r="3.0"/>
<circle cx="283.1" cy="583.4" r="3.0"/>
<circle cx="295.5" cy="581.9" r="3.0"/>
<circle cx="297.0" cy="586.6" r="3.0"/>
<circle cx="296.3" cy="587.5" r="3.0"/>
<circle cx="294.8" cy="588.8" r="3.0"/>
<circle cx="300.7" cy="590.3" r="3.0"/>
<circle cx="308.0" cy="587.4" r="3.0"/>
<circle cx="314.6" cy="583.7" r="3.0"/>
<circle cx="312.4" cy="591.0" r="3.0"/>
<circle cx="313.0" cy="591.4" r="3.0"/>
<circle cx="319.0" cy="588.8" r="3.0"/>
<circle cx="341.7" cy="591.3" r="3.0"/>
<circle cx="350.1" cy="584.7" r="3.0"/>
<circle cx="319.0" cy="596.9" r="3.0"/>
<circle cx="318.6" cy="596.3" r="3.0"/>
<circle cx="318.6" cy="596.8" r="3.0"/>
<circle cx="322.6" cy="598.4" r="3.0"/>
<circle cx="317.5" cy="602.0" r="3.0"/>
<circle cx="317.0" cy="601.9" r="3.0"/>
<circle cx="286.7" cy="598.1" r="3.0"/>
<circle cx="288.9" cy="602.0" r="3.0"/>
<circle cx="288.5" cy="603.1" r="3.0"/>
<circle cx="283.8" cy="603.5" r="3.0"/>
<circle cx="293.3" cy="596.9" r="3.0"/>
<circle cx="299.6" cy="601.6" r="3.0"/>
<circle cx="310.2" cy="601.6" r="3.0"/>
<circle cx="279.1" cy="607.9" r="3.0"/>
<circle cx="286.7" cy="610.4" r="3.0"/>
<circle cx="294.1" cy="610.1" r="3.0"/>
<circle cx="297.7" cy="610.1" r="3.0"/>
<circle cx="302.9" cy="611.6" r="3.0"/>
<circle cx="306.5" cy="607.9" r="3.0"/>
<circle cx="314.6" cy="607.9" r="3.0"/>
<circle cx="319.0" cy="609.4" r="3.0"/>
<circle cx="325.6" cy="607.9" r="3.0"/>
<circle cx="330.4" cy="611.8" r="3.0"/>
<circle cx="331.2" cy="612.0" r="3.0"/>
<circle cx="338.3" cy="611.8" r="3.0"/>
<circle cx="363.0" cy="605.0" r="3.0"/>
<circle cx="375.4" cy="614.5" r="3.0"/>
<circle cx="351.2" cy="613.8" r="3.0"/>
<circle cx="354.9" cy="616.7" r="3.0"/>
<circle cx="275.7" cy="617.4" r="3.0"/>
<circle cx="288.9" cy="618.9" r="3.0"/>
<circle cx="288.5" cy="620.0" r="3.0"/>
<circle cx="291.9" cy="622.6" r="3.0"/>
<circle cx="295.5" cy="617.4" r="3.0"/>
<circle cx="298.5" cy="616.7" r="3.0"/>
<circle cx="308.7" cy="616.7" r="3.0"/>
<circle cx="308.4" cy="616.3" r="3.0"/>
<circle cx="320.4" cy="616.0" r="3.0"/>
<circle cx="310.9" cy="624.0" r="3.0"/>
<circle cx="324.1" cy="624.5" r="3.0"/>
<circle cx="334.8" cy="620.4" r="3.0"/>
<circle cx="345.4" cy="625.9" r="3.0"/>
<circle cx="299.9" cy="630.6" r="3.0"/>
<circle cx="299.1" cy="630.3" r="3.0"/>
<circle cx="302.1" cy="632.4" r="3.0"/>
<circle cx="314.9" cy="633.3" r="3.0"/>
<circle cx="338.0" cy="633.5" r="3.0"/>
<circle cx="314.6" cy="638.7" r="3.0"/>
<circle cx="278.7" cy="638.7" r="3.0"/>
<circle cx="354.9" cy="641.2" r="3.0"/>
<circle cx="275.7" cy="632.8" r="3.0"/>
<circle cx="417.3" cy="546.5" r="3.0"/>
<circle cx="410.7" cy="559.1" r="3.0"/>
<circle cx="393.9" cy="565.6" r="3.0"/>
<circle cx="394.4" cy="577.2" r="3.0"/>
<circle cx="416.1" cy="579.2" r="3.0"/>
<circle cx="379.4" cy="591.5" r="3.0"/>
<circle cx="397.7" cy="600.1" r="3.0"/>
<circle cx="408.8" cy="604.4" r="3.0"/>
<circle cx="416.7" cy="598.6" r="3.0"/>
<circle cx="421.8" cy="594.6" r="3.0"/>
<circle cx="381.1" cy="607.8" r="3.0"/>
<circle cx="429.3" cy="609.1" r="3.0"/>
<circle cx="430.7" cy="613.9" r="3.0"/>
<circle cx="435.8" cy="627.9" r="3.0"/>
<circle cx="431.0" cy="632.2" r="3.0"/>
<circle cx="423.5" cy="638.7" r="3.0"/>
<circle cx="381.1" cy="632.5" r="3.0"/>
<circle cx="378.6" cy="634.3" r="3.0"/>
<circle cx="464.3" cy="585.6" r="3.0"/>
<circle cx="496.4" cy="577.2" r="3.0"/>
<circle cx="523.8" cy="568.5" r="3.0"/>
<circle cx="528.4" cy="540.0" r="3.0"/>
<circle cx="561.9" cy="626.7" r="3.0"/>
<circle cx="501.2" cy="641.6" r="3.0"/>
<circle cx="208.4" cy="645.9" r="3.0"/>
<circle cx="213.6" cy="644.5" r="3.0"/>
<circle cx="216.5" cy="646.2" r="3.0"/>
<circle cx="206.2" cy="651.8" r="3.0"/>
<circle cx="248.8" cy="657.7" r="3.0"/>
<circle cx="262.0" cy="654.0" r="3.0"/>
<circle cx="261.9" cy="654.0" r="3.0"/>
<circle cx="264.2" cy="656.9" r="3.0"/>
<circle cx="270.0" cy="658.4" r="3.0"/>
<circle cx="260.5" cy="661.3" r="3.0"/>
<circle cx="256.1" cy="666.5" r="3.0"/>
<circle cx="255.6" cy="666.5" r="3.0"/>
<circle cx="253.9" cy="670.1" r="3.0"/>
<circle cx="258.3" cy="665.7" r="3.0"/>
<circle cx="251.0" cy="673.8" r="3.0"/>
<circle cx="251.7" cy="678.2" r="3.0"/>
<circle cx="250.9" cy="677.6" r="3.0"/>
<circle cx="255.4" cy="681.1" r="3.0"/>
<circle cx="254.7" cy="680.9" r="3.0"/>
<circle cx="259.0" cy="676.7" r="3.0"/>
<circle cx="264.2" cy="671.6" r="3.0"/>
<circle cx="264.9" cy="681.8" r="3.0"/>
<circle cx="262.0" cy="687.0" r="3.0"/>
<circle cx="266.4" cy="686.2" r="3.0"/>
<circle cx="265.6" cy="685.1" r="3.0"/>
<circle cx="271.5" cy="682.6" r="3.0"/>
<circle cx="274.4" cy="668.7" r="3.0"/>
<circle cx="258.3" cy="691.4" r="3.0"/>
<circle cx="255.4" cy="689.9" r="3.0"/>
<circle cx="251.0" cy="687.0" r="3.0"/>
<circle cx="263.4" cy="691.4" r="3.0"/>
<circle cx="208.4" cy="676.0" r="3.0"/>
<circle cx="215.8" cy="674.1" r="3.0"/>
<circle cx="218.0" cy="679.6" r="3.0"/>
<circle cx="223.1" cy="681.4" r="3.0"/>
<circle cx="209.9" cy="683.3" r="3.0"/>
<circle cx="214.3" cy="683.3" r="3.0"/>
<circle cx="234.1" cy="677.0" r="3.0"/>
<circle cx="192.6" cy="680.8" r="3.0"/>
<circle cx="201.1" cy="684.8" r="3.0"/>
<circle cx="200.8" cy="684.1" r="3.0"/>
<circle cx="199.7" cy="688.4" r="3.0"/>
<circle cx="202.6" cy="692.1" r="3.0"/>
<circle cx="202.7" cy="692.2" r="3.0"/>
<circle cx="206.2" cy="693.6" r="3.0"/>
<circle cx="206.7" cy="694.0" r="3.0"/>
<circle cx="212.1" cy="697.2" r="3.0"/>
<circle cx="217.2" cy="696.1" r="3.0"/>
<circle cx="203.3" cy="697.2" r="3.0"/>
<circle cx="221.6" cy="702.4" r="3.0"/>
<circle cx="236.3" cy="695.0" r="3.0"/>
<circle cx="244.1" cy="696.9" r="3.0"/>
<circle cx="248.8" cy="700.9" r="3.0"/>
<circle cx="247.3" cy="705.3" r="3.0"/>
<circle cx="253.9" cy="703.1" r="3.0"/>
<circle cx="256.1" cy="706.0" r="3.0"/>
<circle cx="264.9" cy="700.2" r="3.0"/>
<circle cx="263.4" cy="703.1" r="3.0"/>
<circle cx="203.0" cy="703.8" r="3.0"/>
<circle cx="197.2" cy="708.7" r="3.0"/>
<circle cx="210.6" cy="708.2" r="3.0"/>
<circle cx="211.0" cy="709.1" r="3.0"/>
<circle cx="210.5" cy="707.8" r="3.0"/>
<circle cx="212.4" cy="711.6" r="3.0"/>
<circle cx="240.7" cy="709.3" r="3.0"/>
<circle cx="263.1" cy="709.7" r="3.0"/>
<circle cx="195.7" cy="727.0" r="3.0"/>
<circle cx="211.8" cy="736.4" r="3.0"/>
<circle cx="253.2" cy="734.6" r="3.0"/>
<circle cx="313.8" cy="654.4" r="3.0"/>
<circle cx="313.4" cy="662.1" r="3.0"/>
<circle cx="347.6" cy="654.4" r="3.0"/>
<circle cx="290.4" cy="661.3" r="3.0"/>
<circle cx="293.3" cy="665.0" r="3.0"/>
<circle cx="300.9" cy="666.2" r="3.0"/>
<circle cx="281.6" cy="674.5" r="3.0"/>
<circle cx="287.5" cy="675.0" r="3.0"/>
<circle cx="288.2" cy="674.1" r="3.0"/>
<circle cx="291.9" cy="675.2" r="3.0"/>
<circle cx="303.6" cy="674.5" r="3.0"/>
<circle cx="307.2" cy="671.6" r="3.0"/>
<circle cx="306.5" cy="676.7" r="3.0"/>
<circle cx="310.2" cy="677.4" r="3.0"/>
<circle cx="313.8" cy="674.1" r="3.0"/>
<circle cx="277.9" cy="681.8" r="3.0"/>
<circle cx="286.7" cy="681.8" r="3.0"/>
<circle cx="287.1" cy="682.2" r="3.0"/>
<circle cx="292.3" cy="682.9" r="3.0"/>
<circle cx="302.1" cy="679.6" r="3.0"/>
<circle cx="312.4" cy="684.8" r="3.0"/>
<circle cx="315.3" cy="684.0" r="3.0"/>
<circle cx="314.6" cy="684.8" r="3.0"/>
<circle cx="317.5" cy="682.3" r="3.0"/>
<circle cx="297.7" cy="688.4" r="3.0"/>
<circle cx="298.3" cy="688.7" r="3.0"/>
<circle cx="303.6" cy="688.4" r="3.0"/>
<circle cx="287.5" cy="690.6" r="3.0"/>
<circle cx="293.3" cy="690.6" r="3.0"/>
<circle cx="283.1" cy="695.0" r="3.0"/>
<circle cx="289.7" cy="695.8" r="3.0"/>
<circle cx="296.3" cy="695.0" r="3.0"/>
<circle cx="308.0" cy="695.0" r="3.0"/>
<circle cx="312.4" cy="695.0" r="3.0"/>
<circle cx="325.6" cy="691.4" r="3.0"/>
<circle cx="325.9" cy="692.1" r="3.0"/>
<circle cx="329.2" cy="689.6" r="3.0"/>
<circle cx="325.6" cy="697.2" r="3.0"/>
<circle cx="292.6" cy="699.1" r="3.0"/>
<circle cx="287.5" cy="702.4" r="3.0"/>
<circle cx="286.9" cy="702.4" r="3.0"/>
<circle cx="310.2" cy="701.6" r="3.0"/>
<circle cx="310.2" cy="702.4" r="3.0"/>
<circle cx="317.5" cy="700.5" r="3.0"/>
<circle cx="319.7" cy="701.3" r="3.0"/>
<circle cx="306.5" cy="704.6" r="3.0"/>
<circle cx="308.0" cy="709.7" r="3.0"/>
<circle cx="324.8" cy="702.4" r="3.0"/>
<circle cx="324.8" cy="707.5" r="3.0"/>
<circle cx="325.3" cy="708.3" r="3.0"/>
<circle cx="330.0" cy="709.7" r="3.0"/>
<circle cx="332.9" cy="703.5" r="3.0"/>
<circle cx="315.3" cy="714.5" r="3.0"/>
<circle cx="319.3" cy="711.9" r="3.0"/>
<circle cx="343.9" cy="702.4" r="3.0"/>
<circle cx="349.0" cy="704.6" r="3.0"/>
<circle cx="359.3" cy="704.6" r="3.0"/>
<circle cx="364.4" cy="698.0" r="3.0"/>
<circle cx="367.4" cy="697.2" r="3.0"/>
<circle cx="372.5" cy="691.4" r="3.0"/>
<circle cx="373.9" cy="709.4" r="3.0"/>
<circle cx="360.8" cy="714.4" r="3.0"/>
<circle cx="368.8" cy="718.5" r="3.0"/>
<circle cx="342.7" cy="719.2" r="3.0"/>
<circle cx="326.3" cy="724.4" r="3.0"/>
<circle cx="278.7" cy="718.9" r="3.0"/>
<circle cx="345.1" cy="680.4" r="3.0"/>
<circle cx="364.7" cy="670.9" r="3.0"/>
<circle cx="412.7" cy="664.0" r="3.0"/>
<circle cx="382.5" cy="681.4" r="3.0"/>
<circle cx="408.8" cy="711.7" r="3.0"/>
<circle cx="424.2" cy="731.8" r="3.0"/>
<circle cx="422.6" cy="740.7" r="3.0"/>
<circle cx="446.4" cy="703.6" r="3.0"/>
<circle cx="458.3" cy="706.7" r="3.0"/>
<circle cx="470.8" cy="704.5" r="3.0"/>
<circle cx="540.5" cy="687.1" r="3.0"/>
<circle cx="499.9" cy="646.4" r="3.0"/>
</g>
</g>
<rect x="174.0" y="413.3" width="406.3" height="343.0" fill="none" stroke="#7c7c7c" stroke-width="1.9"/>
<g stroke="#2a2a2a" stroke-width="0.9">
<line x1="198.9" y1="756.3" x2="198.9" y2="759.6999999999999"/>
<line x1="261.3" y1="756.3" x2="261.3" y2="759.6999999999999"/>
<line x1="323.7" y1="756.3" x2="323.7" y2="759.6999999999999"/>
<line x1="386.1" y1="756.3" x2="386.1" y2="759.6999999999999"/>
<line x1="448.5" y1="756.3" x2="448.5" y2="759.6999999999999"/>
<line x1="510.9" y1="756.3" x2="510.9" y2="759.6999999999999"/>
<line x1="573.3" y1="756.3" x2="573.3" y2="759.6999999999999"/>
<line x1="170.6" y1="705.3" x2="174.0" y2="705.3"/>
<line x1="170.6" y1="638.1" x2="174.0" y2="638.1"/>
<line x1="170.6" y1="571.0" x2="174.0" y2="571.0"/>
<line x1="170.6" y1="503.8" x2="174.0" y2="503.8"/>
<line x1="170.6" y1="436.7" x2="174.0" y2="436.7"/>
</g>
<text x="198.9" y="769.9" font-size="10.8" textLength="5.3" lengthAdjust="spacingAndGlyphs" text-anchor="middle" fill="#262626" stroke="#262626" stroke-width="0.25">5</text>
<text x="261.3" y="769.9" font-size="10.8" textLength="10.7" lengthAdjust="spacingAndGlyphs" text-anchor="middle" fill="#262626" stroke="#262626" stroke-width="0.25">10</text>
<text x="323.7" y="769.9" font-size="10.8" textLength="10.7" lengthAdjust="spacingAndGlyphs" text-anchor="middle" fill="#262626" stroke="#262626" stroke-width="0.25">15</text>
<text x="386.1" y="769.9" font-size="10.8" textLength="10.7" lengthAdjust="spacingAndGlyphs" text-anchor="middle" fill="#262626" stroke="#262626" stroke-width="0.25">20</text>
<text x="448.5" y="769.9" font-size="10.8" textLength="10.7" lengthAdjust="spacingAndGlyphs" text-anchor="middle" fill="#262626" stroke="#262626" stroke-width="0.25">25</text>
<text x="510.9" y="769.9" font-size="10.8" textLength="10.7" lengthAdjust="spacingAndGlyphs" text-anchor="middle" fill="#262626" stroke="#262626" stroke-width="0.25">30</text>
<text x="573.3" y="769.9" font-size="10.8" textLength="10.7" lengthAdjust="spacingAndGlyphs" text-anchor="middle" fill="#262626" stroke="#262626" stroke-width="0.25">35</text>
<text x="167.2" y="708.9" font-size="10.8" textLength="5.3" lengthAdjust="spacingAndGlyphs" text-anchor="end" fill="#262626" stroke="#262626" stroke-width="0.25">0</text>
<text x="167.2" y="641.8" font-size="10.8" textLength="16.0" lengthAdjust="spacingAndGlyphs" text-anchor="end" fill="#262626" stroke="#262626" stroke-width="0.25">100</text>
<text x="167.2" y="574.6" font-size="10.8" textLength="16.0" lengthAdjust="spacingAndGlyphs" text-anchor="end" fill="#262626" stroke="#262626" stroke-width="0.25">200</text>
<text x="167.2" y="507.4" font-size="10.8" textLength="16.0" lengthAdjust="spacingAndGlyphs" text-anchor="end" fill="#262626" stroke="#262626" stroke-width="0.25">300</text>
<text x="167.2" y="440.3" font-size="10.8" textLength="16.0" lengthAdjust="spacingAndGlyphs" text-anchor="end" fill="#262626" stroke="#262626" stroke-width="0.25">400</text>
<text x="314.9" y="407.3" font-size="11.8" textLength="123.4" lengthAdjust="spacingAndGlyphs" fill="#262626" stroke="#262626" stroke-width="0.25">True vs. Predicted BNB</text>
<text x="340.3" y="783.5" font-size="10.8" textLength="73.5" lengthAdjust="spacingAndGlyphs" fill="#262626" stroke="#262626" stroke-width="0.25">True BNB Values</text>
<text x="144.1" y="634.4" font-size="10.8" textLength="99.8" lengthAdjust="spacingAndGlyphs" transform="rotate(-90 144.1 634.4)" fill="#262626" stroke="#262626" stroke-width="0.25">Predicted BNB Values</text>
<rect x="468.5" y="418.1" width="106.9" height="30.6" rx="2" fill="#fff" fill-opacity="0.8" stroke="#d5d5d5" stroke-width="0.9"/>
<ellipse cx="480.8" cy="426.4" rx="3.2" ry="3.2" fill="#0000ff" fill-opacity="0.68"/>
<text x="497.5" y="429.0" font-size="10.8" textLength="73.8" lengthAdjust="spacingAndGlyphs" fill="#262626" stroke="#262626" stroke-width="0.25">Final Predictions</text>
<text x="497.5" y="443.1" font-size="10.8" textLength="40.8" lengthAdjust="spacingAndGlyphs" fill="#262626" stroke="#262626" stroke-width="0.25">True BNB</text>
<line x1="470.9" y1="439.9" x2="489.7" y2="439.9" stroke="#ff1414" stroke-width="1.6" stroke-dasharray="5.1,2.1"/>
<g stroke="#c4c4c4" stroke-width="1.3">
<line x1="695.3" y1="413.2" x2="695.3" y2="756.4"/>
<line x1="774.8" y1="413.2" x2="774.8" y2="756.4"/>
<line x1="854.3" y1="413.2" x2="854.3" y2="756.4"/>
<line x1="933.8" y1="413.2" x2="933.8" y2="756.4"/>
<line x1="1013.3" y1="413.2" x2="1013.3" y2="756.4"/>
</g>
<g stroke="#c0c0c0" stroke-width="1.3">
<line x1="634.4" y1="739.3" x2="1040.6" y2="739.3"/>
<line x1="634.4" y1="673.9" x2="1040.6" y2="673.9"/>
<line x1="634.4" y1="608.6" x2="1040.6" y2="608.6"/>
<line x1="634.4" y1="543.2" x2="1040.6" y2="543.2"/>
<line x1="634.4" y1="477.8" x2="1040.6" y2="477.8"/>
</g>
<g clip-path="url(#c6)">
<g fill="#008000" fill-opacity="0.68" stroke="#008000" stroke-opacity="0.68" stroke-width="0.7">
<circle cx="653.0" cy="428.6" r="3.0"/>
<circle cx="663.0" cy="436.4" r="3.0"/>
<circle cx="657.6" cy="443.3" r="3.0"/>
<circle cx="657.7" cy="444.3" r="3.0"/>
<circle cx="659.1" cy="443.3" r="3.0"/>
<circle cx="672.2" cy="448.7" r="3.0"/>
<circle cx="669.6" cy="453.6" r="3.0"/>
<circle cx="679.1" cy="453.1" r="3.0"/>
<circle cx="679.3" cy="453.6" r="3.0"/>
<circle cx="678.3" cy="457.4" r="3.0"/>
<circle cx="682.9" cy="458.2" r="3.0"/>
<circle cx="685.9" cy="457.4" r="3.0"/>
<circle cx="688.2" cy="457.4" r="3.0"/>
<circle cx="692.1" cy="458.9" r="3.0"/>
<circle cx="696.7" cy="462.0" r="3.0"/>
<circle cx="685.9" cy="467.4" r="3.0"/>
<circle cx="689.0" cy="465.1" r="3.0"/>
<circle cx="688.6" cy="463.9" r="3.0"/>
<circle cx="688.4" cy="464.7" r="3.0"/>
<circle cx="692.1" cy="463.5" r="3.0"/>
<circle cx="691.4" cy="464.3" r="3.0"/>
<circle cx="693.6" cy="468.1" r="3.0"/>
<circle cx="693.7" cy="468.4" r="3.0"/>
<circle cx="693.8" cy="468.6" r="3.0"/>
<circle cx="690.5" cy="470.4" r="3.0"/>
<circle cx="690.5" cy="469.2" r="3.0"/>
<circle cx="695.1" cy="471.2" r="3.0"/>
<circle cx="695.6" cy="471.8" r="3.0"/>
<circle cx="698.2" cy="469.7" r="3.0"/>
<circle cx="698.2" cy="469.7" r="3.0"/>
<circle cx="699.7" cy="472.7" r="3.0"/>
<circle cx="700.0" cy="471.7" r="3.0"/>
<circle cx="704.3" cy="472.7" r="3.0"/>
<circle cx="702.8" cy="477.3" r="3.0"/>
<circle cx="703.2" cy="476.7" r="3.0"/>
<circle cx="705.8" cy="478.8" r="3.0"/>
<circle cx="705.2" cy="478.3" r="3.0"/>
<circle cx="709.7" cy="478.8" r="3.0"/>
<circle cx="710.0" cy="478.1" r="3.0"/>
<circle cx="702.8" cy="481.1" r="3.0"/>
<circle cx="707.4" cy="483.4" r="3.0"/>
<circle cx="707.8" cy="484.6" r="3.0"/>
<circle cx="712.0" cy="482.7" r="3.0"/>
<circle cx="712.0" cy="482.4" r="3.0"/>
<circle cx="714.3" cy="485.0" r="3.0"/>
<circle cx="714.2" cy="485.4" r="3.0"/>
<circle cx="716.6" cy="488.0" r="3.0"/>
<circle cx="717.0" cy="488.3" r="3.0"/>
<circle cx="719.6" cy="490.3" r="3.0"/>
<circle cx="719.9" cy="489.3" r="3.0"/>
<circle cx="722.7" cy="488.0" r="3.0"/>
<circle cx="722.7" cy="492.6" r="3.0"/>
<circle cx="722.1" cy="492.0" r="3.0"/>
<circle cx="725.8" cy="494.2" r="3.0"/>
<circle cx="726.1" cy="493.7" r="3.0"/>
<circle cx="728.8" cy="496.5" r="3.0"/>
<circle cx="731.9" cy="498.8" r="3.0"/>
<circle cx="732.0" cy="497.6" r="3.0"/>
<circle cx="734.9" cy="499.5" r="3.0"/>
<circle cx="728.8" cy="501.8" r="3.0"/>
<circle cx="733.4" cy="503.4" r="3.0"/>
<circle cx="736.5" cy="506.4" r="3.0"/>
<circle cx="735.8" cy="505.9" r="3.0"/>
<circle cx="738.8" cy="509.5" r="3.0"/>
<circle cx="716.1" cy="474.3" r="3.0"/>
<circle cx="715.0" cy="491.9" r="3.0"/>
<circle cx="743.4" cy="502.6" r="3.0"/>
<circle cx="740.8" cy="506.8" r="3.0"/>
<circle cx="741.0" cy="507.3" r="3.0"/>
<circle cx="743.1" cy="509.1" r="3.0"/>
<circle cx="743.3" cy="508.6" r="3.0"/>
<circle cx="746.9" cy="511.4" r="3.0"/>
<circle cx="748.4" cy="514.5" r="3.0"/>
<circle cx="748.4" cy="514.4" r="3.0"/>
<circle cx="751.5" cy="516.8" r="3.0"/>
<circle cx="751.4" cy="515.9" r="3.0"/>
<circle cx="755.3" cy="516.0" r="3.0"/>
<circle cx="754.5" cy="519.9" r="3.0"/>
<circle cx="755.2" cy="519.1" r="3.0"/>
<circle cx="756.8" cy="521.4" r="3.0"/>
<circle cx="758.4" cy="526.4" r="3.0"/>
<circle cx="764.2" cy="515.3" r="3.0"/>
<circle cx="769.1" cy="519.4" r="3.0"/>
<circle cx="763.7" cy="531.0" r="3.0"/>
<circle cx="768.3" cy="527.5" r="3.0"/>
<circle cx="769.9" cy="526.8" r="3.0"/>
<circle cx="773.7" cy="526.8" r="3.0"/>
<circle cx="769.1" cy="534.4" r="3.0"/>
<circle cx="769.9" cy="535.5" r="3.0"/>
<circle cx="772.2" cy="539.0" r="3.0"/>
<circle cx="771.4" cy="535.9" r="3.0"/>
<circle cx="777.5" cy="532.9" r="3.0"/>
<circle cx="776.7" cy="532.8" r="3.0"/>
<circle cx="780.6" cy="532.1" r="3.0"/>
<circle cx="778.3" cy="536.7" r="3.0"/>
<circle cx="781.3" cy="539.8" r="3.0"/>
<circle cx="781.9" cy="540.9" r="3.0"/>
<circle cx="785.9" cy="536.7" r="3.0"/>
<circle cx="788.2" cy="531.7" r="3.0"/>
<circle cx="782.1" cy="544.4" r="3.0"/>
<circle cx="782.0" cy="543.8" r="3.0"/>
<circle cx="785.9" cy="545.9" r="3.0"/>
<circle cx="785.5" cy="547.0" r="3.0"/>
<circle cx="789.0" cy="543.6" r="3.0"/>
<circle cx="789.0" cy="548.2" r="3.0"/>
<circle cx="792.8" cy="549.0" r="3.0"/>
<circle cx="795.1" cy="550.5" r="3.0"/>
<circle cx="794.7" cy="550.7" r="3.0"/>
<circle cx="798.2" cy="552.8" r="3.0"/>
<circle cx="797.6" cy="552.8" r="3.0"/>
<circle cx="798.9" cy="551.9" r="3.0"/>
<circle cx="802.8" cy="550.5" r="3.0"/>
<circle cx="808.9" cy="555.1" r="3.0"/>
<circle cx="795.1" cy="557.4" r="3.0"/>
<circle cx="795.6" cy="557.4" r="3.0"/>
<circle cx="799.7" cy="557.4" r="3.0"/>
<circle cx="800.3" cy="557.9" r="3.0"/>
<circle cx="799.3" cy="558.3" r="3.0"/>
<circle cx="803.6" cy="559.7" r="3.0"/>
<circle cx="803.5" cy="558.5" r="3.0"/>
<circle cx="807.4" cy="560.4" r="3.0"/>
<circle cx="806.6" cy="560.4" r="3.0"/>
<circle cx="812.0" cy="562.0" r="3.0"/>
<circle cx="811.9" cy="561.5" r="3.0"/>
<circle cx="815.0" cy="561.2" r="3.0"/>
<circle cx="809.7" cy="565.0" r="3.0"/>
<circle cx="809.1" cy="564.7" r="3.0"/>
<circle cx="813.5" cy="568.1" r="3.0"/>
<circle cx="813.2" cy="568.9" r="3.0"/>
<circle cx="816.6" cy="566.6" r="3.0"/>
<circle cx="815.8" cy="567.2" r="3.0"/>
<circle cx="819.6" cy="566.6" r="3.0"/>
<circle cx="821.2" cy="569.6" r="3.0"/>
<circle cx="821.7" cy="568.7" r="3.0"/>
<circle cx="825.0" cy="569.6" r="3.0"/>
<circle cx="819.6" cy="572.7" r="3.0"/>
<circle cx="824.2" cy="575.8" r="3.0"/>
<circle cx="824.9" cy="576.3" r="3.0"/>
<circle cx="827.3" cy="574.2" r="3.0"/>
<circle cx="830.4" cy="578.8" r="3.0"/>
<circle cx="831.0" cy="578.3" r="3.0"/>
<circle cx="833.4" cy="581.9" r="3.0"/>
<circle cx="833.2" cy="581.6" r="3.0"/>
<circle cx="836.5" cy="575.8" r="3.0"/>
<circle cx="836.5" cy="584.9" r="3.0"/>
<circle cx="837.3" cy="585.2" r="3.0"/>
<circle cx="838.0" cy="589.5" r="3.0"/>
<circle cx="837.8" cy="589.4" r="3.0"/>
<circle cx="838.8" cy="594.1" r="3.0"/>
<circle cx="846.1" cy="582.9" r="3.0"/>
<circle cx="841.5" cy="586.3" r="3.0"/>
<circle cx="841.2" cy="585.2" r="3.0"/>
<circle cx="843.8" cy="590.1" r="3.0"/>
<circle cx="843.2" cy="590.9" r="3.0"/>
<circle cx="846.9" cy="592.4" r="3.0"/>
<circle cx="846.5" cy="593.4" r="3.0"/>
<circle cx="849.2" cy="595.4" r="3.0"/>
<circle cx="848.8" cy="594.9" r="3.0"/>
<circle cx="850.7" cy="598.5" r="3.0"/>
<circle cx="848.4" cy="602.3" r="3.0"/>
<circle cx="856.5" cy="590.1" r="3.0"/>
<circle cx="853.8" cy="600.8" r="3.0"/>
<circle cx="853.8" cy="600.1" r="3.0"/>
<circle cx="856.8" cy="603.9" r="3.0"/>
<circle cx="856.6" cy="605.0" r="3.0"/>
<circle cx="859.9" cy="600.0" r="3.0"/>
<circle cx="858.4" cy="608.5" r="3.0"/>
<circle cx="861.4" cy="606.9" r="3.0"/>
<circle cx="862.1" cy="607.7" r="3.0"/>
<circle cx="864.5" cy="610.8" r="3.0"/>
<circle cx="864.7" cy="611.7" r="3.0"/>
<circle cx="867.6" cy="605.4" r="3.0"/>
<circle cx="866.8" cy="613.8" r="3.0"/>
<circle cx="868.3" cy="612.3" r="3.0"/>
<circle cx="871.4" cy="616.1" r="3.0"/>
<circle cx="874.5" cy="619.2" r="3.0"/>
<circle cx="875.2" cy="619.3" r="3.0"/>
<circle cx="876.8" cy="621.5" r="3.0"/>
<circle cx="877.1" cy="620.4" r="3.0"/>
<circle cx="881.3" cy="616.1" r="3.0"/>
<circle cx="879.8" cy="623.0" r="3.0"/>
<circle cx="882.9" cy="625.3" r="3.0"/>
<circle cx="883.3" cy="625.2" r="3.0"/>
<circle cx="885.9" cy="626.8" r="3.0"/>
<circle cx="887.5" cy="629.1" r="3.0"/>
<circle cx="890.5" cy="617.6" r="3.0"/>
<circle cx="891.3" cy="635.3" r="3.0"/>
<circle cx="891.7" cy="635.6" r="3.0"/>
<circle cx="893.6" cy="633.0" r="3.0"/>
<circle cx="898.2" cy="636.0" r="3.0"/>
<circle cx="897.9" cy="634.9" r="3.0"/>
<circle cx="902.0" cy="632.2" r="3.0"/>
<circle cx="900.5" cy="641.4" r="3.0"/>
<circle cx="901.2" cy="640.5" r="3.0"/>
<circle cx="904.3" cy="641.4" r="3.0"/>
<circle cx="908.1" cy="643.7" r="3.0"/>
<circle cx="907.4" cy="649.0" r="3.0"/>
<circle cx="910.4" cy="646.7" r="3.0"/>
<circle cx="915.0" cy="642.9" r="3.0"/>
<circle cx="913.5" cy="652.1" r="3.0"/>
<circle cx="913.5" cy="651.7" r="3.0"/>
<circle cx="916.6" cy="655.2" r="3.0"/>
<circle cx="916.2" cy="655.7" r="3.0"/>
<circle cx="919.6" cy="652.9" r="3.0"/>
<circle cx="921.9" cy="648.3" r="3.0"/>
<circle cx="924.2" cy="653.6" r="3.0"/>
<circle cx="927.3" cy="653.6" r="3.0"/>
<circle cx="925.8" cy="661.3" r="3.0"/>
<circle cx="926.5" cy="665.1" r="3.0"/>
<circle cx="930.4" cy="662.1" r="3.0"/>
<circle cx="932.6" cy="668.2" r="3.0"/>
<circle cx="933.4" cy="667.6" r="3.0"/>
<circle cx="935.7" cy="672.0" r="3.0"/>
<circle cx="936.0" cy="671.5" r="3.0"/>
<circle cx="938.0" cy="668.9" r="3.0"/>
<circle cx="946.1" cy="674.0" r="3.0"/>
<circle cx="943.8" cy="676.7" r="3.0"/>
<circle cx="947.7" cy="679.0" r="3.0"/>
<circle cx="947.7" cy="678.8" r="3.0"/>
<circle cx="947.1" cy="678.2" r="3.0"/>
<circle cx="950.7" cy="680.6" r="3.0"/>
<circle cx="950.2" cy="681.5" r="3.0"/>
<circle cx="953.8" cy="680.6" r="3.0"/>
<circle cx="953.8" cy="679.9" r="3.0"/>
<circle cx="947.7" cy="682.8" r="3.0"/>
<circle cx="956.8" cy="685.9" r="3.0"/>
<circle cx="959.1" cy="679.8" r="3.0"/>
<circle cx="967.5" cy="691.3" r="3.0"/>
<circle cx="964.8" cy="695.9" r="3.0"/>
<circle cx="970.6" cy="697.4" r="3.0"/>
<circle cx="974.4" cy="698.2" r="3.0"/>
<circle cx="976.7" cy="702.0" r="3.0"/>
<circle cx="979.0" cy="705.0" r="3.0"/>
<circle cx="985.1" cy="710.7" r="3.0"/>
<circle cx="990.2" cy="714.2" r="3.0"/>
<circle cx="1016.2" cy="736.0" r="3.0"/>
<circle cx="1022.3" cy="740.5" r="3.0"/>
<circle cx="684.3" cy="457.3" r="3.0"/>
<circle cx="693.2" cy="457.5" r="3.0"/>
<circle cx="685.2" cy="466.6" r="3.0"/>
<circle cx="689.7" cy="466.4" r="3.0"/>
<circle cx="689.3" cy="463.4" r="3.0"/>
<circle cx="689.6" cy="464.2" r="3.0"/>
<circle cx="691.3" cy="464.8" r="3.0"/>
<circle cx="691.8" cy="464.9" r="3.0"/>
<circle cx="694.1" cy="469.6" r="3.0"/>
<circle cx="693.6" cy="469.5" r="3.0"/>
<circle cx="694.4" cy="469.6" r="3.0"/>
<circle cx="690.3" cy="471.1" r="3.0"/>
<circle cx="690.7" cy="468.7" r="3.0"/>
<circle cx="694.3" cy="471.6" r="3.0"/>
<circle cx="694.3" cy="473.0" r="3.0"/>
<circle cx="697.1" cy="468.2" r="3.0"/>
<circle cx="697.0" cy="471.0" r="3.0"/>
<circle cx="699.3" cy="471.6" r="3.0"/>
<circle cx="698.6" cy="470.3" r="3.0"/>
<circle cx="704.9" cy="473.1" r="3.0"/>
<circle cx="703.4" cy="478.0" r="3.0"/>
<circle cx="701.9" cy="477.0" r="3.0"/>
<circle cx="705.4" cy="479.8" r="3.0"/>
<circle cx="706.1" cy="479.5" r="3.0"/>
<circle cx="708.4" cy="480.0" r="3.0"/>
<circle cx="711.3" cy="479.5" r="3.0"/>
<circle cx="701.6" cy="480.3" r="3.0"/>
<circle cx="706.2" cy="482.0" r="3.0"/>
<circle cx="713.0" cy="483.6" r="3.0"/>
<circle cx="712.4" cy="483.4" r="3.0"/>
<circle cx="714.7" cy="484.3" r="3.0"/>
<circle cx="713.0" cy="484.2" r="3.0"/>
<circle cx="717.3" cy="487.2" r="3.0"/>
<circle cx="716.5" cy="488.1" r="3.0"/>
<circle cx="718.2" cy="489.6" r="3.0"/>
<circle cx="719.2" cy="490.0" r="3.0"/>
<circle cx="722.3" cy="487.5" r="3.0"/>
<circle cx="724.1" cy="492.6" r="3.0"/>
<circle cx="723.2" cy="492.4" r="3.0"/>
<circle cx="724.4" cy="493.9" r="3.0"/>
<circle cx="726.0" cy="494.5" r="3.0"/>
<circle cx="728.4" cy="497.1" r="3.0"/>
<circle cx="732.0" cy="497.9" r="3.0"/>
<circle cx="733.1" cy="496.4" r="3.0"/>
<circle cx="729.8" cy="500.8" r="3.0"/>
<circle cx="731.9" cy="502.5" r="3.0"/>
<circle cx="737.3" cy="507.8" r="3.0"/>
<circle cx="734.3" cy="505.8" r="3.0"/>
<circle cx="738.7" cy="510.4" r="3.0"/>
<circle cx="714.1" cy="491.9" r="3.0"/>
<circle cx="740.3" cy="507.8" r="3.0"/>
<circle cx="740.3" cy="508.6" r="3.0"/>
<circle cx="742.4" cy="508.3" r="3.0"/>
<circle cx="743.9" cy="508.6" r="3.0"/>
<circle cx="745.7" cy="511.8" r="3.0"/>
<circle cx="747.2" cy="515.4" r="3.0"/>
<circle cx="749.0" cy="515.3" r="3.0"/>
<circle cx="751.9" cy="516.4" r="3.0"/>
<circle cx="751.1" cy="515.6" r="3.0"/>
<circle cx="756.5" cy="514.8" r="3.0"/>
<circle cx="755.7" cy="518.4" r="3.0"/>
<circle cx="754.3" cy="518.4" r="3.0"/>
<circle cx="758.0" cy="521.4" r="3.0"/>
<circle cx="777.9" cy="537.9" r="3.0"/>
<circle cx="780.5" cy="539.7" r="3.0"/>
<circle cx="782.0" cy="541.7" r="3.0"/>
<circle cx="782.9" cy="544.8" r="3.0"/>
<circle cx="781.6" cy="543.3" r="3.0"/>
<circle cx="784.9" cy="546.9" r="3.0"/>
<circle cx="786.0" cy="547.7" r="3.0"/>
<circle cx="788.0" cy="548.0" r="3.0"/>
<circle cx="796.0" cy="550.7" r="3.0"/>
<circle cx="793.5" cy="550.6" r="3.0"/>
<circle cx="799.3" cy="552.0" r="3.0"/>
<circle cx="796.7" cy="552.2" r="3.0"/>
<circle cx="799.5" cy="552.9" r="3.0"/>
<circle cx="794.1" cy="556.3" r="3.0"/>
<circle cx="794.9" cy="556.9" r="3.0"/>
<circle cx="799.8" cy="556.4" r="3.0"/>
<circle cx="799.8" cy="556.9" r="3.0"/>
<circle cx="800.7" cy="559.0" r="3.0"/>
<circle cx="802.4" cy="561.1" r="3.0"/>
<circle cx="802.3" cy="558.2" r="3.0"/>
<circle cx="808.8" cy="561.3" r="3.0"/>
<circle cx="807.3" cy="560.2" r="3.0"/>
<circle cx="811.1" cy="562.4" r="3.0"/>
<circle cx="810.7" cy="560.6" r="3.0"/>
<circle cx="809.3" cy="563.6" r="3.0"/>
<circle cx="808.8" cy="565.5" r="3.0"/>
<circle cx="814.1" cy="568.1" r="3.0"/>
<circle cx="813.6" cy="568.8" r="3.0"/>
<circle cx="815.5" cy="566.9" r="3.0"/>
<circle cx="815.5" cy="567.9" r="3.0"/>
<circle cx="820.9" cy="566.4" r="3.0"/>
<circle cx="821.4" cy="570.4" r="3.0"/>
<circle cx="821.5" cy="567.9" r="3.0"/>
<circle cx="828.0" cy="575.4" r="3.0"/>
<circle cx="831.2" cy="579.4" r="3.0"/>
<circle cx="832.1" cy="578.9" r="3.0"/>
<circle cx="833.8" cy="581.7" r="3.0"/>
<circle cx="832.6" cy="582.0" r="3.0"/>
<circle cx="835.3" cy="584.7" r="3.0"/>
<circle cx="838.1" cy="585.8" r="3.0"/>
<circle cx="838.4" cy="588.8" r="3.0"/>
<circle cx="837.6" cy="589.2" r="3.0"/>
<circle cx="841.9" cy="586.0" r="3.0"/>
<circle cx="841.7" cy="586.5" r="3.0"/>
<circle cx="842.9" cy="590.5" r="3.0"/>
<circle cx="844.0" cy="590.5" r="3.0"/>
<circle cx="846.9" cy="593.8" r="3.0"/>
<circle cx="845.2" cy="593.6" r="3.0"/>
<circle cx="848.2" cy="596.3" r="3.0"/>
<circle cx="850.1" cy="594.9" r="3.0"/>
<circle cx="849.5" cy="598.7" r="3.0"/>
<circle cx="853.9" cy="601.5" r="3.0"/>
<circle cx="853.8" cy="600.5" r="3.0"/>
<circle cx="857.8" cy="603.9" r="3.0"/>
<circle cx="856.4" cy="606.3" r="3.0"/>
<circle cx="857.5" cy="609.0" r="3.0"/>
<circle cx="861.1" cy="607.7" r="3.0"/>
<circle cx="860.9" cy="609.1" r="3.0"/>
<circle cx="864.1" cy="609.4" r="3.0"/>
<circle cx="864.0" cy="611.4" r="3.0"/>
<circle cx="865.3" cy="613.6" r="3.0"/>
<circle cx="868.1" cy="612.9" r="3.0"/>
<circle cx="870.9" cy="615.4" r="3.0"/>
<circle cx="873.6" cy="619.9" r="3.0"/>
<circle cx="876.5" cy="619.4" r="3.0"/>
<circle cx="875.9" cy="622.4" r="3.0"/>
<circle cx="876.8" cy="619.5" r="3.0"/>
<circle cx="878.7" cy="623.8" r="3.0"/>
<circle cx="883.8" cy="625.7" r="3.0"/>
<circle cx="883.2" cy="625.4" r="3.0"/>
<circle cx="892.8" cy="634.4" r="3.0"/>
<circle cx="897.8" cy="636.4" r="3.0"/>
<circle cx="911.4" cy="647.7" r="3.0"/>
<circle cx="913.4" cy="651.1" r="3.0"/>
<circle cx="916.7" cy="654.0" r="3.0"/>
<circle cx="917.2" cy="655.3" r="3.0"/>
<circle cx="920.7" cy="652.2" r="3.0"/>
<circle cx="932.3" cy="667.4" r="3.0"/>
<circle cx="933.2" cy="666.7" r="3.0"/>
<circle cx="934.2" cy="672.7" r="3.0"/>
<circle cx="935.3" cy="670.8" r="3.0"/>
<circle cx="937.4" cy="668.9" r="3.0"/>
<circle cx="945.9" cy="674.4" r="3.0"/>
<circle cx="944.3" cy="676.3" r="3.0"/>
<circle cx="948.9" cy="680.1" r="3.0"/>
<circle cx="946.4" cy="679.8" r="3.0"/>
<circle cx="948.3" cy="679.1" r="3.0"/>
<circle cx="949.6" cy="681.5" r="3.0"/>
<circle cx="950.6" cy="680.1" r="3.0"/>
<circle cx="952.3" cy="681.9" r="3.0"/>
<circle cx="954.2" cy="679.1" r="3.0"/>
<circle cx="946.5" cy="681.8" r="3.0"/>
</g>
</g>
<rect x="634.4" y="413.2" width="406.2" height="343.2" fill="none" stroke="#7c7c7c" stroke-width="1.9"/>
<g stroke="#2a2a2a" stroke-width="0.9">
<line x1="695.3" y1="756.4" x2="695.3" y2="759.8"/>
<line x1="774.8" y1="756.4" x2="774.8" y2="759.8"/>
<line x1="854.3" y1="756.4" x2="854.3" y2="759.8"/>
<line x1="933.8" y1="756.4" x2="933.8" y2="759.8"/>
<line x1="1013.3" y1="756.4" x2="1013.3" y2="759.8"/>
<line x1="631.0" y1="739.3" x2="634.4" y2="739.3"/>
<line x1="631.0" y1="673.9" x2="634.4" y2="673.9"/>
<line x1="631.0" y1="608.6" x2="634.4" y2="608.6"/>
<line x1="631.0" y1="543.2" x2="634.4" y2="543.2"/>
<line x1="631.0" y1="477.8" x2="634.4" y2="477.8"/>
</g>
<text x="695.3" y="769.9" font-size="10.8" textLength="5.3" lengthAdjust="spacingAndGlyphs" text-anchor="middle" fill="#262626" stroke="#262626" stroke-width="0.25">0</text>
<text x="774.8" y="769.9" font-size="10.8" textLength="16.0" lengthAdjust="spacingAndGlyphs" text-anchor="middle" fill="#262626" stroke="#262626" stroke-width="0.25">100</text>
<text x="854.3" y="769.9" font-size="10.8" textLength="16.0" lengthAdjust="spacingAndGlyphs" text-anchor="middle" fill="#262626" stroke="#262626" stroke-width="0.25">200</text>
<text x="933.8" y="769.9" font-size="10.8" textLength="16.0" lengthAdjust="spacingAndGlyphs" text-anchor="middle" fill="#262626" stroke="#262626" stroke-width="0.25">300</text>
<text x="1013.3" y="769.9" font-size="10.8" textLength="16.0" lengthAdjust="spacingAndGlyphs" text-anchor="middle" fill="#262626" stroke="#262626" stroke-width="0.25">400</text>
<text x="627.6" y="742.9" font-size="10.8" textLength="23.1" lengthAdjust="spacingAndGlyphs" text-anchor="end" fill="#262626" stroke="#262626" stroke-width="0.25">−400</text>
<text x="627.6" y="677.5" font-size="10.8" textLength="23.1" lengthAdjust="spacingAndGlyphs" text-anchor="end" fill="#262626" stroke="#262626" stroke-width="0.25">−300</text>
<text x="627.6" y="612.2" font-size="10.8" textLength="23.1" lengthAdjust="spacingAndGlyphs" text-anchor="end" fill="#262626" stroke="#262626" stroke-width="0.25">−200</text>
<text x="627.6" y="546.8" font-size="10.8" textLength="23.1" lengthAdjust="spacingAndGlyphs" text-anchor="end" fill="#262626" stroke="#262626" stroke-width="0.25">−100</text>
<text x="627.6" y="481.4" font-size="10.8" textLength="5.3" lengthAdjust="spacingAndGlyphs" text-anchor="end" fill="#262626" stroke="#262626" stroke-width="0.25">0</text>
<text x="799.8" y="407.2" font-size="11.8" textLength="75.7" lengthAdjust="spacingAndGlyphs" fill="#262626" stroke="#262626" stroke-width="0.25">Residuals Plot</text>
<text x="788.9" y="783.5" font-size="10.8" textLength="97.8" lengthAdjust="spacingAndGlyphs" fill="#262626" stroke="#262626" stroke-width="0.25">Predicted BNB Values</text>
<text x="596.8" y="607.4" font-size="10.8" textLength="43.3" lengthAdjust="spacingAndGlyphs" transform="rotate(-90 596.8 607.4)" fill="#262626" stroke="#262626" stroke-width="0.25">Residuals</text>
</g>
<line x1="47.5" y1="333.9" x2="295.8" y2="271.4" stroke="#ff1414" stroke-width="1.9" stroke-dasharray="4.6,2.2"/>
<line x1="356.5" y1="83.6" x2="628.3" y2="83.6" stroke="#ff1414" stroke-width="1.9" stroke-dasharray="3.6,1.45"/>
<line x1="673.7" y1="253.2" x2="899.0" y2="137.9" stroke="#ff1414" stroke-width="1.6"/>
<line x1="947.3" y1="142.0" x2="1192.8" y2="142.0" stroke="#ff1414" stroke-width="1.9" stroke-dasharray="3.6,1.45"/>
<line x1="192.0" y1="702.3" x2="562.1" y2="682.4" stroke="#ff1414" stroke-width="1.6" stroke-dasharray="5.1,2.1"/>
<line x1="634.4" y1="477.8" x2="1040.6" y2="477.8" stroke="#ff1414" stroke-width="1.6" stroke-dasharray="5.1,2.1"/>
</svg></body></html>
